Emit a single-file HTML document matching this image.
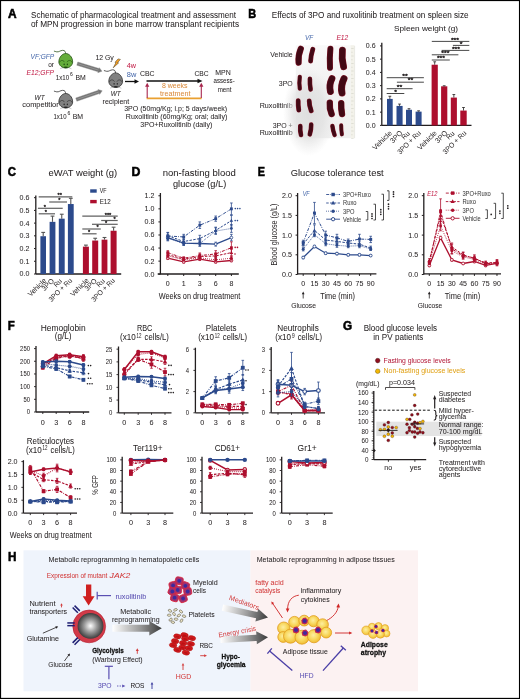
<!DOCTYPE html>
<html><head><meta charset="utf-8"><style>
html,body{margin:0;padding:0;background:#fff;}
svg{display:block;font-family:"Liberation Sans",sans-serif;will-change:transform;}
</style></head><body>
<svg width="520" height="699" viewBox="0 0 520 699" fill="#231f20">
<defs>
<radialGradient id="sph" cx="0.5" cy="0.5" r="0.55"><stop offset="0" stop-color="#ffffff"/><stop offset="0.45" stop-color="#9a9a9a"/><stop offset="1" stop-color="#2a2a2a"/></radialGradient>
<linearGradient id="garrow" x1="0" y1="0" x2="1" y2="0"><stop offset="0" stop-color="#ffffff"/><stop offset="0.55" stop-color="#9b9b9b"/><stop offset="1" stop-color="#3a3a3a"/></linearGradient>
<radialGradient id="fat" cx="0.45" cy="0.42" r="0.58"><stop offset="0" stop-color="#fdeea0"/><stop offset="0.55" stop-color="#f8d860"/><stop offset="1" stop-color="#f0bc32"/></radialGradient>
<linearGradient id="photo" x1="0" y1="0" x2="0" y2="1"><stop offset="0" stop-color="#f9f9f9"/><stop offset="0.3" stop-color="#f4f4f4"/><stop offset="1" stop-color="#efefef"/></linearGradient><radialGradient id="photo2" cx="0.5" cy="0.5" r="0.5"><stop offset="0" stop-color="#dedede" stop-opacity="1"/><stop offset="0.6" stop-color="#e2e2e2" stop-opacity="0.8"/><stop offset="1" stop-color="#e8e8e8" stop-opacity="0"/></radialGradient>
</defs>
<rect x="0.00" y="0.00" width="520.00" height="1.10" fill="#000" />
<rect x="0.00" y="0.00" width="1.10" height="699.00" fill="#000" />
<rect x="518.95" y="0.00" width="1.05" height="699.00" fill="#000" />
<rect x="0.00" y="697.85" width="520.00" height="1.15" fill="#000" />
<text x="8.00" y="18.10" font-size="12" fill="#000" stroke="#000" stroke-width="0.55" font-weight="bold" textLength="8.60" lengthAdjust="spacingAndGlyphs">A</text>
<text x="31.00" y="18.00" font-size="8.56" stroke="#231f20" stroke-width="0.04" textLength="205.00" lengthAdjust="spacingAndGlyphs">Schematic of pharmacological treatment and assessment</text>
<text x="31.00" y="27.00" font-size="8.56" stroke="#231f20" stroke-width="0.04" textLength="208.00" lengthAdjust="spacingAndGlyphs">of MPN progression in bone marrow transplant recipients</text>
<path d="M65.45,53.75 C65.75,51.95 64.95,50.15 62.55,50.35 C60.15,50.55 58.95,52.15 56.75,51.85 C55.55,51.75 54.75,51.15 53.95,51.05" fill="none" stroke="#1f4a10" stroke-width="0.75" />
<path d="M63.25,67.55 l-3.2,1.2 M68.25,67.55 l3.2,1.2" fill="none" stroke="#9a9a9a" stroke-width="0.5" />
<path d="M65.75,53.45 C68.75,53.45 72.65,56.75 72.65,61.95 C72.65,65.25 69.35,68.05 65.75,68.05 C62.15,68.05 58.85,65.25 58.85,61.95 C58.85,56.75 62.75,53.45 65.75,53.45 Z" fill="#64ad3a" stroke="#1f4a10" stroke-width="0.75" />
<path d="M59.55,62.35 C60.35,59.95 63.15,59.75 64.55,62.15 M71.95,62.35 C71.15,59.95 68.35,59.75 66.95,62.15" fill="none" stroke="#1f4a10" stroke-width="0.6" />
<ellipse cx="64.15" cy="64.35" rx="0.65" ry="0.9" fill="#1f4a10"/>
<ellipse cx="67.35" cy="64.35" rx="0.65" ry="0.9" fill="#1f4a10"/>
<ellipse cx="65.75" cy="67.35" rx="2.2" ry="0.8" fill="#1f4a10"/>
<path d="M115.40,73.20 C115.70,71.40 114.90,69.60 112.50,69.80 C110.10,70.00 108.90,71.60 106.70,71.30 C105.50,71.20 104.70,70.60 103.90,70.50" fill="none" stroke="#262626" stroke-width="0.75" />
<path d="M113.20,87.00 l-3.2,1.2 M118.20,87.00 l3.2,1.2" fill="none" stroke="#9a9a9a" stroke-width="0.5" />
<path d="M115.70,72.90 C118.70,72.90 122.60,76.20 122.60,81.40 C122.60,84.70 119.30,87.50 115.70,87.50 C112.10,87.50 108.80,84.70 108.80,81.40 C108.80,76.20 112.70,72.90 115.70,72.90 Z" fill="#808080" stroke="#262626" stroke-width="0.75" />
<path d="M109.50,81.80 C110.30,79.40 113.10,79.20 114.50,81.60 M121.90,81.80 C121.10,79.40 118.30,79.20 116.90,81.60" fill="none" stroke="#262626" stroke-width="0.6" />
<ellipse cx="114.10" cy="83.80" rx="0.65" ry="0.9" fill="#262626"/>
<ellipse cx="117.30" cy="83.80" rx="0.65" ry="0.9" fill="#262626"/>
<ellipse cx="115.70" cy="86.80" rx="2.2" ry="0.8" fill="#262626"/>
<path d="M76.80,65.22 L98.06,71.77 L97.79,72.63 L102.00,71.20 L99.32,67.66 L99.06,68.52 L77.80,61.98 Z" fill="#747474" stroke="#8a8a8a" stroke-width="0.4" />
<line x1="78.26" y1="63.89" x2="98.56" y2="70.14" stroke="#a8a8a8" stroke-width="0.6" />
<path d="M76.85,101.21 L99.34,93.57 L99.63,94.42 L102.20,90.80 L97.95,89.50 L98.24,90.35 L75.75,97.99 Z" fill="#747474" stroke="#8a8a8a" stroke-width="0.4" />
<line x1="77.25" y1="99.28" x2="98.79" y2="91.96" stroke="#a8a8a8" stroke-width="0.6" />
<text x="30.50" y="58.50" font-size="7.49" fill="#4a6bab" stroke="#4a6bab" stroke-width="0.04" font-style="italic" textLength="23.70" lengthAdjust="spacingAndGlyphs">VF;GFP</text>
<text x="48.20" y="66.50" font-size="7.49" stroke="#231f20" stroke-width="0.04" textLength="5.80" lengthAdjust="spacingAndGlyphs">or</text>
<text x="26.50" y="75.20" font-size="7.49" fill="#c2224a" stroke="#c2224a" stroke-width="0.04" font-style="italic" textLength="27.50" lengthAdjust="spacingAndGlyphs">E12;GFP</text>
<text x="55.80" y="79.60" font-size="7.49" stroke="#231f20" stroke-width="0.04" textLength="13.30" lengthAdjust="spacingAndGlyphs">1x10</text>
<text x="70.00" y="76.30" font-size="5.99" stroke="#231f20" stroke-width="0.04" textLength="2.80" lengthAdjust="spacingAndGlyphs">6</text>
<text x="75.50" y="79.60" font-size="7.49" stroke="#231f20" stroke-width="0.04" textLength="10.30" lengthAdjust="spacingAndGlyphs">BM</text>
<text x="34.60" y="100.10" font-size="7.49" stroke="#231f20" stroke-width="0.04" font-style="italic" textLength="10.00" lengthAdjust="spacingAndGlyphs">WT</text>
<text x="22.30" y="107.20" font-size="7.49" stroke="#231f20" stroke-width="0.04" textLength="36.40" lengthAdjust="spacingAndGlyphs">competitior</text>
<path d="M65.45,93.75 C65.75,91.95 64.95,90.15 62.55,90.35 C60.15,90.55 58.95,92.15 56.75,91.85 C55.55,91.75 54.75,91.15 53.95,91.05" fill="none" stroke="#262626" stroke-width="0.75" />
<path d="M63.25,107.55 l-3.2,1.2 M68.25,107.55 l3.2,1.2" fill="none" stroke="#9a9a9a" stroke-width="0.5" />
<path d="M65.75,93.45 C68.75,93.45 72.65,96.75 72.65,101.95 C72.65,105.25 69.35,108.05 65.75,108.05 C62.15,108.05 58.85,105.25 58.85,101.95 C58.85,96.75 62.75,93.45 65.75,93.45 Z" fill="#808080" stroke="#262626" stroke-width="0.75" />
<path d="M59.55,102.35 C60.35,99.95 63.15,99.75 64.55,102.15 M71.95,102.35 C71.15,99.95 68.35,99.75 66.95,102.15" fill="none" stroke="#262626" stroke-width="0.6" />
<ellipse cx="64.15" cy="104.35" rx="0.65" ry="0.9" fill="#262626"/>
<ellipse cx="67.35" cy="104.35" rx="0.65" ry="0.9" fill="#262626"/>
<ellipse cx="65.75" cy="107.35" rx="2.2" ry="0.8" fill="#262626"/>
<text x="53.50" y="118.60" font-size="7.49" stroke="#231f20" stroke-width="0.04" textLength="13.00" lengthAdjust="spacingAndGlyphs">1x10</text>
<text x="67.40" y="115.30" font-size="5.99" stroke="#231f20" stroke-width="0.04" textLength="2.80" lengthAdjust="spacingAndGlyphs">6</text>
<text x="72.70" y="118.60" font-size="7.49" stroke="#231f20" stroke-width="0.04" textLength="10.40" lengthAdjust="spacingAndGlyphs">BM</text>
<text x="95.40" y="60.40" font-size="7.49" stroke="#231f20" stroke-width="0.04" textLength="18.40" lengthAdjust="spacingAndGlyphs">12 Gy</text>
<path d="M118.0,58.9 L120.4,59.4 L117.6,62.6 L118.6,62.9 L113.2,67.8 L116.0,62.6 L115.0,62.3 Z" fill="#f2a025" stroke="#4a3a20" stroke-width="0.5" />
<text x="110.80" y="95.80" font-size="7.49" stroke="#231f20" stroke-width="0.04" font-style="italic" textLength="10.00" lengthAdjust="spacingAndGlyphs">WT</text>
<text x="102.60" y="103.70" font-size="7.49" stroke="#231f20" stroke-width="0.04" textLength="26.60" lengthAdjust="spacingAndGlyphs">recipient</text>
<text x="126.80" y="68.20" font-size="7.49" fill="#c2224a" stroke="#c2224a" stroke-width="0.04" textLength="9.20" lengthAdjust="spacingAndGlyphs">4w</text>
<text x="126.80" y="77.20" font-size="7.49" fill="#4a6bab" stroke="#4a6bab" stroke-width="0.04" textLength="9.50" lengthAdjust="spacingAndGlyphs">8w</text>
<line x1="125.00" y1="81.50" x2="136.00" y2="81.50" stroke="#111" stroke-width="1.3" />
<path d="M134.5,79.2 L139.0,81.5 L134.5,83.8 Z" fill="#111" />
<text x="140.00" y="75.80" font-size="7.49" stroke="#231f20" stroke-width="0.04" textLength="14.60" lengthAdjust="spacingAndGlyphs">CBC</text>
<text x="194.40" y="75.80" font-size="7.49" stroke="#231f20" stroke-width="0.04" textLength="14.20" lengthAdjust="spacingAndGlyphs">CBC</text>
<text x="215.30" y="74.70" font-size="7.49" stroke="#231f20" stroke-width="0.04" textLength="15.50" lengthAdjust="spacingAndGlyphs">MPN</text>
<text x="213.50" y="83.10" font-size="7.49" stroke="#231f20" stroke-width="0.04" textLength="21.20" lengthAdjust="spacingAndGlyphs">assess-</text>
<text x="217.70" y="91.60" font-size="7.49" stroke="#231f20" stroke-width="0.04" textLength="13.80" lengthAdjust="spacingAndGlyphs">ment</text>
<line x1="146.50" y1="81.00" x2="199.50" y2="81.00" stroke="#111" stroke-width="1.3" />
<path d="M197.5,78.8 L202.5,81.0 L197.5,83.2 Z" fill="#111" />
<line x1="146.60" y1="98.40" x2="201.60" y2="98.40" stroke="#eaa030" stroke-width="1.6" />
<line x1="147.20" y1="98.00" x2="147.20" y2="86.00" stroke="#a8274e" stroke-width="1.1" />
<path d="M145.1,86.8 L147.2,82.8 L149.3,86.8 Z" fill="#a8274e" />
<line x1="201.30" y1="98.00" x2="201.30" y2="86.00" stroke="#a8274e" stroke-width="1.1" />
<path d="M199.2,86.8 L201.3,82.8 L203.4,86.8 Z" fill="#a8274e" />
<text x="162.00" y="88.00" font-size="7.49" fill="#d98b3e" stroke="#d98b3e" stroke-width="0.04" textLength="25.60" lengthAdjust="spacingAndGlyphs">8 weeks</text>
<text x="160.00" y="96.20" font-size="7.49" fill="#d98b3e" stroke="#d98b3e" stroke-width="0.04" textLength="30.40" lengthAdjust="spacingAndGlyphs">treatment</text>
<text x="124.20" y="111.20" font-size="7.49" stroke="#231f20" stroke-width="0.04" textLength="103.00" lengthAdjust="spacingAndGlyphs">3PO (50mg/Kg; i.p; 5 days/week)</text>
<text x="125.80" y="119.00" font-size="7.49" stroke="#231f20" stroke-width="0.04" textLength="101.50" lengthAdjust="spacingAndGlyphs">Ruxolitinib (60mg/Kg; oral; daily)</text>
<text x="140.30" y="126.60" font-size="7.49" stroke="#231f20" stroke-width="0.04" textLength="72.00" lengthAdjust="spacingAndGlyphs">3PO+Ruxolitinib (daily)</text>
<text x="248.30" y="18.00" font-size="12" fill="#000" stroke="#000" stroke-width="0.55" font-weight="bold" textLength="7.90" lengthAdjust="spacingAndGlyphs">B</text>
<text x="271.80" y="17.50" font-size="8.13" stroke="#231f20" stroke-width="0.04" textLength="196.80" lengthAdjust="spacingAndGlyphs">Effects of 3PO and ruxolitinib treatment on spleen size</text>
<text x="305.00" y="40.40" font-size="7.49" fill="#4a6bab" stroke="#4a6bab" stroke-width="0.04" font-style="italic" textLength="8.20" lengthAdjust="spacingAndGlyphs">VF</text>
<text x="336.40" y="40.40" font-size="7.49" fill="#c2224a" stroke="#c2224a" stroke-width="0.04" font-style="italic" textLength="11.80" lengthAdjust="spacingAndGlyphs">E12</text>
<text x="292.70" y="57.00" font-size="7.49" stroke="#231f20" stroke-width="0.04" text-anchor="end" textLength="22.40" lengthAdjust="spacingAndGlyphs">Vehicle</text>
<text x="292.70" y="85.80" font-size="7.49" stroke="#231f20" stroke-width="0.04" text-anchor="end" textLength="13.90" lengthAdjust="spacingAndGlyphs">3PO</text>
<text x="292.70" y="107.70" font-size="7.49" stroke="#231f20" stroke-width="0.04" text-anchor="end" textLength="33.00" lengthAdjust="spacingAndGlyphs">Ruxolitinib</text>
<text x="292.70" y="127.90" font-size="7.49" stroke="#231f20" stroke-width="0.04" text-anchor="end" textLength="20.00" lengthAdjust="spacingAndGlyphs">3PO +</text>
<text x="292.70" y="135.30" font-size="7.49" stroke="#231f20" stroke-width="0.04" text-anchor="end" textLength="33.00" lengthAdjust="spacingAndGlyphs">Ruxolitinib</text>
<rect x="295.80" y="45.20" width="55.00" height="93.00" fill="url(#photo)" />
<ellipse cx="309" cy="112" rx="26" ry="44" fill="url(#photo2)"/>
<rect x="295.80" y="45.20" width="55.00" height="93.00" fill="none" stroke="#fff" stroke-width="0"/>
<rect x="350.60" y="45.20" width="4.00" height="93.00" fill="#f3f2ea" />
<line x1="354.60" y1="46.00" x2="354.60" y2="138.20" stroke="#dcdcd4" stroke-width="0.5" />
<line x1="351.20" y1="48.50" x2="353.60" y2="48.50" stroke="#c8c8bc" stroke-width="0.45" />
<line x1="351.20" y1="52.25" x2="352.60" y2="52.25" stroke="#c8c8bc" stroke-width="0.45" />
<line x1="351.20" y1="56.00" x2="353.60" y2="56.00" stroke="#c8c8bc" stroke-width="0.45" />
<line x1="351.20" y1="59.75" x2="352.60" y2="59.75" stroke="#c8c8bc" stroke-width="0.45" />
<line x1="351.20" y1="63.50" x2="353.60" y2="63.50" stroke="#c8c8bc" stroke-width="0.45" />
<line x1="351.20" y1="67.25" x2="352.60" y2="67.25" stroke="#c8c8bc" stroke-width="0.45" />
<line x1="351.20" y1="71.00" x2="353.60" y2="71.00" stroke="#c8c8bc" stroke-width="0.45" />
<line x1="351.20" y1="74.75" x2="352.60" y2="74.75" stroke="#c8c8bc" stroke-width="0.45" />
<line x1="351.20" y1="78.50" x2="353.60" y2="78.50" stroke="#c8c8bc" stroke-width="0.45" />
<line x1="351.20" y1="82.25" x2="352.60" y2="82.25" stroke="#c8c8bc" stroke-width="0.45" />
<line x1="351.20" y1="86.00" x2="353.60" y2="86.00" stroke="#c8c8bc" stroke-width="0.45" />
<line x1="351.20" y1="89.75" x2="352.60" y2="89.75" stroke="#c8c8bc" stroke-width="0.45" />
<line x1="351.20" y1="93.50" x2="353.60" y2="93.50" stroke="#c8c8bc" stroke-width="0.45" />
<line x1="351.20" y1="97.25" x2="352.60" y2="97.25" stroke="#c8c8bc" stroke-width="0.45" />
<line x1="351.20" y1="101.00" x2="353.60" y2="101.00" stroke="#c8c8bc" stroke-width="0.45" />
<line x1="351.20" y1="104.75" x2="352.60" y2="104.75" stroke="#c8c8bc" stroke-width="0.45" />
<line x1="351.20" y1="108.50" x2="353.60" y2="108.50" stroke="#c8c8bc" stroke-width="0.45" />
<line x1="351.20" y1="112.25" x2="352.60" y2="112.25" stroke="#c8c8bc" stroke-width="0.45" />
<line x1="351.20" y1="116.00" x2="353.60" y2="116.00" stroke="#c8c8bc" stroke-width="0.45" />
<line x1="351.20" y1="119.75" x2="352.60" y2="119.75" stroke="#c8c8bc" stroke-width="0.45" />
<line x1="351.20" y1="123.50" x2="353.60" y2="123.50" stroke="#c8c8bc" stroke-width="0.45" />
<line x1="351.20" y1="127.25" x2="352.60" y2="127.25" stroke="#c8c8bc" stroke-width="0.45" />
<line x1="351.20" y1="131.00" x2="353.60" y2="131.00" stroke="#c8c8bc" stroke-width="0.45" />
<line x1="351.20" y1="134.75" x2="352.60" y2="134.75" stroke="#c8c8bc" stroke-width="0.45" />
<line x1="351.20" y1="138.50" x2="353.60" y2="138.50" stroke="#c8c8bc" stroke-width="0.45" />
<path d="M300.80,48.80 Q297.90,55.70 298.60,62.60" fill="none" stroke="#801628" stroke-width="6.199999999999999" stroke-linecap="round"/>
<path d="M300.80,48.80 Q297.90,55.70 298.60,62.60" fill="none" stroke="#420915" stroke-width="5.199999999999999" stroke-linecap="round"/>
<path d="M312.80,49.20 Q310.90,55.20 310.60,61.20" fill="none" stroke="#801628" stroke-width="4.8" stroke-linecap="round"/>
<path d="M312.80,49.20 Q310.90,55.20 310.60,61.20" fill="none" stroke="#420915" stroke-width="3.8000000000000003" stroke-linecap="round"/>
<path d="M330.40,48.80 Q329.40,58.30 330.00,67.80" fill="none" stroke="#801628" stroke-width="6.0" stroke-linecap="round"/>
<path d="M330.40,48.80 Q329.40,58.30 330.00,67.80" fill="none" stroke="#420915" stroke-width="5.0" stroke-linecap="round"/>
<path d="M342.40,50.20 Q341.40,58.50 343.60,66.80" fill="none" stroke="#801628" stroke-width="6.8" stroke-linecap="round"/>
<path d="M342.40,50.20 Q341.40,58.50 343.60,66.80" fill="none" stroke="#420915" stroke-width="5.8" stroke-linecap="round"/>
<path d="M299.80,76.80 Q299.00,82.70 299.80,88.60" fill="none" stroke="#801628" stroke-width="4.2" stroke-linecap="round"/>
<path d="M299.80,76.80 Q299.00,82.70 299.80,88.60" fill="none" stroke="#420915" stroke-width="3.2" stroke-linecap="round"/>
<path d="M309.90,78.80 Q309.65,84.10 310.60,89.40" fill="none" stroke="#801628" stroke-width="4.6" stroke-linecap="round"/>
<path d="M309.90,78.80 Q309.65,84.10 310.60,89.40" fill="none" stroke="#420915" stroke-width="3.6" stroke-linecap="round"/>
<path d="M332.00,78.60 Q328.80,85.10 330.40,91.60" fill="none" stroke="#801628" stroke-width="6.8" stroke-linecap="round"/>
<path d="M332.00,78.60 Q328.80,85.10 330.40,91.60" fill="none" stroke="#420915" stroke-width="5.8" stroke-linecap="round"/>
<path d="M344.00,78.60 Q340.40,85.80 342.00,93.00" fill="none" stroke="#801628" stroke-width="7.0" stroke-linecap="round"/>
<path d="M344.00,78.60 Q340.40,85.80 342.00,93.00" fill="none" stroke="#420915" stroke-width="6.0" stroke-linecap="round"/>
<path d="M298.20,100.60 Q298.00,105.40 298.80,110.20" fill="none" stroke="#801628" stroke-width="4.8" stroke-linecap="round"/>
<path d="M298.20,100.60 Q298.00,105.40 298.80,110.20" fill="none" stroke="#420915" stroke-width="3.8000000000000003" stroke-linecap="round"/>
<path d="M309.20,100.80 Q309.20,105.80 311.20,110.80" fill="none" stroke="#801628" stroke-width="4.8" stroke-linecap="round"/>
<path d="M309.20,100.80 Q309.20,105.80 311.20,110.80" fill="none" stroke="#420915" stroke-width="3.8000000000000003" stroke-linecap="round"/>
<path d="M329.80,102.60 Q329.20,108.30 331.60,114.00" fill="none" stroke="#801628" stroke-width="6.3999999999999995" stroke-linecap="round"/>
<path d="M329.80,102.60 Q329.20,108.30 331.60,114.00" fill="none" stroke="#420915" stroke-width="5.3999999999999995" stroke-linecap="round"/>
<path d="M341.20,103.20 Q341.00,108.60 342.00,114.00" fill="none" stroke="#801628" stroke-width="6.3999999999999995" stroke-linecap="round"/>
<path d="M341.20,103.20 Q341.00,108.60 342.00,114.00" fill="none" stroke="#420915" stroke-width="5.3999999999999995" stroke-linecap="round"/>
<path d="M300.30,126.00 Q299.85,130.50 301.00,135.00" fill="none" stroke="#801628" stroke-width="4.6" stroke-linecap="round"/>
<path d="M300.30,126.00 Q299.85,130.50 301.00,135.00" fill="none" stroke="#420915" stroke-width="3.6" stroke-linecap="round"/>
<path d="M311.20,124.60 Q311.30,129.50 309.80,134.40" fill="none" stroke="#801628" stroke-width="4.6" stroke-linecap="round"/>
<path d="M311.20,124.60 Q311.30,129.50 309.80,134.40" fill="none" stroke="#420915" stroke-width="3.6" stroke-linecap="round"/>
<path d="M332.40,126.00 Q332.90,130.50 334.60,135.00" fill="none" stroke="#801628" stroke-width="4.3999999999999995" stroke-linecap="round"/>
<path d="M332.40,126.00 Q332.90,130.50 334.60,135.00" fill="none" stroke="#420915" stroke-width="3.4" stroke-linecap="round"/>
<path d="M341.20,125.20 Q341.15,129.80 341.90,134.40" fill="none" stroke="#801628" stroke-width="4.0" stroke-linecap="round"/>
<path d="M341.20,125.20 Q341.15,129.80 341.90,134.40" fill="none" stroke="#420915" stroke-width="3.0" stroke-linecap="round"/>
<text x="394.00" y="30.60" font-size="7.7" stroke="#231f20" stroke-width="0.04" textLength="64.00" lengthAdjust="spacingAndGlyphs">Spleen weight (g)</text>
<line x1="381.80" y1="42.80" x2="381.80" y2="125.40" stroke="#231f20" stroke-width="1.3" />
<line x1="380.00" y1="125.40" x2="381.80" y2="125.40" stroke="#231f20" stroke-width="1.0" />
<text x="375.60" y="127.85" font-size="7.28" stroke="#231f20" stroke-width="0.04" text-anchor="end" textLength="9.75" lengthAdjust="spacingAndGlyphs">0.0</text>
<line x1="380.00" y1="112.15" x2="381.80" y2="112.15" stroke="#231f20" stroke-width="1.0" />
<text x="375.60" y="114.60" font-size="7.28" stroke="#231f20" stroke-width="0.04" text-anchor="end" textLength="9.75" lengthAdjust="spacingAndGlyphs">0.1</text>
<line x1="380.00" y1="98.90" x2="381.80" y2="98.90" stroke="#231f20" stroke-width="1.0" />
<text x="375.60" y="101.35" font-size="7.28" stroke="#231f20" stroke-width="0.04" text-anchor="end" textLength="9.75" lengthAdjust="spacingAndGlyphs">0.2</text>
<line x1="380.00" y1="85.65" x2="381.80" y2="85.65" stroke="#231f20" stroke-width="1.0" />
<text x="375.60" y="88.10" font-size="7.28" stroke="#231f20" stroke-width="0.04" text-anchor="end" textLength="9.75" lengthAdjust="spacingAndGlyphs">0.3</text>
<line x1="380.00" y1="72.40" x2="381.80" y2="72.40" stroke="#231f20" stroke-width="1.0" />
<text x="375.60" y="74.85" font-size="7.28" stroke="#231f20" stroke-width="0.04" text-anchor="end" textLength="9.75" lengthAdjust="spacingAndGlyphs">0.4</text>
<line x1="380.00" y1="59.15" x2="381.80" y2="59.15" stroke="#231f20" stroke-width="1.0" />
<text x="375.60" y="61.60" font-size="7.28" stroke="#231f20" stroke-width="0.04" text-anchor="end" textLength="9.75" lengthAdjust="spacingAndGlyphs">0.5</text>
<line x1="380.00" y1="45.90" x2="381.80" y2="45.90" stroke="#231f20" stroke-width="1.0" />
<text x="375.60" y="48.35" font-size="7.28" stroke="#231f20" stroke-width="0.04" text-anchor="end" textLength="9.75" lengthAdjust="spacingAndGlyphs">0.6</text>
<line x1="381.80" y1="125.40" x2="471.50" y2="125.40" stroke="#231f20" stroke-width="1.3" />
<rect x="387.00" y="98.90" width="5.70" height="26.50" fill="#2c4a8c" />
<line x1="389.85" y1="98.90" x2="389.85" y2="96.25" stroke="#231f20" stroke-width="0.8" />
<line x1="388.45" y1="96.25" x2="391.25" y2="96.25" stroke="#231f20" stroke-width="0.8" />
<rect x="396.50" y="105.92" width="6.10" height="19.48" fill="#2c4a8c" />
<line x1="399.55" y1="105.92" x2="399.55" y2="104.07" stroke="#231f20" stroke-width="0.8" />
<line x1="398.15" y1="104.07" x2="400.95" y2="104.07" stroke="#231f20" stroke-width="0.8" />
<rect x="406.00" y="109.77" width="6.00" height="15.64" fill="#2c4a8c" />
<line x1="409.00" y1="109.77" x2="409.00" y2="108.71" stroke="#231f20" stroke-width="0.8" />
<line x1="407.60" y1="108.71" x2="410.40" y2="108.71" stroke="#231f20" stroke-width="0.8" />
<rect x="415.60" y="111.62" width="6.00" height="13.78" fill="#2c4a8c" />
<line x1="418.60" y1="111.62" x2="418.60" y2="110.83" stroke="#231f20" stroke-width="0.8" />
<line x1="417.20" y1="110.83" x2="420.00" y2="110.83" stroke="#231f20" stroke-width="0.8" />
<rect x="431.60" y="64.72" width="6.20" height="60.69" fill="#ad0f2e" />
<line x1="434.70" y1="64.72" x2="434.70" y2="61.80" stroke="#231f20" stroke-width="0.8" />
<line x1="433.30" y1="61.80" x2="436.10" y2="61.80" stroke="#231f20" stroke-width="0.8" />
<rect x="441.10" y="86.31" width="6.20" height="39.09" fill="#ad0f2e" />
<line x1="444.20" y1="86.31" x2="444.20" y2="85.78" stroke="#231f20" stroke-width="0.8" />
<line x1="442.80" y1="85.78" x2="445.60" y2="85.78" stroke="#231f20" stroke-width="0.8" />
<rect x="450.80" y="97.58" width="6.10" height="27.83" fill="#ad0f2e" />
<line x1="453.85" y1="97.58" x2="453.85" y2="94.53" stroke="#231f20" stroke-width="0.8" />
<line x1="452.45" y1="94.53" x2="455.25" y2="94.53" stroke="#231f20" stroke-width="0.8" />
<rect x="460.30" y="110.56" width="6.40" height="14.84" fill="#ad0f2e" />
<line x1="463.50" y1="110.56" x2="463.50" y2="107.51" stroke="#231f20" stroke-width="0.8" />
<line x1="462.10" y1="107.51" x2="464.90" y2="107.51" stroke="#231f20" stroke-width="0.8" />
<line x1="386.70" y1="77.70" x2="423.90" y2="77.70" stroke="#333" stroke-width="0.9" />
<text x="405.00" y="77.92" font-size="5.2" stroke="#231f20" stroke-width="0.3" text-anchor="middle" textLength="5.50" lengthAdjust="spacingAndGlyphs">**</text>
<line x1="396.90" y1="82.20" x2="423.90" y2="82.20" stroke="#333" stroke-width="0.9" />
<text x="410.40" y="82.42" font-size="5.2" stroke="#231f20" stroke-width="0.3" text-anchor="middle" textLength="5.50" lengthAdjust="spacingAndGlyphs">**</text>
<line x1="386.70" y1="88.70" x2="412.60" y2="88.70" stroke="#333" stroke-width="0.9" />
<text x="399.60" y="88.92" font-size="5.2" stroke="#231f20" stroke-width="0.3" text-anchor="middle" textLength="5.50" lengthAdjust="spacingAndGlyphs">**</text>
<line x1="386.70" y1="93.50" x2="404.30" y2="93.50" stroke="#333" stroke-width="0.9" />
<text x="395.70" y="93.72" font-size="5.2" stroke="#231f20" stroke-width="0.3" text-anchor="middle" textLength="2.75" lengthAdjust="spacingAndGlyphs">*</text>
<line x1="431.80" y1="41.40" x2="469.30" y2="41.40" stroke="#333" stroke-width="0.9" />
<text x="455.00" y="41.62" font-size="5.2" stroke="#231f20" stroke-width="0.3" text-anchor="middle" textLength="8.25" lengthAdjust="spacingAndGlyphs">***</text>
<line x1="452.90" y1="45.40" x2="469.30" y2="45.40" stroke="#333" stroke-width="0.9" />
<text x="461.20" y="45.62" font-size="5.2" stroke="#231f20" stroke-width="0.3" text-anchor="middle" textLength="2.75" lengthAdjust="spacingAndGlyphs">*</text>
<line x1="441.60" y1="50.40" x2="469.30" y2="50.40" stroke="#333" stroke-width="0.9" />
<text x="456.00" y="50.62" font-size="5.2" stroke="#231f20" stroke-width="0.3" text-anchor="middle" textLength="8.25" lengthAdjust="spacingAndGlyphs">***</text>
<line x1="431.80" y1="54.80" x2="458.40" y2="54.80" stroke="#333" stroke-width="0.9" />
<text x="445.30" y="55.02" font-size="5.2" stroke="#231f20" stroke-width="0.3" text-anchor="middle" textLength="8.25" lengthAdjust="spacingAndGlyphs">***</text>
<line x1="431.80" y1="60.00" x2="449.80" y2="60.00" stroke="#333" stroke-width="0.9" />
<text x="441.00" y="60.22" font-size="5.2" stroke="#231f20" stroke-width="0.3" text-anchor="middle" textLength="8.25" lengthAdjust="spacingAndGlyphs">***</text>
<text x="0" y="0" font-size="7.2" text-anchor="end" transform="translate(392.40,133.50) rotate(-45)" textLength="24.20" lengthAdjust="spacingAndGlyphs">Vehicle</text>
<text x="0" y="0" font-size="7.2" text-anchor="end" transform="translate(402.80,133.50) rotate(-45)" textLength="14.00" lengthAdjust="spacingAndGlyphs">3PO</text>
<text x="0" y="0" font-size="7.2" text-anchor="end" transform="translate(410.30,134.00) rotate(-45)" textLength="8.60" lengthAdjust="spacingAndGlyphs">Ru</text>
<text x="0" y="0" font-size="7.2" text-anchor="end" transform="translate(421.40,133.50) rotate(-45)" textLength="30.00" lengthAdjust="spacingAndGlyphs">3PO + Ru</text>
<text x="0" y="0" font-size="7.2" text-anchor="end" transform="translate(437.30,133.50) rotate(-45)" textLength="24.20" lengthAdjust="spacingAndGlyphs">Vehicle</text>
<text x="0" y="0" font-size="7.2" text-anchor="end" transform="translate(447.80,133.50) rotate(-45)" textLength="14.00" lengthAdjust="spacingAndGlyphs">3PO</text>
<text x="0" y="0" font-size="7.2" text-anchor="end" transform="translate(455.10,134.00) rotate(-45)" textLength="8.60" lengthAdjust="spacingAndGlyphs">Ru</text>
<text x="0" y="0" font-size="7.2" text-anchor="end" transform="translate(466.80,133.50) rotate(-45)" textLength="30.00" lengthAdjust="spacingAndGlyphs">3PO + Ru</text>
<text x="7.70" y="176.20" font-size="12" fill="#000" stroke="#000" stroke-width="0.55" font-weight="bold" textLength="8.20" lengthAdjust="spacingAndGlyphs">C</text>
<text x="48.50" y="175.80" font-size="8.88" stroke="#231f20" stroke-width="0.04" textLength="68.70" lengthAdjust="spacingAndGlyphs">eWAT weight (g)</text>
<line x1="35.80" y1="195.40" x2="35.80" y2="274.00" stroke="#231f20" stroke-width="1.3" />
<line x1="34.00" y1="274.00" x2="35.80" y2="274.00" stroke="#231f20" stroke-width="1.0" />
<text x="29.40" y="276.45" font-size="7.28" stroke="#231f20" stroke-width="0.04" text-anchor="end" textLength="9.90" lengthAdjust="spacingAndGlyphs">0.0</text>
<line x1="34.00" y1="261.28" x2="35.80" y2="261.28" stroke="#231f20" stroke-width="1.0" />
<text x="29.40" y="263.73" font-size="7.28" stroke="#231f20" stroke-width="0.04" text-anchor="end" textLength="9.90" lengthAdjust="spacingAndGlyphs">0.1</text>
<line x1="34.00" y1="248.56" x2="35.80" y2="248.56" stroke="#231f20" stroke-width="1.0" />
<text x="29.40" y="251.01" font-size="7.28" stroke="#231f20" stroke-width="0.04" text-anchor="end" textLength="9.90" lengthAdjust="spacingAndGlyphs">0.2</text>
<line x1="34.00" y1="235.84" x2="35.80" y2="235.84" stroke="#231f20" stroke-width="1.0" />
<text x="29.40" y="238.29" font-size="7.28" stroke="#231f20" stroke-width="0.04" text-anchor="end" textLength="9.90" lengthAdjust="spacingAndGlyphs">0.3</text>
<line x1="34.00" y1="223.12" x2="35.80" y2="223.12" stroke="#231f20" stroke-width="1.0" />
<text x="29.40" y="225.57" font-size="7.28" stroke="#231f20" stroke-width="0.04" text-anchor="end" textLength="9.90" lengthAdjust="spacingAndGlyphs">0.4</text>
<line x1="34.00" y1="210.40" x2="35.80" y2="210.40" stroke="#231f20" stroke-width="1.0" />
<text x="29.40" y="212.85" font-size="7.28" stroke="#231f20" stroke-width="0.04" text-anchor="end" textLength="9.90" lengthAdjust="spacingAndGlyphs">0.5</text>
<line x1="34.00" y1="197.68" x2="35.80" y2="197.68" stroke="#231f20" stroke-width="1.0" />
<text x="29.40" y="200.13" font-size="7.28" stroke="#231f20" stroke-width="0.04" text-anchor="end" textLength="9.90" lengthAdjust="spacingAndGlyphs">0.6</text>
<line x1="35.80" y1="274.00" x2="121.20" y2="274.00" stroke="#231f20" stroke-width="1.3" />
<rect x="40.40" y="236.22" width="5.60" height="37.78" fill="#2c4a8c" />
<line x1="43.20" y1="236.22" x2="43.20" y2="232.41" stroke="#555" stroke-width="1.1" />
<line x1="41.30" y1="232.41" x2="45.10" y2="232.41" stroke="#555" stroke-width="1.1" />
<rect x="49.60" y="221.85" width="5.80" height="52.15" fill="#2c4a8c" />
<line x1="52.50" y1="221.85" x2="52.50" y2="216.12" stroke="#555" stroke-width="1.1" />
<line x1="50.60" y1="216.12" x2="54.40" y2="216.12" stroke="#555" stroke-width="1.1" />
<rect x="58.80" y="218.67" width="5.90" height="55.33" fill="#2c4a8c" />
<line x1="61.75" y1="218.67" x2="61.75" y2="214.22" stroke="#555" stroke-width="1.1" />
<line x1="59.85" y1="214.22" x2="63.65" y2="214.22" stroke="#555" stroke-width="1.1" />
<rect x="67.90" y="204.04" width="5.80" height="69.96" fill="#2c4a8c" />
<line x1="70.80" y1="204.04" x2="70.80" y2="198.32" stroke="#555" stroke-width="1.1" />
<line x1="68.90" y1="198.32" x2="72.70" y2="198.32" stroke="#555" stroke-width="1.1" />
<rect x="82.90" y="246.65" width="6.00" height="27.35" fill="#ad0f2e" />
<line x1="85.90" y1="246.65" x2="85.90" y2="245.13" stroke="#555" stroke-width="1.1" />
<line x1="84.00" y1="245.13" x2="87.80" y2="245.13" stroke="#555" stroke-width="1.1" />
<rect x="92.20" y="240.55" width="6.00" height="33.45" fill="#ad0f2e" />
<line x1="95.20" y1="240.55" x2="95.20" y2="238.26" stroke="#555" stroke-width="1.1" />
<line x1="93.30" y1="238.26" x2="97.10" y2="238.26" stroke="#555" stroke-width="1.1" />
<rect x="101.60" y="239.66" width="5.80" height="34.34" fill="#ad0f2e" />
<line x1="104.50" y1="239.66" x2="104.50" y2="237.49" stroke="#555" stroke-width="1.1" />
<line x1="102.60" y1="237.49" x2="106.40" y2="237.49" stroke="#555" stroke-width="1.1" />
<rect x="110.60" y="230.75" width="6.00" height="43.25" fill="#ad0f2e" />
<line x1="113.60" y1="230.75" x2="113.60" y2="227.19" stroke="#555" stroke-width="1.1" />
<line x1="111.70" y1="227.19" x2="115.50" y2="227.19" stroke="#555" stroke-width="1.1" />
<rect x="90.20" y="189.30" width="6.50" height="3.40" fill="#2c4a8c" />
<rect x="90.20" y="199.90" width="6.50" height="3.40" fill="#ad0f2e" />
<text x="99.70" y="192.90" font-size="7.28" stroke="#231f20" stroke-width="0.04" textLength="6.80" lengthAdjust="spacingAndGlyphs">VF</text>
<text x="99.70" y="203.70" font-size="7.28" stroke="#231f20" stroke-width="0.04" textLength="11.10" lengthAdjust="spacingAndGlyphs">E12</text>
<line x1="38.70" y1="196.90" x2="72.30" y2="196.90" stroke="#606060" stroke-width="1.2" />
<text x="59.80" y="197.30" font-size="5.0" stroke="#231f20" stroke-width="0.3" text-anchor="middle" textLength="4.40" lengthAdjust="spacingAndGlyphs">**</text>
<line x1="49.20" y1="202.00" x2="67.00" y2="202.00" stroke="#606060" stroke-width="1.2" />
<text x="59.30" y="202.40" font-size="5.0" stroke="#231f20" stroke-width="0.3" text-anchor="middle" textLength="2.20" lengthAdjust="spacingAndGlyphs">*</text>
<line x1="37.90" y1="208.30" x2="62.70" y2="208.30" stroke="#606060" stroke-width="1.2" />
<text x="44.90" y="208.70" font-size="5.0" stroke="#231f20" stroke-width="0.3" text-anchor="middle" textLength="2.20" lengthAdjust="spacingAndGlyphs">*</text>
<line x1="38.70" y1="213.80" x2="55.00" y2="213.80" stroke="#606060" stroke-width="1.2" />
<text x="45.90" y="214.20" font-size="5.0" stroke="#231f20" stroke-width="0.3" text-anchor="middle" textLength="2.20" lengthAdjust="spacingAndGlyphs">*</text>
<line x1="82.30" y1="216.20" x2="117.70" y2="216.20" stroke="#606060" stroke-width="1.2" />
<text x="108.00" y="216.60" font-size="5.0" stroke="#231f20" stroke-width="0.3" text-anchor="middle" textLength="6.60" lengthAdjust="spacingAndGlyphs">***</text>
<line x1="101.20" y1="220.50" x2="117.70" y2="220.50" stroke="#606060" stroke-width="1.2" />
<text x="114.60" y="220.90" font-size="5.0" stroke="#231f20" stroke-width="0.3" text-anchor="middle" textLength="2.20" lengthAdjust="spacingAndGlyphs">*</text>
<line x1="92.00" y1="224.30" x2="117.70" y2="224.30" stroke="#606060" stroke-width="1.2" />
<text x="106.00" y="224.70" font-size="5.0" stroke="#231f20" stroke-width="0.3" text-anchor="middle" textLength="2.20" lengthAdjust="spacingAndGlyphs">*</text>
<line x1="82.30" y1="229.00" x2="100.80" y2="229.00" stroke="#606060" stroke-width="1.2" />
<text x="97.70" y="229.40" font-size="5.0" stroke="#231f20" stroke-width="0.3" text-anchor="middle" textLength="2.20" lengthAdjust="spacingAndGlyphs">*</text>
<line x1="82.30" y1="233.80" x2="96.60" y2="233.80" stroke="#606060" stroke-width="1.2" />
<text x="89.20" y="234.20" font-size="5.0" stroke="#231f20" stroke-width="0.3" text-anchor="middle" textLength="2.20" lengthAdjust="spacingAndGlyphs">*</text>
<text x="0" y="0" font-size="7.2" text-anchor="end" transform="translate(46.80,281.00) rotate(-45)" textLength="22.80" lengthAdjust="spacingAndGlyphs">Vehicle</text>
<text x="0" y="0" font-size="7.2" text-anchor="end" transform="translate(54.50,281.30) rotate(-45)" textLength="14.00" lengthAdjust="spacingAndGlyphs">3PO</text>
<text x="0" y="0" font-size="7.2" text-anchor="end" transform="translate(62.50,281.60) rotate(-45)" textLength="8.60" lengthAdjust="spacingAndGlyphs">Ru</text>
<text x="0" y="0" font-size="7.2" text-anchor="end" transform="translate(72.60,281.00) rotate(-45)" textLength="30.00" lengthAdjust="spacingAndGlyphs">3PO + Ru</text>
<text x="0" y="0" font-size="7.2" text-anchor="end" transform="translate(89.40,281.00) rotate(-45)" textLength="22.80" lengthAdjust="spacingAndGlyphs">Vehicle</text>
<text x="0" y="0" font-size="7.2" text-anchor="end" transform="translate(97.40,281.30) rotate(-45)" textLength="14.00" lengthAdjust="spacingAndGlyphs">3PO</text>
<text x="0" y="0" font-size="7.2" text-anchor="end" transform="translate(105.30,281.60) rotate(-45)" textLength="8.60" lengthAdjust="spacingAndGlyphs">Ru</text>
<text x="0" y="0" font-size="7.2" text-anchor="end" transform="translate(115.40,281.00) rotate(-45)" textLength="30.00" lengthAdjust="spacingAndGlyphs">3PO + Ru</text>
<text x="131.50" y="176.00" font-size="12" fill="#000" stroke="#000" stroke-width="0.55" font-weight="bold" textLength="8.90" lengthAdjust="spacingAndGlyphs">D</text>
<text x="162.70" y="176.20" font-size="8.88" stroke="#231f20" stroke-width="0.04" textLength="73.10" lengthAdjust="spacingAndGlyphs">non-fasting blood</text>
<text x="173.00" y="186.80" font-size="8.88" stroke="#231f20" stroke-width="0.04" textLength="53.20" lengthAdjust="spacingAndGlyphs">glucose (g/L)</text>
<line x1="160.40" y1="193.00" x2="160.40" y2="274.20" stroke="#231f20" stroke-width="1.3" />
<line x1="158.40" y1="274.20" x2="160.40" y2="274.20" stroke="#231f20" stroke-width="1.0" />
<text x="154.40" y="276.65" font-size="7.28" stroke="#231f20" stroke-width="0.04" text-anchor="end" textLength="9.90" lengthAdjust="spacingAndGlyphs">0.0</text>
<line x1="158.40" y1="261.13" x2="160.40" y2="261.13" stroke="#231f20" stroke-width="1.0" />
<text x="154.40" y="263.58" font-size="7.28" stroke="#231f20" stroke-width="0.04" text-anchor="end" textLength="9.90" lengthAdjust="spacingAndGlyphs">0.2</text>
<line x1="158.40" y1="248.06" x2="160.40" y2="248.06" stroke="#231f20" stroke-width="1.0" />
<text x="154.40" y="250.51" font-size="7.28" stroke="#231f20" stroke-width="0.04" text-anchor="end" textLength="9.90" lengthAdjust="spacingAndGlyphs">0.4</text>
<line x1="158.40" y1="234.99" x2="160.40" y2="234.99" stroke="#231f20" stroke-width="1.0" />
<text x="154.40" y="237.44" font-size="7.28" stroke="#231f20" stroke-width="0.04" text-anchor="end" textLength="9.90" lengthAdjust="spacingAndGlyphs">0.6</text>
<line x1="158.40" y1="221.92" x2="160.40" y2="221.92" stroke="#231f20" stroke-width="1.0" />
<text x="154.40" y="224.37" font-size="7.28" stroke="#231f20" stroke-width="0.04" text-anchor="end" textLength="9.90" lengthAdjust="spacingAndGlyphs">0.8</text>
<line x1="158.40" y1="208.85" x2="160.40" y2="208.85" stroke="#231f20" stroke-width="1.0" />
<text x="154.40" y="211.30" font-size="7.28" stroke="#231f20" stroke-width="0.04" text-anchor="end" textLength="9.90" lengthAdjust="spacingAndGlyphs">1.0</text>
<line x1="158.40" y1="195.78" x2="160.40" y2="195.78" stroke="#231f20" stroke-width="1.0" />
<text x="154.40" y="198.23" font-size="7.28" stroke="#231f20" stroke-width="0.04" text-anchor="end" textLength="9.90" lengthAdjust="spacingAndGlyphs">1.2</text>
<line x1="157.70" y1="274.00" x2="238.80" y2="274.00" stroke="#231f20" stroke-width="1.3" />
<line x1="167.80" y1="274.00" x2="167.80" y2="276.00" stroke="#231f20" stroke-width="1.0" />
<text x="167.80" y="286.40" font-size="7.06" stroke="#231f20" stroke-width="0.04" text-anchor="middle">0</text>
<line x1="183.70" y1="274.00" x2="183.70" y2="276.00" stroke="#231f20" stroke-width="1.0" />
<text x="183.70" y="286.40" font-size="7.06" stroke="#231f20" stroke-width="0.04" text-anchor="middle">1</text>
<line x1="199.80" y1="274.00" x2="199.80" y2="276.00" stroke="#231f20" stroke-width="1.0" />
<text x="199.80" y="286.40" font-size="7.06" stroke="#231f20" stroke-width="0.04" text-anchor="middle">3</text>
<line x1="215.70" y1="274.00" x2="215.70" y2="276.00" stroke="#231f20" stroke-width="1.0" />
<text x="215.70" y="286.40" font-size="7.06" stroke="#231f20" stroke-width="0.04" text-anchor="middle">6</text>
<line x1="231.40" y1="274.00" x2="231.40" y2="276.00" stroke="#231f20" stroke-width="1.0" />
<text x="231.40" y="286.40" font-size="7.06" stroke="#231f20" stroke-width="0.04" text-anchor="middle">8</text>
<text x="158.70" y="299.10" font-size="9.42" stroke="#231f20" stroke-width="0.04" textLength="81.70" lengthAdjust="spacingAndGlyphs">Weeks on drug treatment</text>
<polyline points="167.80,237.60 183.70,243.16 199.80,243.49 215.70,244.14 231.40,237.60" fill="none" stroke="#2c4a8c" stroke-width="1.30" />
<line x1="167.80" y1="234.99" x2="167.80" y2="240.22" stroke="#2c4a8c" stroke-width="0.8" />
<line x1="166.50" y1="234.99" x2="169.10" y2="234.99" stroke="#2c4a8c" stroke-width="0.8" />
<line x1="166.50" y1="240.22" x2="169.10" y2="240.22" stroke="#2c4a8c" stroke-width="0.8" />
<line x1="183.70" y1="241.20" x2="183.70" y2="245.12" stroke="#2c4a8c" stroke-width="0.8" />
<line x1="182.40" y1="241.20" x2="185.00" y2="241.20" stroke="#2c4a8c" stroke-width="0.8" />
<line x1="182.40" y1="245.12" x2="185.00" y2="245.12" stroke="#2c4a8c" stroke-width="0.8" />
<line x1="199.80" y1="240.87" x2="199.80" y2="246.10" stroke="#2c4a8c" stroke-width="0.8" />
<line x1="198.50" y1="240.87" x2="201.10" y2="240.87" stroke="#2c4a8c" stroke-width="0.8" />
<line x1="198.50" y1="246.10" x2="201.10" y2="246.10" stroke="#2c4a8c" stroke-width="0.8" />
<line x1="215.70" y1="242.18" x2="215.70" y2="246.10" stroke="#2c4a8c" stroke-width="0.8" />
<line x1="214.40" y1="242.18" x2="217.00" y2="242.18" stroke="#2c4a8c" stroke-width="0.8" />
<line x1="214.40" y1="246.10" x2="217.00" y2="246.10" stroke="#2c4a8c" stroke-width="0.8" />
<line x1="231.40" y1="234.34" x2="231.40" y2="240.87" stroke="#2c4a8c" stroke-width="0.8" />
<line x1="230.10" y1="234.34" x2="232.70" y2="234.34" stroke="#2c4a8c" stroke-width="0.8" />
<line x1="230.10" y1="240.87" x2="232.70" y2="240.87" stroke="#2c4a8c" stroke-width="0.8" />
<circle cx="167.80" cy="237.60" r="1.38" fill="#fff" stroke="#2c4a8c" stroke-width="0.83"/>
<circle cx="183.70" cy="243.16" r="1.38" fill="#fff" stroke="#2c4a8c" stroke-width="0.83"/>
<circle cx="199.80" cy="243.49" r="1.38" fill="#fff" stroke="#2c4a8c" stroke-width="0.83"/>
<circle cx="215.70" cy="244.14" r="1.38" fill="#fff" stroke="#2c4a8c" stroke-width="0.83"/>
<circle cx="231.40" cy="237.60" r="1.38" fill="#fff" stroke="#2c4a8c" stroke-width="0.83"/>
<polyline points="167.80,235.64 183.70,241.52 199.80,238.58 215.70,230.42 231.40,220.61" fill="none" stroke="#2c4a8c" stroke-width="1.00" stroke-dasharray="2.5 1.3"/>
<line x1="167.80" y1="232.38" x2="167.80" y2="238.91" stroke="#2c4a8c" stroke-width="0.8" />
<line x1="166.50" y1="232.38" x2="169.10" y2="232.38" stroke="#2c4a8c" stroke-width="0.8" />
<line x1="166.50" y1="238.91" x2="169.10" y2="238.91" stroke="#2c4a8c" stroke-width="0.8" />
<line x1="183.70" y1="238.91" x2="183.70" y2="244.14" stroke="#2c4a8c" stroke-width="0.8" />
<line x1="182.40" y1="238.91" x2="185.00" y2="238.91" stroke="#2c4a8c" stroke-width="0.8" />
<line x1="182.40" y1="244.14" x2="185.00" y2="244.14" stroke="#2c4a8c" stroke-width="0.8" />
<line x1="199.80" y1="235.32" x2="199.80" y2="241.85" stroke="#2c4a8c" stroke-width="0.8" />
<line x1="198.50" y1="235.32" x2="201.10" y2="235.32" stroke="#2c4a8c" stroke-width="0.8" />
<line x1="198.50" y1="241.85" x2="201.10" y2="241.85" stroke="#2c4a8c" stroke-width="0.8" />
<line x1="215.70" y1="227.15" x2="215.70" y2="233.68" stroke="#2c4a8c" stroke-width="0.8" />
<line x1="214.40" y1="227.15" x2="217.00" y2="227.15" stroke="#2c4a8c" stroke-width="0.8" />
<line x1="214.40" y1="233.68" x2="217.00" y2="233.68" stroke="#2c4a8c" stroke-width="0.8" />
<line x1="231.40" y1="215.38" x2="231.40" y2="225.84" stroke="#2c4a8c" stroke-width="0.8" />
<line x1="230.10" y1="215.38" x2="232.70" y2="215.38" stroke="#2c4a8c" stroke-width="0.8" />
<line x1="230.10" y1="225.84" x2="232.70" y2="225.84" stroke="#2c4a8c" stroke-width="0.8" />
<path d="M167.80,233.75 L169.53,236.90 L166.07,236.90 Z" fill="#2c4a8c" />
<path d="M183.70,239.63 L185.43,242.78 L181.97,242.78 Z" fill="#2c4a8c" />
<path d="M199.80,236.69 L201.53,239.84 L198.07,239.84 Z" fill="#2c4a8c" />
<path d="M215.70,228.53 L217.43,231.68 L213.97,231.68 Z" fill="#2c4a8c" />
<path d="M231.40,218.72 L233.13,221.87 L229.67,221.87 Z" fill="#2c4a8c" />
<polyline points="167.80,238.26 183.70,243.49 199.80,243.49 215.70,231.07 231.40,228.45" fill="none" stroke="#2c4a8c" stroke-width="1.00" stroke-dasharray="0.8 1.2"/>
<line x1="167.80" y1="235.64" x2="167.80" y2="240.87" stroke="#2c4a8c" stroke-width="0.8" />
<line x1="166.50" y1="235.64" x2="169.10" y2="235.64" stroke="#2c4a8c" stroke-width="0.8" />
<line x1="166.50" y1="240.87" x2="169.10" y2="240.87" stroke="#2c4a8c" stroke-width="0.8" />
<line x1="183.70" y1="241.53" x2="183.70" y2="245.45" stroke="#2c4a8c" stroke-width="0.8" />
<line x1="182.40" y1="241.53" x2="185.00" y2="241.53" stroke="#2c4a8c" stroke-width="0.8" />
<line x1="182.40" y1="245.45" x2="185.00" y2="245.45" stroke="#2c4a8c" stroke-width="0.8" />
<line x1="199.80" y1="240.87" x2="199.80" y2="246.10" stroke="#2c4a8c" stroke-width="0.8" />
<line x1="198.50" y1="240.87" x2="201.10" y2="240.87" stroke="#2c4a8c" stroke-width="0.8" />
<line x1="198.50" y1="246.10" x2="201.10" y2="246.10" stroke="#2c4a8c" stroke-width="0.8" />
<line x1="215.70" y1="227.80" x2="215.70" y2="234.34" stroke="#2c4a8c" stroke-width="0.8" />
<line x1="214.40" y1="227.80" x2="217.00" y2="227.80" stroke="#2c4a8c" stroke-width="0.8" />
<line x1="214.40" y1="234.34" x2="217.00" y2="234.34" stroke="#2c4a8c" stroke-width="0.8" />
<line x1="231.40" y1="224.53" x2="231.40" y2="232.38" stroke="#2c4a8c" stroke-width="0.8" />
<line x1="230.10" y1="224.53" x2="232.70" y2="224.53" stroke="#2c4a8c" stroke-width="0.8" />
<line x1="230.10" y1="232.38" x2="232.70" y2="232.38" stroke="#2c4a8c" stroke-width="0.8" />
<circle cx="167.80" cy="238.26" r="1.42" fill="#2c4a8c" />
<circle cx="183.70" cy="243.49" r="1.42" fill="#2c4a8c" />
<circle cx="199.80" cy="243.49" r="1.42" fill="#2c4a8c" />
<circle cx="215.70" cy="231.07" r="1.42" fill="#2c4a8c" />
<circle cx="231.40" cy="228.45" r="1.42" fill="#2c4a8c" />
<polyline points="167.80,235.97 183.70,236.95 199.80,225.19 215.70,218.65 231.40,208.85" fill="none" stroke="#2c4a8c" stroke-width="1.00" stroke-dasharray="3 1.2 0.8 1.2"/>
<line x1="167.80" y1="232.70" x2="167.80" y2="239.24" stroke="#2c4a8c" stroke-width="0.8" />
<line x1="166.50" y1="232.70" x2="169.10" y2="232.70" stroke="#2c4a8c" stroke-width="0.8" />
<line x1="166.50" y1="239.24" x2="169.10" y2="239.24" stroke="#2c4a8c" stroke-width="0.8" />
<line x1="183.70" y1="234.34" x2="183.70" y2="239.56" stroke="#2c4a8c" stroke-width="0.8" />
<line x1="182.40" y1="234.34" x2="185.00" y2="234.34" stroke="#2c4a8c" stroke-width="0.8" />
<line x1="182.40" y1="239.56" x2="185.00" y2="239.56" stroke="#2c4a8c" stroke-width="0.8" />
<line x1="199.80" y1="221.92" x2="199.80" y2="228.46" stroke="#2c4a8c" stroke-width="0.8" />
<line x1="198.50" y1="221.92" x2="201.10" y2="221.92" stroke="#2c4a8c" stroke-width="0.8" />
<line x1="198.50" y1="228.46" x2="201.10" y2="228.46" stroke="#2c4a8c" stroke-width="0.8" />
<line x1="215.70" y1="216.04" x2="215.70" y2="221.27" stroke="#2c4a8c" stroke-width="0.8" />
<line x1="214.40" y1="216.04" x2="217.00" y2="216.04" stroke="#2c4a8c" stroke-width="0.8" />
<line x1="214.40" y1="221.27" x2="217.00" y2="221.27" stroke="#2c4a8c" stroke-width="0.8" />
<line x1="231.40" y1="202.97" x2="231.40" y2="214.73" stroke="#2c4a8c" stroke-width="0.8" />
<line x1="230.10" y1="202.97" x2="232.70" y2="202.97" stroke="#2c4a8c" stroke-width="0.8" />
<line x1="230.10" y1="214.73" x2="232.70" y2="214.73" stroke="#2c4a8c" stroke-width="0.8" />
<rect x="166.38" y="234.55" width="2.85" height="2.85" fill="#2c4a8c" />
<rect x="182.27" y="235.53" width="2.85" height="2.85" fill="#2c4a8c" />
<rect x="198.38" y="223.76" width="2.85" height="2.85" fill="#2c4a8c" />
<rect x="214.27" y="217.23" width="2.85" height="2.85" fill="#2c4a8c" />
<rect x="229.97" y="207.42" width="2.85" height="2.85" fill="#2c4a8c" />
<polyline points="167.80,258.19 183.70,261.78 199.80,259.17 215.70,261.78 231.40,260.48" fill="none" stroke="#ad0f2e" stroke-width="1.30" />
<line x1="167.80" y1="256.88" x2="167.80" y2="259.50" stroke="#ad0f2e" stroke-width="0.8" />
<line x1="166.50" y1="256.88" x2="169.10" y2="256.88" stroke="#ad0f2e" stroke-width="0.8" />
<line x1="166.50" y1="259.50" x2="169.10" y2="259.50" stroke="#ad0f2e" stroke-width="0.8" />
<line x1="183.70" y1="260.48" x2="183.70" y2="263.09" stroke="#ad0f2e" stroke-width="0.8" />
<line x1="182.40" y1="260.48" x2="185.00" y2="260.48" stroke="#ad0f2e" stroke-width="0.8" />
<line x1="182.40" y1="263.09" x2="185.00" y2="263.09" stroke="#ad0f2e" stroke-width="0.8" />
<line x1="199.80" y1="257.86" x2="199.80" y2="260.48" stroke="#ad0f2e" stroke-width="0.8" />
<line x1="198.50" y1="257.86" x2="201.10" y2="257.86" stroke="#ad0f2e" stroke-width="0.8" />
<line x1="198.50" y1="260.48" x2="201.10" y2="260.48" stroke="#ad0f2e" stroke-width="0.8" />
<line x1="215.70" y1="260.48" x2="215.70" y2="263.09" stroke="#ad0f2e" stroke-width="0.8" />
<line x1="214.40" y1="260.48" x2="217.00" y2="260.48" stroke="#ad0f2e" stroke-width="0.8" />
<line x1="214.40" y1="263.09" x2="217.00" y2="263.09" stroke="#ad0f2e" stroke-width="0.8" />
<line x1="231.40" y1="259.17" x2="231.40" y2="261.78" stroke="#ad0f2e" stroke-width="0.8" />
<line x1="230.10" y1="259.17" x2="232.70" y2="259.17" stroke="#ad0f2e" stroke-width="0.8" />
<line x1="230.10" y1="261.78" x2="232.70" y2="261.78" stroke="#ad0f2e" stroke-width="0.8" />
<circle cx="167.80" cy="258.19" r="1.38" fill="#fff" stroke="#ad0f2e" stroke-width="0.83"/>
<circle cx="183.70" cy="261.78" r="1.38" fill="#fff" stroke="#ad0f2e" stroke-width="0.83"/>
<circle cx="199.80" cy="259.17" r="1.38" fill="#fff" stroke="#ad0f2e" stroke-width="0.83"/>
<circle cx="215.70" cy="261.78" r="1.38" fill="#fff" stroke="#ad0f2e" stroke-width="0.83"/>
<circle cx="231.40" cy="260.48" r="1.38" fill="#fff" stroke="#ad0f2e" stroke-width="0.83"/>
<polyline points="167.80,255.90 183.70,259.82 199.80,257.86 215.70,259.82 231.40,258.19" fill="none" stroke="#ad0f2e" stroke-width="1.00" stroke-dasharray="0.8 1.2"/>
<line x1="167.80" y1="253.94" x2="167.80" y2="257.86" stroke="#ad0f2e" stroke-width="0.8" />
<line x1="166.50" y1="253.94" x2="169.10" y2="253.94" stroke="#ad0f2e" stroke-width="0.8" />
<line x1="166.50" y1="257.86" x2="169.10" y2="257.86" stroke="#ad0f2e" stroke-width="0.8" />
<line x1="183.70" y1="258.52" x2="183.70" y2="261.13" stroke="#ad0f2e" stroke-width="0.8" />
<line x1="182.40" y1="258.52" x2="185.00" y2="258.52" stroke="#ad0f2e" stroke-width="0.8" />
<line x1="182.40" y1="261.13" x2="185.00" y2="261.13" stroke="#ad0f2e" stroke-width="0.8" />
<line x1="199.80" y1="255.90" x2="199.80" y2="259.82" stroke="#ad0f2e" stroke-width="0.8" />
<line x1="198.50" y1="255.90" x2="201.10" y2="255.90" stroke="#ad0f2e" stroke-width="0.8" />
<line x1="198.50" y1="259.82" x2="201.10" y2="259.82" stroke="#ad0f2e" stroke-width="0.8" />
<line x1="215.70" y1="257.86" x2="215.70" y2="261.78" stroke="#ad0f2e" stroke-width="0.8" />
<line x1="214.40" y1="257.86" x2="217.00" y2="257.86" stroke="#ad0f2e" stroke-width="0.8" />
<line x1="214.40" y1="261.78" x2="217.00" y2="261.78" stroke="#ad0f2e" stroke-width="0.8" />
<line x1="231.40" y1="256.23" x2="231.40" y2="260.15" stroke="#ad0f2e" stroke-width="0.8" />
<line x1="230.10" y1="256.23" x2="232.70" y2="256.23" stroke="#ad0f2e" stroke-width="0.8" />
<line x1="230.10" y1="260.15" x2="232.70" y2="260.15" stroke="#ad0f2e" stroke-width="0.8" />
<circle cx="167.80" cy="255.90" r="1.42" fill="#ad0f2e" />
<circle cx="183.70" cy="259.82" r="1.42" fill="#ad0f2e" />
<circle cx="199.80" cy="257.86" r="1.42" fill="#ad0f2e" />
<circle cx="215.70" cy="259.82" r="1.42" fill="#ad0f2e" />
<circle cx="231.40" cy="258.19" r="1.42" fill="#ad0f2e" />
<polyline points="167.80,254.59 183.70,259.17 199.80,256.56 215.70,255.90 231.40,252.63" fill="none" stroke="#ad0f2e" stroke-width="1.00" stroke-dasharray="2.5 1.3"/>
<line x1="167.80" y1="252.63" x2="167.80" y2="256.56" stroke="#ad0f2e" stroke-width="0.8" />
<line x1="166.50" y1="252.63" x2="169.10" y2="252.63" stroke="#ad0f2e" stroke-width="0.8" />
<line x1="166.50" y1="256.56" x2="169.10" y2="256.56" stroke="#ad0f2e" stroke-width="0.8" />
<line x1="183.70" y1="257.86" x2="183.70" y2="260.48" stroke="#ad0f2e" stroke-width="0.8" />
<line x1="182.40" y1="257.86" x2="185.00" y2="257.86" stroke="#ad0f2e" stroke-width="0.8" />
<line x1="182.40" y1="260.48" x2="185.00" y2="260.48" stroke="#ad0f2e" stroke-width="0.8" />
<line x1="199.80" y1="253.94" x2="199.80" y2="259.17" stroke="#ad0f2e" stroke-width="0.8" />
<line x1="198.50" y1="253.94" x2="201.10" y2="253.94" stroke="#ad0f2e" stroke-width="0.8" />
<line x1="198.50" y1="259.17" x2="201.10" y2="259.17" stroke="#ad0f2e" stroke-width="0.8" />
<line x1="215.70" y1="253.29" x2="215.70" y2="258.52" stroke="#ad0f2e" stroke-width="0.8" />
<line x1="214.40" y1="253.29" x2="217.00" y2="253.29" stroke="#ad0f2e" stroke-width="0.8" />
<line x1="214.40" y1="258.52" x2="217.00" y2="258.52" stroke="#ad0f2e" stroke-width="0.8" />
<line x1="231.40" y1="249.37" x2="231.40" y2="255.90" stroke="#ad0f2e" stroke-width="0.8" />
<line x1="230.10" y1="249.37" x2="232.70" y2="249.37" stroke="#ad0f2e" stroke-width="0.8" />
<line x1="230.10" y1="255.90" x2="232.70" y2="255.90" stroke="#ad0f2e" stroke-width="0.8" />
<path d="M167.80,252.71 L169.53,255.85 L166.07,255.85 Z" fill="#ad0f2e" />
<path d="M183.70,257.28 L185.43,260.43 L181.97,260.43 Z" fill="#ad0f2e" />
<path d="M199.80,254.67 L201.53,257.82 L198.07,257.82 Z" fill="#ad0f2e" />
<path d="M215.70,254.01 L217.43,257.16 L213.97,257.16 Z" fill="#ad0f2e" />
<path d="M231.40,250.74 L233.13,253.89 L229.67,253.89 Z" fill="#ad0f2e" />
<polyline points="167.80,252.63 183.70,258.19 199.80,255.58 215.70,253.94 231.40,247.73" fill="none" stroke="#ad0f2e" stroke-width="1.00" stroke-dasharray="3 1.2 0.8 1.2"/>
<line x1="167.80" y1="250.67" x2="167.80" y2="254.59" stroke="#ad0f2e" stroke-width="0.8" />
<line x1="166.50" y1="250.67" x2="169.10" y2="250.67" stroke="#ad0f2e" stroke-width="0.8" />
<line x1="166.50" y1="254.59" x2="169.10" y2="254.59" stroke="#ad0f2e" stroke-width="0.8" />
<line x1="183.70" y1="256.88" x2="183.70" y2="259.50" stroke="#ad0f2e" stroke-width="0.8" />
<line x1="182.40" y1="256.88" x2="185.00" y2="256.88" stroke="#ad0f2e" stroke-width="0.8" />
<line x1="182.40" y1="259.50" x2="185.00" y2="259.50" stroke="#ad0f2e" stroke-width="0.8" />
<line x1="199.80" y1="252.96" x2="199.80" y2="258.19" stroke="#ad0f2e" stroke-width="0.8" />
<line x1="198.50" y1="252.96" x2="201.10" y2="252.96" stroke="#ad0f2e" stroke-width="0.8" />
<line x1="198.50" y1="258.19" x2="201.10" y2="258.19" stroke="#ad0f2e" stroke-width="0.8" />
<line x1="215.70" y1="250.67" x2="215.70" y2="257.21" stroke="#ad0f2e" stroke-width="0.8" />
<line x1="214.40" y1="250.67" x2="217.00" y2="250.67" stroke="#ad0f2e" stroke-width="0.8" />
<line x1="214.40" y1="257.21" x2="217.00" y2="257.21" stroke="#ad0f2e" stroke-width="0.8" />
<line x1="231.40" y1="241.85" x2="231.40" y2="253.61" stroke="#ad0f2e" stroke-width="0.8" />
<line x1="230.10" y1="241.85" x2="232.70" y2="241.85" stroke="#ad0f2e" stroke-width="0.8" />
<line x1="230.10" y1="253.61" x2="232.70" y2="253.61" stroke="#ad0f2e" stroke-width="0.8" />
<rect x="166.38" y="251.21" width="2.85" height="2.85" fill="#ad0f2e" />
<rect x="182.27" y="256.76" width="2.85" height="2.85" fill="#ad0f2e" />
<rect x="198.38" y="254.15" width="2.85" height="2.85" fill="#ad0f2e" />
<rect x="214.27" y="252.52" width="2.85" height="2.85" fill="#ad0f2e" />
<rect x="229.97" y="246.31" width="2.85" height="2.85" fill="#ad0f2e" />
<circle cx="235.30" cy="208.60" r="0.80" fill="#2c4a8c" />
<circle cx="237.60" cy="208.60" r="0.80" fill="#2c4a8c" />
<circle cx="239.90" cy="208.60" r="0.80" fill="#2c4a8c" />
<circle cx="235.15" cy="220.60" r="0.80" fill="#2c4a8c" />
<circle cx="237.45" cy="220.60" r="0.80" fill="#2c4a8c" />
<circle cx="235.15" cy="247.40" r="0.80" fill="#ad0f2e" />
<circle cx="237.45" cy="247.40" r="0.80" fill="#ad0f2e" />
<circle cx="235.00" cy="254.00" r="0.80" fill="#ad0f2e" />
<text x="257.80" y="175.80" font-size="12" fill="#000" stroke="#000" stroke-width="0.55" font-weight="bold" textLength="7.20" lengthAdjust="spacingAndGlyphs">E</text>
<text x="290.70" y="175.80" font-size="8.88" stroke="#231f20" stroke-width="0.04" textLength="93.00" lengthAdjust="spacingAndGlyphs">Glucose tolerance test</text>
<line x1="297.60" y1="193.00" x2="297.60" y2="274.50" stroke="#231f20" stroke-width="1.3" />
<line x1="295.60" y1="274.50" x2="297.60" y2="274.50" stroke="#231f20" stroke-width="1.0" />
<text x="292.00" y="276.95" font-size="7.28" stroke="#231f20" stroke-width="0.04" text-anchor="end" textLength="9.90" lengthAdjust="spacingAndGlyphs">0.0</text>
<line x1="295.60" y1="254.80" x2="297.60" y2="254.80" stroke="#231f20" stroke-width="1.0" />
<text x="292.00" y="257.25" font-size="7.28" stroke="#231f20" stroke-width="0.04" text-anchor="end" textLength="9.90" lengthAdjust="spacingAndGlyphs">0.5</text>
<line x1="295.60" y1="235.10" x2="297.60" y2="235.10" stroke="#231f20" stroke-width="1.0" />
<text x="292.00" y="237.55" font-size="7.28" stroke="#231f20" stroke-width="0.04" text-anchor="end" textLength="9.90" lengthAdjust="spacingAndGlyphs">1.0</text>
<line x1="295.60" y1="215.40" x2="297.60" y2="215.40" stroke="#231f20" stroke-width="1.0" />
<text x="292.00" y="217.85" font-size="7.28" stroke="#231f20" stroke-width="0.04" text-anchor="end" textLength="9.90" lengthAdjust="spacingAndGlyphs">1.5</text>
<line x1="295.60" y1="195.70" x2="297.60" y2="195.70" stroke="#231f20" stroke-width="1.0" />
<text x="292.00" y="198.15" font-size="7.28" stroke="#231f20" stroke-width="0.04" text-anchor="end" textLength="9.90" lengthAdjust="spacingAndGlyphs">2.0</text>
<line x1="297.60" y1="273.90" x2="376.40" y2="273.90" stroke="#231f20" stroke-width="1.3" />
<line x1="303.20" y1="273.90" x2="303.20" y2="275.90" stroke="#231f20" stroke-width="1.0" />
<text x="303.20" y="286.40" font-size="7.06" stroke="#231f20" stroke-width="0.04" text-anchor="middle">0</text>
<line x1="314.45" y1="273.90" x2="314.45" y2="275.90" stroke="#231f20" stroke-width="1.0" />
<text x="314.45" y="286.40" font-size="7.06" stroke="#231f20" stroke-width="0.04" text-anchor="middle">15</text>
<line x1="325.70" y1="273.90" x2="325.70" y2="275.90" stroke="#231f20" stroke-width="1.0" />
<text x="325.70" y="286.40" font-size="7.06" stroke="#231f20" stroke-width="0.04" text-anchor="middle">30</text>
<line x1="336.95" y1="273.90" x2="336.95" y2="275.90" stroke="#231f20" stroke-width="1.0" />
<text x="336.95" y="286.40" font-size="7.06" stroke="#231f20" stroke-width="0.04" text-anchor="middle">45</text>
<line x1="348.20" y1="273.90" x2="348.20" y2="275.90" stroke="#231f20" stroke-width="1.0" />
<text x="348.20" y="286.40" font-size="7.06" stroke="#231f20" stroke-width="0.04" text-anchor="middle">60</text>
<line x1="359.45" y1="273.90" x2="359.45" y2="275.90" stroke="#231f20" stroke-width="1.0" />
<text x="359.45" y="286.40" font-size="7.06" stroke="#231f20" stroke-width="0.04" text-anchor="middle">75</text>
<line x1="370.70" y1="273.90" x2="370.70" y2="275.90" stroke="#231f20" stroke-width="1.0" />
<text x="370.70" y="286.40" font-size="7.06" stroke="#231f20" stroke-width="0.04" text-anchor="middle">90</text>
<line x1="303.20" y1="298.50" x2="303.20" y2="293.00" stroke="#231f20" stroke-width="0.8" />
<path d="M301.80,294.2 L303.20,291.6 L304.60,294.2 Z" fill="#231f20" />
<line x1="423.80" y1="193.00" x2="423.80" y2="274.50" stroke="#231f20" stroke-width="1.3" />
<line x1="421.80" y1="274.50" x2="423.80" y2="274.50" stroke="#231f20" stroke-width="1.0" />
<text x="418.20" y="276.95" font-size="7.28" stroke="#231f20" stroke-width="0.04" text-anchor="end" textLength="9.90" lengthAdjust="spacingAndGlyphs">0.0</text>
<line x1="421.80" y1="254.80" x2="423.80" y2="254.80" stroke="#231f20" stroke-width="1.0" />
<text x="418.20" y="257.25" font-size="7.28" stroke="#231f20" stroke-width="0.04" text-anchor="end" textLength="9.90" lengthAdjust="spacingAndGlyphs">0.5</text>
<line x1="421.80" y1="235.10" x2="423.80" y2="235.10" stroke="#231f20" stroke-width="1.0" />
<text x="418.20" y="237.55" font-size="7.28" stroke="#231f20" stroke-width="0.04" text-anchor="end" textLength="9.90" lengthAdjust="spacingAndGlyphs">1.0</text>
<line x1="421.80" y1="215.40" x2="423.80" y2="215.40" stroke="#231f20" stroke-width="1.0" />
<text x="418.20" y="217.85" font-size="7.28" stroke="#231f20" stroke-width="0.04" text-anchor="end" textLength="9.90" lengthAdjust="spacingAndGlyphs">1.5</text>
<line x1="421.80" y1="195.70" x2="423.80" y2="195.70" stroke="#231f20" stroke-width="1.0" />
<text x="418.20" y="198.15" font-size="7.28" stroke="#231f20" stroke-width="0.04" text-anchor="end" textLength="9.90" lengthAdjust="spacingAndGlyphs">2.0</text>
<line x1="423.80" y1="273.90" x2="501.00" y2="273.90" stroke="#231f20" stroke-width="1.3" />
<line x1="429.30" y1="273.90" x2="429.30" y2="275.90" stroke="#231f20" stroke-width="1.0" />
<text x="429.30" y="286.40" font-size="7.06" stroke="#231f20" stroke-width="0.04" text-anchor="middle">0</text>
<line x1="440.58" y1="273.90" x2="440.58" y2="275.90" stroke="#231f20" stroke-width="1.0" />
<text x="440.58" y="286.40" font-size="7.06" stroke="#231f20" stroke-width="0.04" text-anchor="middle">15</text>
<line x1="451.86" y1="273.90" x2="451.86" y2="275.90" stroke="#231f20" stroke-width="1.0" />
<text x="451.86" y="286.40" font-size="7.06" stroke="#231f20" stroke-width="0.04" text-anchor="middle">30</text>
<line x1="463.14" y1="273.90" x2="463.14" y2="275.90" stroke="#231f20" stroke-width="1.0" />
<text x="463.14" y="286.40" font-size="7.06" stroke="#231f20" stroke-width="0.04" text-anchor="middle">45</text>
<line x1="474.42" y1="273.90" x2="474.42" y2="275.90" stroke="#231f20" stroke-width="1.0" />
<text x="474.42" y="286.40" font-size="7.06" stroke="#231f20" stroke-width="0.04" text-anchor="middle">60</text>
<line x1="485.70" y1="273.90" x2="485.70" y2="275.90" stroke="#231f20" stroke-width="1.0" />
<text x="485.70" y="286.40" font-size="7.06" stroke="#231f20" stroke-width="0.04" text-anchor="middle">75</text>
<line x1="496.98" y1="273.90" x2="496.98" y2="275.90" stroke="#231f20" stroke-width="1.0" />
<text x="496.98" y="286.40" font-size="7.06" stroke="#231f20" stroke-width="0.04" text-anchor="middle">90</text>
<line x1="429.30" y1="298.50" x2="429.30" y2="293.00" stroke="#231f20" stroke-width="0.8" />
<path d="M427.90,294.2 L429.30,291.6 L430.70,294.2 Z" fill="#231f20" />
<text x="320.20" y="299.30" font-size="9.1" stroke="#231f20" stroke-width="0.04" textLength="34.80" lengthAdjust="spacingAndGlyphs">Time (min)</text>
<text x="444.80" y="299.30" font-size="9.1" stroke="#231f20" stroke-width="0.04" textLength="35.40" lengthAdjust="spacingAndGlyphs">Time (min)</text>
<text x="291.20" y="308.20" font-size="6.96" stroke="#231f20" stroke-width="0.04" textLength="24.80" lengthAdjust="spacingAndGlyphs">Glucose</text>
<text x="417.80" y="308.20" font-size="6.96" stroke="#231f20" stroke-width="0.04" textLength="24.40" lengthAdjust="spacingAndGlyphs">Glucose</text>
<text x="0" y="0" font-size="8.6" text-anchor="middle" transform="translate(277.0,234.6) rotate(-90)" textLength="62" lengthAdjust="spacingAndGlyphs">Blood glucose (g/L)</text>
<text x="302.70" y="196.30" font-size="6.85" fill="#4a6bab" stroke="#4a6bab" stroke-width="0.04" font-style="italic" textLength="6.90" lengthAdjust="spacingAndGlyphs">VF</text>
<text x="427.30" y="195.80" font-size="6.85" fill="#c2224a" stroke="#c2224a" stroke-width="0.04" font-style="italic" textLength="10.10" lengthAdjust="spacingAndGlyphs">E12</text>
<polyline points="303.20,257.56 314.45,246.53 325.70,253.22 336.95,253.62 348.20,254.80 359.45,254.80 370.70,255.59" fill="none" stroke="#2c4a8c" stroke-width="1.30" />
<line x1="303.20" y1="256.38" x2="303.20" y2="258.74" stroke="#2c4a8c" stroke-width="0.8" />
<line x1="301.90" y1="256.38" x2="304.50" y2="256.38" stroke="#2c4a8c" stroke-width="0.8" />
<line x1="301.90" y1="258.74" x2="304.50" y2="258.74" stroke="#2c4a8c" stroke-width="0.8" />
<line x1="314.45" y1="245.34" x2="314.45" y2="247.71" stroke="#2c4a8c" stroke-width="0.8" />
<line x1="313.15" y1="245.34" x2="315.75" y2="245.34" stroke="#2c4a8c" stroke-width="0.8" />
<line x1="313.15" y1="247.71" x2="315.75" y2="247.71" stroke="#2c4a8c" stroke-width="0.8" />
<line x1="325.70" y1="252.04" x2="325.70" y2="254.41" stroke="#2c4a8c" stroke-width="0.8" />
<line x1="324.40" y1="252.04" x2="327.00" y2="252.04" stroke="#2c4a8c" stroke-width="0.8" />
<line x1="324.40" y1="254.41" x2="327.00" y2="254.41" stroke="#2c4a8c" stroke-width="0.8" />
<line x1="336.95" y1="252.44" x2="336.95" y2="254.80" stroke="#2c4a8c" stroke-width="0.8" />
<line x1="335.65" y1="252.44" x2="338.25" y2="252.44" stroke="#2c4a8c" stroke-width="0.8" />
<line x1="335.65" y1="254.80" x2="338.25" y2="254.80" stroke="#2c4a8c" stroke-width="0.8" />
<line x1="348.20" y1="253.62" x2="348.20" y2="255.98" stroke="#2c4a8c" stroke-width="0.8" />
<line x1="346.90" y1="253.62" x2="349.50" y2="253.62" stroke="#2c4a8c" stroke-width="0.8" />
<line x1="346.90" y1="255.98" x2="349.50" y2="255.98" stroke="#2c4a8c" stroke-width="0.8" />
<line x1="359.45" y1="253.62" x2="359.45" y2="255.98" stroke="#2c4a8c" stroke-width="0.8" />
<line x1="358.15" y1="253.62" x2="360.75" y2="253.62" stroke="#2c4a8c" stroke-width="0.8" />
<line x1="358.15" y1="255.98" x2="360.75" y2="255.98" stroke="#2c4a8c" stroke-width="0.8" />
<line x1="370.70" y1="254.80" x2="370.70" y2="256.38" stroke="#2c4a8c" stroke-width="0.8" />
<line x1="369.40" y1="254.80" x2="372.00" y2="254.80" stroke="#2c4a8c" stroke-width="0.8" />
<line x1="369.40" y1="256.38" x2="372.00" y2="256.38" stroke="#2c4a8c" stroke-width="0.8" />
<circle cx="303.20" cy="257.56" r="1.43" fill="#fff" stroke="#2c4a8c" stroke-width="0.85"/>
<circle cx="314.45" cy="246.53" r="1.43" fill="#fff" stroke="#2c4a8c" stroke-width="0.85"/>
<circle cx="325.70" cy="253.22" r="1.43" fill="#fff" stroke="#2c4a8c" stroke-width="0.85"/>
<circle cx="336.95" cy="253.62" r="1.43" fill="#fff" stroke="#2c4a8c" stroke-width="0.85"/>
<circle cx="348.20" cy="254.80" r="1.43" fill="#fff" stroke="#2c4a8c" stroke-width="0.85"/>
<circle cx="359.45" cy="254.80" r="1.43" fill="#fff" stroke="#2c4a8c" stroke-width="0.85"/>
<circle cx="370.70" cy="255.59" r="1.43" fill="#fff" stroke="#2c4a8c" stroke-width="0.85"/>
<polyline points="303.20,249.28 314.45,234.71 325.70,243.77 336.95,245.34 348.20,246.13 359.45,245.74 370.70,248.89" fill="none" stroke="#2c4a8c" stroke-width="1.00" stroke-dasharray="0.8 1.2"/>
<line x1="303.20" y1="247.71" x2="303.20" y2="250.86" stroke="#2c4a8c" stroke-width="0.8" />
<line x1="301.90" y1="247.71" x2="304.50" y2="247.71" stroke="#2c4a8c" stroke-width="0.8" />
<line x1="301.90" y1="250.86" x2="304.50" y2="250.86" stroke="#2c4a8c" stroke-width="0.8" />
<line x1="314.45" y1="232.74" x2="314.45" y2="236.68" stroke="#2c4a8c" stroke-width="0.8" />
<line x1="313.15" y1="232.74" x2="315.75" y2="232.74" stroke="#2c4a8c" stroke-width="0.8" />
<line x1="313.15" y1="236.68" x2="315.75" y2="236.68" stroke="#2c4a8c" stroke-width="0.8" />
<line x1="325.70" y1="241.80" x2="325.70" y2="245.74" stroke="#2c4a8c" stroke-width="0.8" />
<line x1="324.40" y1="241.80" x2="327.00" y2="241.80" stroke="#2c4a8c" stroke-width="0.8" />
<line x1="324.40" y1="245.74" x2="327.00" y2="245.74" stroke="#2c4a8c" stroke-width="0.8" />
<line x1="336.95" y1="243.37" x2="336.95" y2="247.31" stroke="#2c4a8c" stroke-width="0.8" />
<line x1="335.65" y1="243.37" x2="338.25" y2="243.37" stroke="#2c4a8c" stroke-width="0.8" />
<line x1="335.65" y1="247.31" x2="338.25" y2="247.31" stroke="#2c4a8c" stroke-width="0.8" />
<line x1="348.20" y1="244.56" x2="348.20" y2="247.71" stroke="#2c4a8c" stroke-width="0.8" />
<line x1="346.90" y1="244.56" x2="349.50" y2="244.56" stroke="#2c4a8c" stroke-width="0.8" />
<line x1="346.90" y1="247.71" x2="349.50" y2="247.71" stroke="#2c4a8c" stroke-width="0.8" />
<line x1="359.45" y1="243.77" x2="359.45" y2="247.71" stroke="#2c4a8c" stroke-width="0.8" />
<line x1="358.15" y1="243.77" x2="360.75" y2="243.77" stroke="#2c4a8c" stroke-width="0.8" />
<line x1="358.15" y1="247.71" x2="360.75" y2="247.71" stroke="#2c4a8c" stroke-width="0.8" />
<line x1="370.70" y1="247.31" x2="370.70" y2="250.47" stroke="#2c4a8c" stroke-width="0.8" />
<line x1="369.40" y1="247.31" x2="372.00" y2="247.31" stroke="#2c4a8c" stroke-width="0.8" />
<line x1="369.40" y1="250.47" x2="372.00" y2="250.47" stroke="#2c4a8c" stroke-width="0.8" />
<circle cx="303.20" cy="249.28" r="1.47" fill="#2c4a8c" />
<circle cx="314.45" cy="234.71" r="1.47" fill="#2c4a8c" />
<circle cx="325.70" cy="243.77" r="1.47" fill="#2c4a8c" />
<circle cx="336.95" cy="245.34" r="1.47" fill="#2c4a8c" />
<circle cx="348.20" cy="246.13" r="1.47" fill="#2c4a8c" />
<circle cx="359.45" cy="245.74" r="1.47" fill="#2c4a8c" />
<circle cx="370.70" cy="248.89" r="1.47" fill="#2c4a8c" />
<polyline points="303.20,244.16 314.45,230.37 325.70,240.03 336.95,241.40 348.20,242.98 359.45,244.16 370.70,248.10" fill="none" stroke="#2c4a8c" stroke-width="1.00" stroke-dasharray="2.5 1.3"/>
<line x1="303.20" y1="242.19" x2="303.20" y2="246.13" stroke="#2c4a8c" stroke-width="0.8" />
<line x1="301.90" y1="242.19" x2="304.50" y2="242.19" stroke="#2c4a8c" stroke-width="0.8" />
<line x1="301.90" y1="246.13" x2="304.50" y2="246.13" stroke="#2c4a8c" stroke-width="0.8" />
<line x1="314.45" y1="224.86" x2="314.45" y2="235.89" stroke="#2c4a8c" stroke-width="0.8" />
<line x1="313.15" y1="224.86" x2="315.75" y2="224.86" stroke="#2c4a8c" stroke-width="0.8" />
<line x1="313.15" y1="235.89" x2="315.75" y2="235.89" stroke="#2c4a8c" stroke-width="0.8" />
<line x1="325.70" y1="237.27" x2="325.70" y2="242.78" stroke="#2c4a8c" stroke-width="0.8" />
<line x1="324.40" y1="237.27" x2="327.00" y2="237.27" stroke="#2c4a8c" stroke-width="0.8" />
<line x1="324.40" y1="242.78" x2="327.00" y2="242.78" stroke="#2c4a8c" stroke-width="0.8" />
<line x1="336.95" y1="239.04" x2="336.95" y2="243.77" stroke="#2c4a8c" stroke-width="0.8" />
<line x1="335.65" y1="239.04" x2="338.25" y2="239.04" stroke="#2c4a8c" stroke-width="0.8" />
<line x1="335.65" y1="243.77" x2="338.25" y2="243.77" stroke="#2c4a8c" stroke-width="0.8" />
<line x1="348.20" y1="241.01" x2="348.20" y2="244.95" stroke="#2c4a8c" stroke-width="0.8" />
<line x1="346.90" y1="241.01" x2="349.50" y2="241.01" stroke="#2c4a8c" stroke-width="0.8" />
<line x1="346.90" y1="244.95" x2="349.50" y2="244.95" stroke="#2c4a8c" stroke-width="0.8" />
<line x1="359.45" y1="241.80" x2="359.45" y2="246.53" stroke="#2c4a8c" stroke-width="0.8" />
<line x1="358.15" y1="241.80" x2="360.75" y2="241.80" stroke="#2c4a8c" stroke-width="0.8" />
<line x1="358.15" y1="246.53" x2="360.75" y2="246.53" stroke="#2c4a8c" stroke-width="0.8" />
<line x1="370.70" y1="246.13" x2="370.70" y2="250.07" stroke="#2c4a8c" stroke-width="0.8" />
<line x1="369.40" y1="246.13" x2="372.00" y2="246.13" stroke="#2c4a8c" stroke-width="0.8" />
<line x1="369.40" y1="250.07" x2="372.00" y2="250.07" stroke="#2c4a8c" stroke-width="0.8" />
<path d="M303.20,242.21 L304.99,245.46 L301.41,245.46 Z" fill="#2c4a8c" />
<path d="M314.45,228.42 L316.24,231.67 L312.66,231.67 Z" fill="#2c4a8c" />
<path d="M325.70,238.07 L327.49,241.33 L323.91,241.33 Z" fill="#2c4a8c" />
<path d="M336.95,239.45 L338.74,242.71 L335.16,242.71 Z" fill="#2c4a8c" />
<path d="M348.20,241.03 L349.99,244.28 L346.41,244.28 Z" fill="#2c4a8c" />
<path d="M359.45,242.21 L361.24,245.46 L357.66,245.46 Z" fill="#2c4a8c" />
<path d="M370.70,246.15 L372.49,249.40 L368.91,249.40 Z" fill="#2c4a8c" />
<polyline points="303.20,242.59 314.45,213.04 325.70,235.10 336.95,237.86 348.20,241.40 359.45,239.04 370.70,239.43" fill="none" stroke="#2c4a8c" stroke-width="1.00" stroke-dasharray="3 1.2 0.8 1.2"/>
<line x1="303.20" y1="240.22" x2="303.20" y2="244.95" stroke="#2c4a8c" stroke-width="0.8" />
<line x1="301.90" y1="240.22" x2="304.50" y2="240.22" stroke="#2c4a8c" stroke-width="0.8" />
<line x1="301.90" y1="244.95" x2="304.50" y2="244.95" stroke="#2c4a8c" stroke-width="0.8" />
<line x1="314.45" y1="202.40" x2="314.45" y2="223.67" stroke="#2c4a8c" stroke-width="0.8" />
<line x1="313.15" y1="202.40" x2="315.75" y2="202.40" stroke="#2c4a8c" stroke-width="0.8" />
<line x1="313.15" y1="223.67" x2="315.75" y2="223.67" stroke="#2c4a8c" stroke-width="0.8" />
<line x1="325.70" y1="231.16" x2="325.70" y2="239.04" stroke="#2c4a8c" stroke-width="0.8" />
<line x1="324.40" y1="231.16" x2="327.00" y2="231.16" stroke="#2c4a8c" stroke-width="0.8" />
<line x1="324.40" y1="239.04" x2="327.00" y2="239.04" stroke="#2c4a8c" stroke-width="0.8" />
<line x1="336.95" y1="234.31" x2="336.95" y2="241.40" stroke="#2c4a8c" stroke-width="0.8" />
<line x1="335.65" y1="234.31" x2="338.25" y2="234.31" stroke="#2c4a8c" stroke-width="0.8" />
<line x1="335.65" y1="241.40" x2="338.25" y2="241.40" stroke="#2c4a8c" stroke-width="0.8" />
<line x1="348.20" y1="239.04" x2="348.20" y2="243.77" stroke="#2c4a8c" stroke-width="0.8" />
<line x1="346.90" y1="239.04" x2="349.50" y2="239.04" stroke="#2c4a8c" stroke-width="0.8" />
<line x1="346.90" y1="243.77" x2="349.50" y2="243.77" stroke="#2c4a8c" stroke-width="0.8" />
<line x1="359.45" y1="234.31" x2="359.45" y2="243.77" stroke="#2c4a8c" stroke-width="0.8" />
<line x1="358.15" y1="234.31" x2="360.75" y2="234.31" stroke="#2c4a8c" stroke-width="0.8" />
<line x1="358.15" y1="243.77" x2="360.75" y2="243.77" stroke="#2c4a8c" stroke-width="0.8" />
<line x1="370.70" y1="236.28" x2="370.70" y2="242.59" stroke="#2c4a8c" stroke-width="0.8" />
<line x1="369.40" y1="236.28" x2="372.00" y2="236.28" stroke="#2c4a8c" stroke-width="0.8" />
<line x1="369.40" y1="242.59" x2="372.00" y2="242.59" stroke="#2c4a8c" stroke-width="0.8" />
<rect x="301.73" y="241.11" width="2.94" height="2.94" fill="#2c4a8c" />
<rect x="312.98" y="211.56" width="2.94" height="2.94" fill="#2c4a8c" />
<rect x="324.23" y="233.63" width="2.94" height="2.94" fill="#2c4a8c" />
<rect x="335.48" y="236.39" width="2.94" height="2.94" fill="#2c4a8c" />
<rect x="346.73" y="239.93" width="2.94" height="2.94" fill="#2c4a8c" />
<rect x="357.98" y="237.57" width="2.94" height="2.94" fill="#2c4a8c" />
<rect x="369.23" y="237.96" width="2.94" height="2.94" fill="#2c4a8c" />
<polyline points="429.30,265.44 440.58,237.86 451.86,259.92 463.14,263.47 474.42,261.50 485.70,265.44 496.98,263.47" fill="none" stroke="#ad0f2e" stroke-width="1.30" />
<line x1="429.30" y1="264.26" x2="429.30" y2="266.62" stroke="#ad0f2e" stroke-width="0.8" />
<line x1="428.00" y1="264.26" x2="430.60" y2="264.26" stroke="#ad0f2e" stroke-width="0.8" />
<line x1="428.00" y1="266.62" x2="430.60" y2="266.62" stroke="#ad0f2e" stroke-width="0.8" />
<line x1="440.58" y1="236.28" x2="440.58" y2="239.43" stroke="#ad0f2e" stroke-width="0.8" />
<line x1="439.28" y1="236.28" x2="441.88" y2="236.28" stroke="#ad0f2e" stroke-width="0.8" />
<line x1="439.28" y1="239.43" x2="441.88" y2="239.43" stroke="#ad0f2e" stroke-width="0.8" />
<line x1="451.86" y1="258.74" x2="451.86" y2="261.10" stroke="#ad0f2e" stroke-width="0.8" />
<line x1="450.56" y1="258.74" x2="453.16" y2="258.74" stroke="#ad0f2e" stroke-width="0.8" />
<line x1="450.56" y1="261.10" x2="453.16" y2="261.10" stroke="#ad0f2e" stroke-width="0.8" />
<line x1="463.14" y1="262.68" x2="463.14" y2="264.26" stroke="#ad0f2e" stroke-width="0.8" />
<line x1="461.84" y1="262.68" x2="464.44" y2="262.68" stroke="#ad0f2e" stroke-width="0.8" />
<line x1="461.84" y1="264.26" x2="464.44" y2="264.26" stroke="#ad0f2e" stroke-width="0.8" />
<line x1="474.42" y1="260.32" x2="474.42" y2="262.68" stroke="#ad0f2e" stroke-width="0.8" />
<line x1="473.12" y1="260.32" x2="475.72" y2="260.32" stroke="#ad0f2e" stroke-width="0.8" />
<line x1="473.12" y1="262.68" x2="475.72" y2="262.68" stroke="#ad0f2e" stroke-width="0.8" />
<line x1="485.70" y1="264.26" x2="485.70" y2="266.62" stroke="#ad0f2e" stroke-width="0.8" />
<line x1="484.40" y1="264.26" x2="487.00" y2="264.26" stroke="#ad0f2e" stroke-width="0.8" />
<line x1="484.40" y1="266.62" x2="487.00" y2="266.62" stroke="#ad0f2e" stroke-width="0.8" />
<line x1="496.98" y1="262.29" x2="496.98" y2="264.65" stroke="#ad0f2e" stroke-width="0.8" />
<line x1="495.68" y1="262.29" x2="498.28" y2="262.29" stroke="#ad0f2e" stroke-width="0.8" />
<line x1="495.68" y1="264.65" x2="498.28" y2="264.65" stroke="#ad0f2e" stroke-width="0.8" />
<circle cx="429.30" cy="265.44" r="1.43" fill="#fff" stroke="#ad0f2e" stroke-width="0.85"/>
<circle cx="440.58" cy="237.86" r="1.43" fill="#fff" stroke="#ad0f2e" stroke-width="0.85"/>
<circle cx="451.86" cy="259.92" r="1.43" fill="#fff" stroke="#ad0f2e" stroke-width="0.85"/>
<circle cx="463.14" cy="263.47" r="1.43" fill="#fff" stroke="#ad0f2e" stroke-width="0.85"/>
<circle cx="474.42" cy="261.50" r="1.43" fill="#fff" stroke="#ad0f2e" stroke-width="0.85"/>
<circle cx="485.70" cy="265.44" r="1.43" fill="#fff" stroke="#ad0f2e" stroke-width="0.85"/>
<circle cx="496.98" cy="263.47" r="1.43" fill="#fff" stroke="#ad0f2e" stroke-width="0.85"/>
<polyline points="429.30,262.68 440.58,226.04 451.86,250.86 463.14,256.77 474.42,259.53 485.70,263.86 496.98,262.68" fill="none" stroke="#ad0f2e" stroke-width="1.00" stroke-dasharray="0.8 1.2"/>
<line x1="429.30" y1="261.10" x2="429.30" y2="264.26" stroke="#ad0f2e" stroke-width="0.8" />
<line x1="428.00" y1="261.10" x2="430.60" y2="261.10" stroke="#ad0f2e" stroke-width="0.8" />
<line x1="428.00" y1="264.26" x2="430.60" y2="264.26" stroke="#ad0f2e" stroke-width="0.8" />
<line x1="440.58" y1="221.31" x2="440.58" y2="230.77" stroke="#ad0f2e" stroke-width="0.8" />
<line x1="439.28" y1="221.31" x2="441.88" y2="221.31" stroke="#ad0f2e" stroke-width="0.8" />
<line x1="439.28" y1="230.77" x2="441.88" y2="230.77" stroke="#ad0f2e" stroke-width="0.8" />
<line x1="451.86" y1="247.71" x2="451.86" y2="254.01" stroke="#ad0f2e" stroke-width="0.8" />
<line x1="450.56" y1="247.71" x2="453.16" y2="247.71" stroke="#ad0f2e" stroke-width="0.8" />
<line x1="450.56" y1="254.01" x2="453.16" y2="254.01" stroke="#ad0f2e" stroke-width="0.8" />
<line x1="463.14" y1="254.41" x2="463.14" y2="259.13" stroke="#ad0f2e" stroke-width="0.8" />
<line x1="461.84" y1="254.41" x2="464.44" y2="254.41" stroke="#ad0f2e" stroke-width="0.8" />
<line x1="461.84" y1="259.13" x2="464.44" y2="259.13" stroke="#ad0f2e" stroke-width="0.8" />
<line x1="474.42" y1="257.16" x2="474.42" y2="261.89" stroke="#ad0f2e" stroke-width="0.8" />
<line x1="473.12" y1="257.16" x2="475.72" y2="257.16" stroke="#ad0f2e" stroke-width="0.8" />
<line x1="473.12" y1="261.89" x2="475.72" y2="261.89" stroke="#ad0f2e" stroke-width="0.8" />
<line x1="485.70" y1="262.29" x2="485.70" y2="265.44" stroke="#ad0f2e" stroke-width="0.8" />
<line x1="484.40" y1="262.29" x2="487.00" y2="262.29" stroke="#ad0f2e" stroke-width="0.8" />
<line x1="484.40" y1="265.44" x2="487.00" y2="265.44" stroke="#ad0f2e" stroke-width="0.8" />
<line x1="496.98" y1="260.71" x2="496.98" y2="264.65" stroke="#ad0f2e" stroke-width="0.8" />
<line x1="495.68" y1="260.71" x2="498.28" y2="260.71" stroke="#ad0f2e" stroke-width="0.8" />
<line x1="495.68" y1="264.65" x2="498.28" y2="264.65" stroke="#ad0f2e" stroke-width="0.8" />
<circle cx="429.30" cy="262.68" r="1.47" fill="#ad0f2e" />
<circle cx="440.58" cy="226.04" r="1.47" fill="#ad0f2e" />
<circle cx="451.86" cy="250.86" r="1.47" fill="#ad0f2e" />
<circle cx="463.14" cy="256.77" r="1.47" fill="#ad0f2e" />
<circle cx="474.42" cy="259.53" r="1.47" fill="#ad0f2e" />
<circle cx="485.70" cy="263.86" r="1.47" fill="#ad0f2e" />
<circle cx="496.98" cy="262.68" r="1.47" fill="#ad0f2e" />
<polyline points="429.30,260.71 440.58,215.40 451.86,246.92 463.14,254.80 474.42,258.74 485.70,262.68 496.98,262.68" fill="none" stroke="#ad0f2e" stroke-width="1.00" stroke-dasharray="2.5 1.3"/>
<line x1="429.30" y1="258.74" x2="429.30" y2="262.68" stroke="#ad0f2e" stroke-width="0.8" />
<line x1="428.00" y1="258.74" x2="430.60" y2="258.74" stroke="#ad0f2e" stroke-width="0.8" />
<line x1="428.00" y1="262.68" x2="430.60" y2="262.68" stroke="#ad0f2e" stroke-width="0.8" />
<line x1="440.58" y1="209.49" x2="440.58" y2="221.31" stroke="#ad0f2e" stroke-width="0.8" />
<line x1="439.28" y1="209.49" x2="441.88" y2="209.49" stroke="#ad0f2e" stroke-width="0.8" />
<line x1="439.28" y1="221.31" x2="441.88" y2="221.31" stroke="#ad0f2e" stroke-width="0.8" />
<line x1="451.86" y1="242.98" x2="451.86" y2="250.86" stroke="#ad0f2e" stroke-width="0.8" />
<line x1="450.56" y1="242.98" x2="453.16" y2="242.98" stroke="#ad0f2e" stroke-width="0.8" />
<line x1="450.56" y1="250.86" x2="453.16" y2="250.86" stroke="#ad0f2e" stroke-width="0.8" />
<line x1="463.14" y1="252.04" x2="463.14" y2="257.56" stroke="#ad0f2e" stroke-width="0.8" />
<line x1="461.84" y1="252.04" x2="464.44" y2="252.04" stroke="#ad0f2e" stroke-width="0.8" />
<line x1="461.84" y1="257.56" x2="464.44" y2="257.56" stroke="#ad0f2e" stroke-width="0.8" />
<line x1="474.42" y1="255.98" x2="474.42" y2="261.50" stroke="#ad0f2e" stroke-width="0.8" />
<line x1="473.12" y1="255.98" x2="475.72" y2="255.98" stroke="#ad0f2e" stroke-width="0.8" />
<line x1="473.12" y1="261.50" x2="475.72" y2="261.50" stroke="#ad0f2e" stroke-width="0.8" />
<line x1="485.70" y1="261.10" x2="485.70" y2="264.26" stroke="#ad0f2e" stroke-width="0.8" />
<line x1="484.40" y1="261.10" x2="487.00" y2="261.10" stroke="#ad0f2e" stroke-width="0.8" />
<line x1="484.40" y1="264.26" x2="487.00" y2="264.26" stroke="#ad0f2e" stroke-width="0.8" />
<line x1="496.98" y1="260.32" x2="496.98" y2="265.04" stroke="#ad0f2e" stroke-width="0.8" />
<line x1="495.68" y1="260.32" x2="498.28" y2="260.32" stroke="#ad0f2e" stroke-width="0.8" />
<line x1="495.68" y1="265.04" x2="498.28" y2="265.04" stroke="#ad0f2e" stroke-width="0.8" />
<path d="M429.30,258.76 L431.09,262.01 L427.51,262.01 Z" fill="#ad0f2e" />
<path d="M440.58,213.45 L442.37,216.70 L438.79,216.70 Z" fill="#ad0f2e" />
<path d="M451.86,244.97 L453.65,248.22 L450.07,248.22 Z" fill="#ad0f2e" />
<path d="M463.14,252.85 L464.93,256.10 L461.35,256.10 Z" fill="#ad0f2e" />
<path d="M474.42,256.79 L476.21,260.04 L472.63,260.04 Z" fill="#ad0f2e" />
<path d="M485.70,260.73 L487.49,263.98 L483.91,263.98 Z" fill="#ad0f2e" />
<path d="M496.98,260.73 L498.77,263.98 L495.19,263.98 Z" fill="#ad0f2e" />
<polyline points="429.30,262.68 440.58,211.46 451.86,248.89 463.14,255.59 474.42,257.95 485.70,263.86 496.98,262.68" fill="none" stroke="#ad0f2e" stroke-width="1.00" stroke-dasharray="3 1.2 0.8 1.2"/>
<line x1="429.30" y1="260.71" x2="429.30" y2="264.65" stroke="#ad0f2e" stroke-width="0.8" />
<line x1="428.00" y1="260.71" x2="430.60" y2="260.71" stroke="#ad0f2e" stroke-width="0.8" />
<line x1="428.00" y1="264.65" x2="430.60" y2="264.65" stroke="#ad0f2e" stroke-width="0.8" />
<line x1="440.58" y1="198.85" x2="440.58" y2="224.07" stroke="#ad0f2e" stroke-width="0.8" />
<line x1="439.28" y1="198.85" x2="441.88" y2="198.85" stroke="#ad0f2e" stroke-width="0.8" />
<line x1="439.28" y1="224.07" x2="441.88" y2="224.07" stroke="#ad0f2e" stroke-width="0.8" />
<line x1="451.86" y1="244.16" x2="451.86" y2="253.62" stroke="#ad0f2e" stroke-width="0.8" />
<line x1="450.56" y1="244.16" x2="453.16" y2="244.16" stroke="#ad0f2e" stroke-width="0.8" />
<line x1="450.56" y1="253.62" x2="453.16" y2="253.62" stroke="#ad0f2e" stroke-width="0.8" />
<line x1="463.14" y1="252.44" x2="463.14" y2="258.74" stroke="#ad0f2e" stroke-width="0.8" />
<line x1="461.84" y1="252.44" x2="464.44" y2="252.44" stroke="#ad0f2e" stroke-width="0.8" />
<line x1="461.84" y1="258.74" x2="464.44" y2="258.74" stroke="#ad0f2e" stroke-width="0.8" />
<line x1="474.42" y1="254.80" x2="474.42" y2="261.10" stroke="#ad0f2e" stroke-width="0.8" />
<line x1="473.12" y1="254.80" x2="475.72" y2="254.80" stroke="#ad0f2e" stroke-width="0.8" />
<line x1="473.12" y1="261.10" x2="475.72" y2="261.10" stroke="#ad0f2e" stroke-width="0.8" />
<line x1="485.70" y1="261.89" x2="485.70" y2="265.83" stroke="#ad0f2e" stroke-width="0.8" />
<line x1="484.40" y1="261.89" x2="487.00" y2="261.89" stroke="#ad0f2e" stroke-width="0.8" />
<line x1="484.40" y1="265.83" x2="487.00" y2="265.83" stroke="#ad0f2e" stroke-width="0.8" />
<line x1="496.98" y1="259.53" x2="496.98" y2="265.83" stroke="#ad0f2e" stroke-width="0.8" />
<line x1="495.68" y1="259.53" x2="498.28" y2="259.53" stroke="#ad0f2e" stroke-width="0.8" />
<line x1="495.68" y1="265.83" x2="498.28" y2="265.83" stroke="#ad0f2e" stroke-width="0.8" />
<rect x="427.83" y="261.21" width="2.94" height="2.94" fill="#ad0f2e" />
<rect x="439.11" y="209.99" width="2.94" height="2.94" fill="#ad0f2e" />
<rect x="450.39" y="247.42" width="2.94" height="2.94" fill="#ad0f2e" />
<rect x="461.67" y="254.12" width="2.94" height="2.94" fill="#ad0f2e" />
<rect x="472.95" y="256.48" width="2.94" height="2.94" fill="#ad0f2e" />
<rect x="484.23" y="262.39" width="2.94" height="2.94" fill="#ad0f2e" />
<rect x="495.51" y="261.21" width="2.94" height="2.94" fill="#ad0f2e" />
<line x1="326.20" y1="194.50" x2="340.00" y2="194.50" stroke="#2c4a8c" stroke-width="0.9" stroke-dasharray="3 1.2 0.8 1.2"/>
<rect x="331.39" y="192.79" width="3.42" height="3.42" fill="#2c4a8c" />
<text x="343.00" y="196.90" font-size="7.06" fill="#3a3a3a" stroke="#3a3a3a" stroke-width="0.04" textLength="27.80" lengthAdjust="spacingAndGlyphs">3PO+Ruxo</text>
<line x1="326.20" y1="203.00" x2="340.00" y2="203.00" stroke="#2c4a8c" stroke-width="0.9" stroke-dasharray="2.5 1.3"/>
<path d="M333.10,200.73 L335.18,204.51 L331.02,204.51 Z" fill="#2c4a8c" />
<text x="343.00" y="205.40" font-size="7.06" fill="#3a3a3a" stroke="#3a3a3a" stroke-width="0.04" textLength="13.50" lengthAdjust="spacingAndGlyphs">Ruxo</text>
<line x1="326.20" y1="211.20" x2="340.00" y2="211.20" stroke="#2c4a8c" stroke-width="0.9" stroke-dasharray="0.8 1.2"/>
<circle cx="333.10" cy="211.20" r="1.71" fill="#2c4a8c" />
<text x="343.00" y="213.60" font-size="7.06" fill="#3a3a3a" stroke="#3a3a3a" stroke-width="0.04" textLength="11.50" lengthAdjust="spacingAndGlyphs">3PO</text>
<line x1="326.20" y1="219.20" x2="340.00" y2="219.20" stroke="#2c4a8c" stroke-width="0.9" />
<circle cx="333.10" cy="219.20" r="1.66" fill="#fff" stroke="#2c4a8c" stroke-width="0.99"/>
<text x="343.00" y="221.60" font-size="7.06" fill="#3a3a3a" stroke="#3a3a3a" stroke-width="0.04" textLength="18.20" lengthAdjust="spacingAndGlyphs">Vehicle</text>
<line x1="445.80" y1="193.10" x2="459.50" y2="193.10" stroke="#ad0f2e" stroke-width="0.9" stroke-dasharray="3 1.2 0.8 1.2"/>
<rect x="450.94" y="191.39" width="3.42" height="3.42" fill="#ad0f2e" />
<text x="462.40" y="195.50" font-size="7.06" fill="#3a3a3a" stroke="#3a3a3a" stroke-width="0.04" textLength="28.40" lengthAdjust="spacingAndGlyphs">3PO+Ruxo</text>
<line x1="445.80" y1="201.60" x2="459.50" y2="201.60" stroke="#ad0f2e" stroke-width="0.9" stroke-dasharray="2.5 1.3"/>
<path d="M452.65,199.33 L454.73,203.11 L450.57,203.11 Z" fill="#ad0f2e" />
<text x="462.40" y="204.00" font-size="7.06" fill="#3a3a3a" stroke="#3a3a3a" stroke-width="0.04" textLength="13.50" lengthAdjust="spacingAndGlyphs">Ruxo</text>
<line x1="445.80" y1="210.20" x2="459.50" y2="210.20" stroke="#ad0f2e" stroke-width="0.9" stroke-dasharray="0.8 1.2"/>
<circle cx="452.65" cy="210.20" r="1.71" fill="#ad0f2e" />
<text x="462.40" y="212.60" font-size="7.06" fill="#3a3a3a" stroke="#3a3a3a" stroke-width="0.04" textLength="11.50" lengthAdjust="spacingAndGlyphs">3PO</text>
<line x1="445.80" y1="218.30" x2="459.50" y2="218.30" stroke="#ad0f2e" stroke-width="0.9" />
<circle cx="452.65" cy="218.30" r="1.66" fill="#fff" stroke="#ad0f2e" stroke-width="0.99"/>
<text x="462.40" y="220.70" font-size="7.06" fill="#3a3a3a" stroke="#3a3a3a" stroke-width="0.04" textLength="18.20" lengthAdjust="spacingAndGlyphs">Vehicle</text>
<path d="M365.80,211.50 L367.80,211.50 L367.80,220.00 L365.80,220.00" fill="none" stroke="#222" stroke-width="0.8" />
<circle cx="372.00" cy="213.90" r="0.85" fill="#231f20" />
<circle cx="372.00" cy="216.20" r="0.85" fill="#231f20" />
<circle cx="372.00" cy="218.50" r="0.85" fill="#231f20" />
<path d="M373.50,204.20 L375.50,204.20 L375.50,220.00 L373.50,220.00" fill="none" stroke="#222" stroke-width="0.8" />
<circle cx="380.80" cy="209.70" r="0.85" fill="#231f20" />
<circle cx="380.80" cy="212.00" r="0.85" fill="#231f20" />
<circle cx="380.80" cy="214.30" r="0.85" fill="#231f20" />
<path d="M381.50,194.20 L383.50,194.20 L383.50,220.00 L381.50,220.00" fill="none" stroke="#222" stroke-width="0.8" />
<circle cx="388.50" cy="204.20" r="0.85" fill="#231f20" />
<circle cx="388.50" cy="206.50" r="0.85" fill="#231f20" />
<circle cx="388.50" cy="208.80" r="0.85" fill="#231f20" />
<path d="M387.00,190.80 L389.00,190.80 L389.00,200.40 L387.00,200.40" fill="none" stroke="#222" stroke-width="0.8" />
<circle cx="393.50" cy="191.90" r="0.85" fill="#231f20" />
<circle cx="393.50" cy="194.20" r="0.85" fill="#231f20" />
<circle cx="393.50" cy="196.50" r="0.85" fill="#231f20" />
<path d="M485.40,209.80 L487.40,209.80 L487.40,218.50 L485.40,218.50" fill="none" stroke="#222" stroke-width="0.8" />
<circle cx="491.20" cy="214.40" r="0.85" fill="#231f20" />
<path d="M493.60,203.30 L495.60,203.30 L495.60,218.50 L493.60,218.50" fill="none" stroke="#222" stroke-width="0.8" />
<circle cx="499.90" cy="211.05" r="0.85" fill="#231f20" />
<circle cx="499.90" cy="213.35" r="0.85" fill="#231f20" />
<path d="M501.30,193.20 L503.30,193.20 L503.30,218.50 L501.30,218.50" fill="none" stroke="#222" stroke-width="0.8" />
<circle cx="507.80" cy="205.85" r="0.85" fill="#231f20" />
<circle cx="507.80" cy="208.15" r="0.85" fill="#231f20" />
<text x="7.80" y="330.40" font-size="12.5" fill="#000" stroke="#000" stroke-width="0.55" font-weight="bold" textLength="7.00" lengthAdjust="spacingAndGlyphs">F</text>
<line x1="36.00" y1="346.00" x2="36.00" y2="412.00" stroke="#231f20" stroke-width="1.3" />
<line x1="34.00" y1="412.00" x2="36.00" y2="412.00" stroke="#231f20" stroke-width="0.9" />
<text x="30.00" y="414.40" font-size="7.28" stroke="#231f20" stroke-width="0.04" text-anchor="end" textLength="3.30" lengthAdjust="spacingAndGlyphs">0</text>
<line x1="34.00" y1="399.32" x2="36.00" y2="399.32" stroke="#231f20" stroke-width="0.9" />
<text x="30.00" y="401.72" font-size="7.28" stroke="#231f20" stroke-width="0.04" text-anchor="end" textLength="6.60" lengthAdjust="spacingAndGlyphs">50</text>
<line x1="34.00" y1="386.64" x2="36.00" y2="386.64" stroke="#231f20" stroke-width="0.9" />
<text x="30.00" y="389.04" font-size="7.28" stroke="#231f20" stroke-width="0.04" text-anchor="end" textLength="9.90" lengthAdjust="spacingAndGlyphs">100</text>
<line x1="34.00" y1="373.96" x2="36.00" y2="373.96" stroke="#231f20" stroke-width="0.9" />
<text x="30.00" y="376.36" font-size="7.28" stroke="#231f20" stroke-width="0.04" text-anchor="end" textLength="9.90" lengthAdjust="spacingAndGlyphs">150</text>
<line x1="34.00" y1="361.28" x2="36.00" y2="361.28" stroke="#231f20" stroke-width="0.9" />
<text x="30.00" y="363.68" font-size="7.28" stroke="#231f20" stroke-width="0.04" text-anchor="end" textLength="9.90" lengthAdjust="spacingAndGlyphs">200</text>
<line x1="34.00" y1="348.60" x2="36.00" y2="348.60" stroke="#231f20" stroke-width="0.9" />
<text x="30.00" y="351.00" font-size="7.28" stroke="#231f20" stroke-width="0.04" text-anchor="end" textLength="9.90" lengthAdjust="spacingAndGlyphs">250</text>
<line x1="36.00" y1="412.00" x2="89.20" y2="412.00" stroke="#231f20" stroke-width="1.3" />
<line x1="42.80" y1="412.00" x2="42.80" y2="414.00" stroke="#231f20" stroke-width="0.9" />
<line x1="56.20" y1="412.00" x2="56.20" y2="414.00" stroke="#231f20" stroke-width="0.9" />
<line x1="69.70" y1="412.00" x2="69.70" y2="414.00" stroke="#231f20" stroke-width="0.9" />
<line x1="83.40" y1="412.00" x2="83.40" y2="414.00" stroke="#231f20" stroke-width="0.9" />
<text x="42.80" y="424.70" font-size="7.28" stroke="#231f20" stroke-width="0.04" text-anchor="middle">0</text>
<text x="56.20" y="424.70" font-size="7.28" stroke="#231f20" stroke-width="0.04" text-anchor="middle">3</text>
<text x="69.70" y="424.70" font-size="7.28" stroke="#231f20" stroke-width="0.04" text-anchor="middle">6</text>
<text x="83.40" y="424.70" font-size="7.28" stroke="#231f20" stroke-width="0.04" text-anchor="middle">8</text>
<text x="40.80" y="330.80" font-size="8.13" stroke="#231f20" stroke-width="0.04" textLength="44.80" lengthAdjust="spacingAndGlyphs">Hemoglobin</text>
<text x="54.80" y="339.20" font-size="8.13" stroke="#231f20" stroke-width="0.04" textLength="16.70" lengthAdjust="spacingAndGlyphs">(g/L)</text>
<polyline points="42.80,367.62 56.20,358.24 69.70,356.21 83.40,358.24" fill="none" stroke="#ad0f2e" stroke-width="1.15" stroke-dasharray="3 1.2 0.8 1.2"/>
<line x1="42.80" y1="366.10" x2="42.80" y2="369.14" stroke="#ad0f2e" stroke-width="0.8" />
<line x1="41.50" y1="366.10" x2="44.10" y2="366.10" stroke="#ad0f2e" stroke-width="0.8" />
<line x1="41.50" y1="369.14" x2="44.10" y2="369.14" stroke="#ad0f2e" stroke-width="0.8" />
<line x1="56.20" y1="356.72" x2="56.20" y2="359.76" stroke="#ad0f2e" stroke-width="0.8" />
<line x1="54.90" y1="356.72" x2="57.50" y2="356.72" stroke="#ad0f2e" stroke-width="0.8" />
<line x1="54.90" y1="359.76" x2="57.50" y2="359.76" stroke="#ad0f2e" stroke-width="0.8" />
<line x1="69.70" y1="354.18" x2="69.70" y2="358.24" stroke="#ad0f2e" stroke-width="0.8" />
<line x1="68.40" y1="354.18" x2="71.00" y2="354.18" stroke="#ad0f2e" stroke-width="0.8" />
<line x1="68.40" y1="358.24" x2="71.00" y2="358.24" stroke="#ad0f2e" stroke-width="0.8" />
<line x1="83.40" y1="355.70" x2="83.40" y2="360.77" stroke="#ad0f2e" stroke-width="0.8" />
<line x1="82.10" y1="355.70" x2="84.70" y2="355.70" stroke="#ad0f2e" stroke-width="0.8" />
<line x1="82.10" y1="360.77" x2="84.70" y2="360.77" stroke="#ad0f2e" stroke-width="0.8" />
<rect x="40.90" y="365.72" width="3.80" height="3.80" fill="#ad0f2e" />
<rect x="54.30" y="356.34" width="3.80" height="3.80" fill="#ad0f2e" />
<rect x="67.80" y="354.31" width="3.80" height="3.80" fill="#ad0f2e" />
<rect x="81.50" y="356.34" width="3.80" height="3.80" fill="#ad0f2e" />
<polyline points="42.80,365.08 56.20,357.48 69.70,355.70 83.40,358.74" fill="none" stroke="#ad0f2e" stroke-width="1.15" stroke-dasharray="2.5 1.3"/>
<line x1="42.80" y1="363.56" x2="42.80" y2="366.61" stroke="#ad0f2e" stroke-width="0.8" />
<line x1="41.50" y1="363.56" x2="44.10" y2="363.56" stroke="#ad0f2e" stroke-width="0.8" />
<line x1="41.50" y1="366.61" x2="44.10" y2="366.61" stroke="#ad0f2e" stroke-width="0.8" />
<line x1="56.20" y1="355.95" x2="56.20" y2="359.00" stroke="#ad0f2e" stroke-width="0.8" />
<line x1="54.90" y1="355.95" x2="57.50" y2="355.95" stroke="#ad0f2e" stroke-width="0.8" />
<line x1="54.90" y1="359.00" x2="57.50" y2="359.00" stroke="#ad0f2e" stroke-width="0.8" />
<line x1="69.70" y1="353.67" x2="69.70" y2="357.73" stroke="#ad0f2e" stroke-width="0.8" />
<line x1="68.40" y1="353.67" x2="71.00" y2="353.67" stroke="#ad0f2e" stroke-width="0.8" />
<line x1="68.40" y1="357.73" x2="71.00" y2="357.73" stroke="#ad0f2e" stroke-width="0.8" />
<line x1="83.40" y1="356.21" x2="83.40" y2="361.28" stroke="#ad0f2e" stroke-width="0.8" />
<line x1="82.10" y1="356.21" x2="84.70" y2="356.21" stroke="#ad0f2e" stroke-width="0.8" />
<line x1="82.10" y1="361.28" x2="84.70" y2="361.28" stroke="#ad0f2e" stroke-width="0.8" />
<path d="M42.80,362.56 L45.11,366.76 L40.49,366.76 Z" fill="#ad0f2e" />
<path d="M56.20,354.96 L58.51,359.16 L53.89,359.16 Z" fill="#ad0f2e" />
<path d="M69.70,353.18 L72.01,357.38 L67.39,357.38 Z" fill="#ad0f2e" />
<path d="M83.40,356.22 L85.71,360.42 L81.09,360.42 Z" fill="#ad0f2e" />
<polyline points="42.80,363.82 56.20,356.72 69.70,355.19 83.40,357.48" fill="none" stroke="#ad0f2e" stroke-width="1.15" stroke-dasharray="0.8 1.2"/>
<line x1="42.80" y1="362.29" x2="42.80" y2="365.34" stroke="#ad0f2e" stroke-width="0.8" />
<line x1="41.50" y1="362.29" x2="44.10" y2="362.29" stroke="#ad0f2e" stroke-width="0.8" />
<line x1="41.50" y1="365.34" x2="44.10" y2="365.34" stroke="#ad0f2e" stroke-width="0.8" />
<line x1="56.20" y1="355.19" x2="56.20" y2="358.24" stroke="#ad0f2e" stroke-width="0.8" />
<line x1="54.90" y1="355.19" x2="57.50" y2="355.19" stroke="#ad0f2e" stroke-width="0.8" />
<line x1="54.90" y1="358.24" x2="57.50" y2="358.24" stroke="#ad0f2e" stroke-width="0.8" />
<line x1="69.70" y1="353.67" x2="69.70" y2="356.72" stroke="#ad0f2e" stroke-width="0.8" />
<line x1="68.40" y1="353.67" x2="71.00" y2="353.67" stroke="#ad0f2e" stroke-width="0.8" />
<line x1="68.40" y1="356.72" x2="71.00" y2="356.72" stroke="#ad0f2e" stroke-width="0.8" />
<line x1="83.40" y1="354.94" x2="83.40" y2="360.01" stroke="#ad0f2e" stroke-width="0.8" />
<line x1="82.10" y1="354.94" x2="84.70" y2="354.94" stroke="#ad0f2e" stroke-width="0.8" />
<line x1="82.10" y1="360.01" x2="84.70" y2="360.01" stroke="#ad0f2e" stroke-width="0.8" />
<circle cx="42.80" cy="363.82" r="1.90" fill="#ad0f2e" />
<circle cx="56.20" cy="356.72" r="1.90" fill="#ad0f2e" />
<circle cx="69.70" cy="355.19" r="1.90" fill="#ad0f2e" />
<circle cx="83.40" cy="357.48" r="1.90" fill="#ad0f2e" />
<polyline points="42.80,363.82 56.20,355.70 69.70,354.69 83.40,356.72" fill="none" stroke="#ad0f2e" stroke-width="1.49" />
<line x1="42.80" y1="362.29" x2="42.80" y2="365.34" stroke="#ad0f2e" stroke-width="0.8" />
<line x1="41.50" y1="362.29" x2="44.10" y2="362.29" stroke="#ad0f2e" stroke-width="0.8" />
<line x1="41.50" y1="365.34" x2="44.10" y2="365.34" stroke="#ad0f2e" stroke-width="0.8" />
<line x1="56.20" y1="354.18" x2="56.20" y2="357.22" stroke="#ad0f2e" stroke-width="0.8" />
<line x1="54.90" y1="354.18" x2="57.50" y2="354.18" stroke="#ad0f2e" stroke-width="0.8" />
<line x1="54.90" y1="357.22" x2="57.50" y2="357.22" stroke="#ad0f2e" stroke-width="0.8" />
<line x1="69.70" y1="353.16" x2="69.70" y2="356.21" stroke="#ad0f2e" stroke-width="0.8" />
<line x1="68.40" y1="353.16" x2="71.00" y2="353.16" stroke="#ad0f2e" stroke-width="0.8" />
<line x1="68.40" y1="356.21" x2="71.00" y2="356.21" stroke="#ad0f2e" stroke-width="0.8" />
<line x1="83.40" y1="354.69" x2="83.40" y2="358.74" stroke="#ad0f2e" stroke-width="0.8" />
<line x1="82.10" y1="354.69" x2="84.70" y2="354.69" stroke="#ad0f2e" stroke-width="0.8" />
<line x1="82.10" y1="358.74" x2="84.70" y2="358.74" stroke="#ad0f2e" stroke-width="0.8" />
<circle cx="42.80" cy="363.82" r="2.00" fill="#ad0f2e" />
<circle cx="56.20" cy="355.70" r="2.00" fill="#ad0f2e" />
<circle cx="69.70" cy="354.69" r="2.00" fill="#ad0f2e" />
<circle cx="83.40" cy="356.72" r="2.00" fill="#ad0f2e" />
<polyline points="42.80,362.04 56.20,361.28 69.70,361.79 83.40,365.08" fill="none" stroke="#2c4a8c" stroke-width="1.49" />
<line x1="42.80" y1="360.77" x2="42.80" y2="363.31" stroke="#2c4a8c" stroke-width="0.8" />
<line x1="41.50" y1="360.77" x2="44.10" y2="360.77" stroke="#2c4a8c" stroke-width="0.8" />
<line x1="41.50" y1="363.31" x2="44.10" y2="363.31" stroke="#2c4a8c" stroke-width="0.8" />
<line x1="56.20" y1="360.01" x2="56.20" y2="362.55" stroke="#2c4a8c" stroke-width="0.8" />
<line x1="54.90" y1="360.01" x2="57.50" y2="360.01" stroke="#2c4a8c" stroke-width="0.8" />
<line x1="54.90" y1="362.55" x2="57.50" y2="362.55" stroke="#2c4a8c" stroke-width="0.8" />
<line x1="69.70" y1="360.52" x2="69.70" y2="363.06" stroke="#2c4a8c" stroke-width="0.8" />
<line x1="68.40" y1="360.52" x2="71.00" y2="360.52" stroke="#2c4a8c" stroke-width="0.8" />
<line x1="68.40" y1="363.06" x2="71.00" y2="363.06" stroke="#2c4a8c" stroke-width="0.8" />
<line x1="83.40" y1="363.56" x2="83.40" y2="366.61" stroke="#2c4a8c" stroke-width="0.8" />
<line x1="82.10" y1="363.56" x2="84.70" y2="363.56" stroke="#2c4a8c" stroke-width="0.8" />
<line x1="82.10" y1="366.61" x2="84.70" y2="366.61" stroke="#2c4a8c" stroke-width="0.8" />
<circle cx="42.80" cy="362.04" r="2.00" fill="#2c4a8c" />
<circle cx="56.20" cy="361.28" r="2.00" fill="#2c4a8c" />
<circle cx="69.70" cy="361.79" r="2.00" fill="#2c4a8c" />
<circle cx="83.40" cy="365.08" r="2.00" fill="#2c4a8c" />
<polyline points="42.80,363.82 56.20,365.08 69.70,366.35 83.40,368.89" fill="none" stroke="#2c4a8c" stroke-width="1.15" stroke-dasharray="0.8 1.2"/>
<line x1="42.80" y1="362.55" x2="42.80" y2="365.08" stroke="#2c4a8c" stroke-width="0.8" />
<line x1="41.50" y1="362.55" x2="44.10" y2="362.55" stroke="#2c4a8c" stroke-width="0.8" />
<line x1="41.50" y1="365.08" x2="44.10" y2="365.08" stroke="#2c4a8c" stroke-width="0.8" />
<line x1="56.20" y1="363.82" x2="56.20" y2="366.35" stroke="#2c4a8c" stroke-width="0.8" />
<line x1="54.90" y1="363.82" x2="57.50" y2="363.82" stroke="#2c4a8c" stroke-width="0.8" />
<line x1="54.90" y1="366.35" x2="57.50" y2="366.35" stroke="#2c4a8c" stroke-width="0.8" />
<line x1="69.70" y1="364.83" x2="69.70" y2="367.87" stroke="#2c4a8c" stroke-width="0.8" />
<line x1="68.40" y1="364.83" x2="71.00" y2="364.83" stroke="#2c4a8c" stroke-width="0.8" />
<line x1="68.40" y1="367.87" x2="71.00" y2="367.87" stroke="#2c4a8c" stroke-width="0.8" />
<line x1="83.40" y1="366.86" x2="83.40" y2="370.92" stroke="#2c4a8c" stroke-width="0.8" />
<line x1="82.10" y1="366.86" x2="84.70" y2="366.86" stroke="#2c4a8c" stroke-width="0.8" />
<line x1="82.10" y1="370.92" x2="84.70" y2="370.92" stroke="#2c4a8c" stroke-width="0.8" />
<circle cx="42.80" cy="363.82" r="1.90" fill="#2c4a8c" />
<circle cx="56.20" cy="365.08" r="1.90" fill="#2c4a8c" />
<circle cx="69.70" cy="366.35" r="1.90" fill="#2c4a8c" />
<circle cx="83.40" cy="368.89" r="1.90" fill="#2c4a8c" />
<polyline points="42.80,365.08 56.20,367.62 69.70,370.92 83.40,372.69" fill="none" stroke="#2c4a8c" stroke-width="1.15" stroke-dasharray="2.5 1.3"/>
<line x1="42.80" y1="363.82" x2="42.80" y2="366.35" stroke="#2c4a8c" stroke-width="0.8" />
<line x1="41.50" y1="363.82" x2="44.10" y2="363.82" stroke="#2c4a8c" stroke-width="0.8" />
<line x1="41.50" y1="366.35" x2="44.10" y2="366.35" stroke="#2c4a8c" stroke-width="0.8" />
<line x1="56.20" y1="366.10" x2="56.20" y2="369.14" stroke="#2c4a8c" stroke-width="0.8" />
<line x1="54.90" y1="366.10" x2="57.50" y2="366.10" stroke="#2c4a8c" stroke-width="0.8" />
<line x1="54.90" y1="369.14" x2="57.50" y2="369.14" stroke="#2c4a8c" stroke-width="0.8" />
<line x1="69.70" y1="369.40" x2="69.70" y2="372.44" stroke="#2c4a8c" stroke-width="0.8" />
<line x1="68.40" y1="369.40" x2="71.00" y2="369.40" stroke="#2c4a8c" stroke-width="0.8" />
<line x1="68.40" y1="372.44" x2="71.00" y2="372.44" stroke="#2c4a8c" stroke-width="0.8" />
<line x1="83.40" y1="370.66" x2="83.40" y2="374.72" stroke="#2c4a8c" stroke-width="0.8" />
<line x1="82.10" y1="370.66" x2="84.70" y2="370.66" stroke="#2c4a8c" stroke-width="0.8" />
<line x1="82.10" y1="374.72" x2="84.70" y2="374.72" stroke="#2c4a8c" stroke-width="0.8" />
<path d="M42.80,362.56 L45.11,366.76 L40.49,366.76 Z" fill="#2c4a8c" />
<path d="M56.20,365.10 L58.51,369.30 L53.89,369.30 Z" fill="#2c4a8c" />
<path d="M69.70,368.40 L72.01,372.60 L67.39,372.60 Z" fill="#2c4a8c" />
<path d="M83.40,370.17 L85.71,374.37 L81.09,374.37 Z" fill="#2c4a8c" />
<polyline points="42.80,366.35 56.20,368.89 69.70,376.50 83.40,379.79" fill="none" stroke="#2c4a8c" stroke-width="1.15" stroke-dasharray="3 1.2 0.8 1.2"/>
<line x1="42.80" y1="365.08" x2="42.80" y2="367.62" stroke="#2c4a8c" stroke-width="0.8" />
<line x1="41.50" y1="365.08" x2="44.10" y2="365.08" stroke="#2c4a8c" stroke-width="0.8" />
<line x1="41.50" y1="367.62" x2="44.10" y2="367.62" stroke="#2c4a8c" stroke-width="0.8" />
<line x1="56.20" y1="367.37" x2="56.20" y2="370.41" stroke="#2c4a8c" stroke-width="0.8" />
<line x1="54.90" y1="367.37" x2="57.50" y2="367.37" stroke="#2c4a8c" stroke-width="0.8" />
<line x1="54.90" y1="370.41" x2="57.50" y2="370.41" stroke="#2c4a8c" stroke-width="0.8" />
<line x1="69.70" y1="375.23" x2="69.70" y2="377.76" stroke="#2c4a8c" stroke-width="0.8" />
<line x1="68.40" y1="375.23" x2="71.00" y2="375.23" stroke="#2c4a8c" stroke-width="0.8" />
<line x1="68.40" y1="377.76" x2="71.00" y2="377.76" stroke="#2c4a8c" stroke-width="0.8" />
<line x1="83.40" y1="378.52" x2="83.40" y2="381.06" stroke="#2c4a8c" stroke-width="0.8" />
<line x1="82.10" y1="378.52" x2="84.70" y2="378.52" stroke="#2c4a8c" stroke-width="0.8" />
<line x1="82.10" y1="381.06" x2="84.70" y2="381.06" stroke="#2c4a8c" stroke-width="0.8" />
<rect x="40.90" y="364.45" width="3.80" height="3.80" fill="#2c4a8c" />
<rect x="54.30" y="366.99" width="3.80" height="3.80" fill="#2c4a8c" />
<rect x="67.80" y="374.60" width="3.80" height="3.80" fill="#2c4a8c" />
<rect x="81.50" y="377.89" width="3.80" height="3.80" fill="#2c4a8c" />
<circle cx="88.35" cy="365.60" r="0.80" fill="#231f20" />
<circle cx="90.65" cy="365.60" r="0.80" fill="#231f20" />
<circle cx="88.50" cy="373.60" r="0.80" fill="#231f20" />
<circle cx="88.35" cy="378.20" r="0.80" fill="#231f20" />
<circle cx="90.65" cy="378.20" r="0.80" fill="#231f20" />
<circle cx="87.50" cy="383.70" r="0.80" fill="#231f20" />
<circle cx="89.80" cy="383.70" r="0.80" fill="#231f20" />
<circle cx="92.10" cy="383.70" r="0.80" fill="#231f20" />
<line x1="118.50" y1="346.50" x2="118.50" y2="412.80" stroke="#231f20" stroke-width="1.3" />
<line x1="116.50" y1="412.80" x2="118.50" y2="412.80" stroke="#231f20" stroke-width="0.9" />
<text x="112.40" y="415.20" font-size="7.28" stroke="#231f20" stroke-width="0.04" text-anchor="end" textLength="3.30" lengthAdjust="spacingAndGlyphs">0</text>
<line x1="116.50" y1="400.07" x2="118.50" y2="400.07" stroke="#231f20" stroke-width="0.9" />
<text x="112.40" y="402.47" font-size="7.28" stroke="#231f20" stroke-width="0.04" text-anchor="end" textLength="3.30" lengthAdjust="spacingAndGlyphs">5</text>
<line x1="116.50" y1="387.34" x2="118.50" y2="387.34" stroke="#231f20" stroke-width="0.9" />
<text x="112.40" y="389.74" font-size="7.28" stroke="#231f20" stroke-width="0.04" text-anchor="end" textLength="6.60" lengthAdjust="spacingAndGlyphs">10</text>
<line x1="116.50" y1="374.61" x2="118.50" y2="374.61" stroke="#231f20" stroke-width="0.9" />
<text x="112.40" y="377.01" font-size="7.28" stroke="#231f20" stroke-width="0.04" text-anchor="end" textLength="6.60" lengthAdjust="spacingAndGlyphs">15</text>
<line x1="116.50" y1="361.88" x2="118.50" y2="361.88" stroke="#231f20" stroke-width="0.9" />
<text x="112.40" y="364.28" font-size="7.28" stroke="#231f20" stroke-width="0.04" text-anchor="end" textLength="6.60" lengthAdjust="spacingAndGlyphs">20</text>
<line x1="116.50" y1="349.15" x2="118.50" y2="349.15" stroke="#231f20" stroke-width="0.9" />
<text x="112.40" y="351.55" font-size="7.28" stroke="#231f20" stroke-width="0.04" text-anchor="end" textLength="6.60" lengthAdjust="spacingAndGlyphs">25</text>
<line x1="118.50" y1="412.80" x2="171.50" y2="412.80" stroke="#231f20" stroke-width="1.3" />
<line x1="124.30" y1="412.80" x2="124.30" y2="414.80" stroke="#231f20" stroke-width="0.9" />
<line x1="138.20" y1="412.80" x2="138.20" y2="414.80" stroke="#231f20" stroke-width="0.9" />
<line x1="151.50" y1="412.80" x2="151.50" y2="414.80" stroke="#231f20" stroke-width="0.9" />
<line x1="165.00" y1="412.80" x2="165.00" y2="414.80" stroke="#231f20" stroke-width="0.9" />
<text x="124.30" y="424.70" font-size="7.28" stroke="#231f20" stroke-width="0.04" text-anchor="middle">0</text>
<text x="138.20" y="424.70" font-size="7.28" stroke="#231f20" stroke-width="0.04" text-anchor="middle">3</text>
<text x="151.50" y="424.70" font-size="7.28" stroke="#231f20" stroke-width="0.04" text-anchor="middle">6</text>
<text x="165.00" y="424.70" font-size="7.28" stroke="#231f20" stroke-width="0.04" text-anchor="middle">8</text>
<text x="136.90" y="330.80" font-size="8.13" stroke="#231f20" stroke-width="0.04" textLength="15.40" lengthAdjust="spacingAndGlyphs">RBC</text>
<text x="120.00" y="340.00" font-size="8.13" stroke="#231f20" stroke-width="0.04" textLength="15.70" lengthAdjust="spacingAndGlyphs">(x10</text>
<text x="136.60" y="337.50" font-size="6.31" stroke="#231f20" stroke-width="0.04" font-weight="500" textLength="4.90" lengthAdjust="spacingAndGlyphs">12</text>
<text x="144.60" y="340.00" font-size="8.13" stroke="#231f20" stroke-width="0.04" textLength="24.30" lengthAdjust="spacingAndGlyphs">cells/L)</text>
<polyline points="124.30,369.52 138.20,351.70 151.50,351.70 165.00,356.79" fill="none" stroke="#ad0f2e" stroke-width="1.49" />
<line x1="124.30" y1="367.99" x2="124.30" y2="371.05" stroke="#ad0f2e" stroke-width="0.8" />
<line x1="123.00" y1="367.99" x2="125.60" y2="367.99" stroke="#ad0f2e" stroke-width="0.8" />
<line x1="123.00" y1="371.05" x2="125.60" y2="371.05" stroke="#ad0f2e" stroke-width="0.8" />
<line x1="138.20" y1="350.42" x2="138.20" y2="352.97" stroke="#ad0f2e" stroke-width="0.8" />
<line x1="136.90" y1="350.42" x2="139.50" y2="350.42" stroke="#ad0f2e" stroke-width="0.8" />
<line x1="136.90" y1="352.97" x2="139.50" y2="352.97" stroke="#ad0f2e" stroke-width="0.8" />
<line x1="151.50" y1="350.42" x2="151.50" y2="352.97" stroke="#ad0f2e" stroke-width="0.8" />
<line x1="150.20" y1="350.42" x2="152.80" y2="350.42" stroke="#ad0f2e" stroke-width="0.8" />
<line x1="150.20" y1="352.97" x2="152.80" y2="352.97" stroke="#ad0f2e" stroke-width="0.8" />
<line x1="165.00" y1="355.26" x2="165.00" y2="358.32" stroke="#ad0f2e" stroke-width="0.8" />
<line x1="163.70" y1="355.26" x2="166.30" y2="355.26" stroke="#ad0f2e" stroke-width="0.8" />
<line x1="163.70" y1="358.32" x2="166.30" y2="358.32" stroke="#ad0f2e" stroke-width="0.8" />
<circle cx="124.30" cy="369.52" r="2.00" fill="#ad0f2e" />
<circle cx="138.20" cy="351.70" r="2.00" fill="#ad0f2e" />
<circle cx="151.50" cy="351.70" r="2.00" fill="#ad0f2e" />
<circle cx="165.00" cy="356.79" r="2.00" fill="#ad0f2e" />
<polyline points="124.30,369.52 138.20,354.24 151.50,352.97 165.00,358.06" fill="none" stroke="#ad0f2e" stroke-width="1.15" stroke-dasharray="0.8 1.2"/>
<line x1="124.30" y1="367.99" x2="124.30" y2="371.05" stroke="#ad0f2e" stroke-width="0.8" />
<line x1="123.00" y1="367.99" x2="125.60" y2="367.99" stroke="#ad0f2e" stroke-width="0.8" />
<line x1="123.00" y1="371.05" x2="125.60" y2="371.05" stroke="#ad0f2e" stroke-width="0.8" />
<line x1="138.20" y1="352.71" x2="138.20" y2="355.77" stroke="#ad0f2e" stroke-width="0.8" />
<line x1="136.90" y1="352.71" x2="139.50" y2="352.71" stroke="#ad0f2e" stroke-width="0.8" />
<line x1="136.90" y1="355.77" x2="139.50" y2="355.77" stroke="#ad0f2e" stroke-width="0.8" />
<line x1="151.50" y1="351.44" x2="151.50" y2="354.50" stroke="#ad0f2e" stroke-width="0.8" />
<line x1="150.20" y1="351.44" x2="152.80" y2="351.44" stroke="#ad0f2e" stroke-width="0.8" />
<line x1="150.20" y1="354.50" x2="152.80" y2="354.50" stroke="#ad0f2e" stroke-width="0.8" />
<line x1="165.00" y1="356.53" x2="165.00" y2="359.59" stroke="#ad0f2e" stroke-width="0.8" />
<line x1="163.70" y1="356.53" x2="166.30" y2="356.53" stroke="#ad0f2e" stroke-width="0.8" />
<line x1="163.70" y1="359.59" x2="166.30" y2="359.59" stroke="#ad0f2e" stroke-width="0.8" />
<circle cx="124.30" cy="369.52" r="1.90" fill="#ad0f2e" />
<circle cx="138.20" cy="354.24" r="1.90" fill="#ad0f2e" />
<circle cx="151.50" cy="352.97" r="1.90" fill="#ad0f2e" />
<circle cx="165.00" cy="358.06" r="1.90" fill="#ad0f2e" />
<polyline points="124.30,373.34 138.20,359.33 151.50,359.33 165.00,361.88" fill="none" stroke="#ad0f2e" stroke-width="1.15" stroke-dasharray="2.5 1.3"/>
<line x1="124.30" y1="371.30" x2="124.30" y2="375.37" stroke="#ad0f2e" stroke-width="0.8" />
<line x1="123.00" y1="371.30" x2="125.60" y2="371.30" stroke="#ad0f2e" stroke-width="0.8" />
<line x1="123.00" y1="375.37" x2="125.60" y2="375.37" stroke="#ad0f2e" stroke-width="0.8" />
<line x1="138.20" y1="357.30" x2="138.20" y2="361.37" stroke="#ad0f2e" stroke-width="0.8" />
<line x1="136.90" y1="357.30" x2="139.50" y2="357.30" stroke="#ad0f2e" stroke-width="0.8" />
<line x1="136.90" y1="361.37" x2="139.50" y2="361.37" stroke="#ad0f2e" stroke-width="0.8" />
<line x1="151.50" y1="356.79" x2="151.50" y2="361.88" stroke="#ad0f2e" stroke-width="0.8" />
<line x1="150.20" y1="356.79" x2="152.80" y2="356.79" stroke="#ad0f2e" stroke-width="0.8" />
<line x1="150.20" y1="361.88" x2="152.80" y2="361.88" stroke="#ad0f2e" stroke-width="0.8" />
<line x1="165.00" y1="359.33" x2="165.00" y2="364.43" stroke="#ad0f2e" stroke-width="0.8" />
<line x1="163.70" y1="359.33" x2="166.30" y2="359.33" stroke="#ad0f2e" stroke-width="0.8" />
<line x1="163.70" y1="364.43" x2="166.30" y2="364.43" stroke="#ad0f2e" stroke-width="0.8" />
<path d="M124.30,370.82 L126.61,375.02 L121.99,375.02 Z" fill="#ad0f2e" />
<path d="M138.20,356.81 L140.51,361.01 L135.89,361.01 Z" fill="#ad0f2e" />
<path d="M151.50,356.81 L153.81,361.01 L149.19,361.01 Z" fill="#ad0f2e" />
<path d="M165.00,359.36 L167.31,363.56 L162.69,363.56 Z" fill="#ad0f2e" />
<polyline points="124.30,374.61 138.20,359.33 151.50,364.43 165.00,372.06" fill="none" stroke="#ad0f2e" stroke-width="1.15" stroke-dasharray="3 1.2 0.8 1.2"/>
<line x1="124.30" y1="372.57" x2="124.30" y2="376.65" stroke="#ad0f2e" stroke-width="0.8" />
<line x1="123.00" y1="372.57" x2="125.60" y2="372.57" stroke="#ad0f2e" stroke-width="0.8" />
<line x1="123.00" y1="376.65" x2="125.60" y2="376.65" stroke="#ad0f2e" stroke-width="0.8" />
<line x1="138.20" y1="357.30" x2="138.20" y2="361.37" stroke="#ad0f2e" stroke-width="0.8" />
<line x1="136.90" y1="357.30" x2="139.50" y2="357.30" stroke="#ad0f2e" stroke-width="0.8" />
<line x1="136.90" y1="361.37" x2="139.50" y2="361.37" stroke="#ad0f2e" stroke-width="0.8" />
<line x1="151.50" y1="360.61" x2="151.50" y2="368.25" stroke="#ad0f2e" stroke-width="0.8" />
<line x1="150.20" y1="360.61" x2="152.80" y2="360.61" stroke="#ad0f2e" stroke-width="0.8" />
<line x1="150.20" y1="368.25" x2="152.80" y2="368.25" stroke="#ad0f2e" stroke-width="0.8" />
<line x1="165.00" y1="368.25" x2="165.00" y2="375.88" stroke="#ad0f2e" stroke-width="0.8" />
<line x1="163.70" y1="368.25" x2="166.30" y2="368.25" stroke="#ad0f2e" stroke-width="0.8" />
<line x1="163.70" y1="375.88" x2="166.30" y2="375.88" stroke="#ad0f2e" stroke-width="0.8" />
<rect x="122.40" y="372.71" width="3.80" height="3.80" fill="#ad0f2e" />
<rect x="136.30" y="357.43" width="3.80" height="3.80" fill="#ad0f2e" />
<rect x="149.60" y="362.53" width="3.80" height="3.80" fill="#ad0f2e" />
<rect x="163.10" y="370.16" width="3.80" height="3.80" fill="#ad0f2e" />
<polyline points="124.30,377.16 138.20,376.39 151.50,376.65 165.00,378.43" fill="none" stroke="#2c4a8c" stroke-width="1.49" />
<line x1="124.30" y1="376.14" x2="124.30" y2="378.17" stroke="#2c4a8c" stroke-width="0.8" />
<line x1="123.00" y1="376.14" x2="125.60" y2="376.14" stroke="#2c4a8c" stroke-width="0.8" />
<line x1="123.00" y1="378.17" x2="125.60" y2="378.17" stroke="#2c4a8c" stroke-width="0.8" />
<line x1="138.20" y1="375.37" x2="138.20" y2="377.41" stroke="#2c4a8c" stroke-width="0.8" />
<line x1="136.90" y1="375.37" x2="139.50" y2="375.37" stroke="#2c4a8c" stroke-width="0.8" />
<line x1="136.90" y1="377.41" x2="139.50" y2="377.41" stroke="#2c4a8c" stroke-width="0.8" />
<line x1="151.50" y1="375.63" x2="151.50" y2="377.67" stroke="#2c4a8c" stroke-width="0.8" />
<line x1="150.20" y1="375.63" x2="152.80" y2="375.63" stroke="#2c4a8c" stroke-width="0.8" />
<line x1="150.20" y1="377.67" x2="152.80" y2="377.67" stroke="#2c4a8c" stroke-width="0.8" />
<line x1="165.00" y1="377.16" x2="165.00" y2="379.70" stroke="#2c4a8c" stroke-width="0.8" />
<line x1="163.70" y1="377.16" x2="166.30" y2="377.16" stroke="#2c4a8c" stroke-width="0.8" />
<line x1="163.70" y1="379.70" x2="166.30" y2="379.70" stroke="#2c4a8c" stroke-width="0.8" />
<circle cx="124.30" cy="377.16" r="2.00" fill="#2c4a8c" />
<circle cx="138.20" cy="376.39" r="2.00" fill="#2c4a8c" />
<circle cx="151.50" cy="376.65" r="2.00" fill="#2c4a8c" />
<circle cx="165.00" cy="378.43" r="2.00" fill="#2c4a8c" />
<polyline points="124.30,378.43 138.20,378.43 151.50,380.98 165.00,382.25" fill="none" stroke="#2c4a8c" stroke-width="1.15" stroke-dasharray="0.8 1.2"/>
<line x1="124.30" y1="377.41" x2="124.30" y2="379.45" stroke="#2c4a8c" stroke-width="0.8" />
<line x1="123.00" y1="377.41" x2="125.60" y2="377.41" stroke="#2c4a8c" stroke-width="0.8" />
<line x1="123.00" y1="379.45" x2="125.60" y2="379.45" stroke="#2c4a8c" stroke-width="0.8" />
<line x1="138.20" y1="377.16" x2="138.20" y2="379.70" stroke="#2c4a8c" stroke-width="0.8" />
<line x1="136.90" y1="377.16" x2="139.50" y2="377.16" stroke="#2c4a8c" stroke-width="0.8" />
<line x1="136.90" y1="379.70" x2="139.50" y2="379.70" stroke="#2c4a8c" stroke-width="0.8" />
<line x1="151.50" y1="379.45" x2="151.50" y2="382.50" stroke="#2c4a8c" stroke-width="0.8" />
<line x1="150.20" y1="379.45" x2="152.80" y2="379.45" stroke="#2c4a8c" stroke-width="0.8" />
<line x1="150.20" y1="382.50" x2="152.80" y2="382.50" stroke="#2c4a8c" stroke-width="0.8" />
<line x1="165.00" y1="380.72" x2="165.00" y2="383.78" stroke="#2c4a8c" stroke-width="0.8" />
<line x1="163.70" y1="380.72" x2="166.30" y2="380.72" stroke="#2c4a8c" stroke-width="0.8" />
<line x1="163.70" y1="383.78" x2="166.30" y2="383.78" stroke="#2c4a8c" stroke-width="0.8" />
<circle cx="124.30" cy="378.43" r="1.90" fill="#2c4a8c" />
<circle cx="138.20" cy="378.43" r="1.90" fill="#2c4a8c" />
<circle cx="151.50" cy="380.98" r="1.90" fill="#2c4a8c" />
<circle cx="165.00" cy="382.25" r="1.90" fill="#2c4a8c" />
<polyline points="124.30,378.43 138.20,379.70 151.50,382.25 165.00,384.79" fill="none" stroke="#2c4a8c" stroke-width="1.15" stroke-dasharray="2.5 1.3"/>
<line x1="124.30" y1="377.41" x2="124.30" y2="379.45" stroke="#2c4a8c" stroke-width="0.8" />
<line x1="123.00" y1="377.41" x2="125.60" y2="377.41" stroke="#2c4a8c" stroke-width="0.8" />
<line x1="123.00" y1="379.45" x2="125.60" y2="379.45" stroke="#2c4a8c" stroke-width="0.8" />
<line x1="138.20" y1="378.43" x2="138.20" y2="380.98" stroke="#2c4a8c" stroke-width="0.8" />
<line x1="136.90" y1="378.43" x2="139.50" y2="378.43" stroke="#2c4a8c" stroke-width="0.8" />
<line x1="136.90" y1="380.98" x2="139.50" y2="380.98" stroke="#2c4a8c" stroke-width="0.8" />
<line x1="151.50" y1="380.72" x2="151.50" y2="383.78" stroke="#2c4a8c" stroke-width="0.8" />
<line x1="150.20" y1="380.72" x2="152.80" y2="380.72" stroke="#2c4a8c" stroke-width="0.8" />
<line x1="150.20" y1="383.78" x2="152.80" y2="383.78" stroke="#2c4a8c" stroke-width="0.8" />
<line x1="165.00" y1="383.27" x2="165.00" y2="386.32" stroke="#2c4a8c" stroke-width="0.8" />
<line x1="163.70" y1="383.27" x2="166.30" y2="383.27" stroke="#2c4a8c" stroke-width="0.8" />
<line x1="163.70" y1="386.32" x2="166.30" y2="386.32" stroke="#2c4a8c" stroke-width="0.8" />
<path d="M124.30,375.91 L126.61,380.11 L121.99,380.11 Z" fill="#2c4a8c" />
<path d="M138.20,377.18 L140.51,381.38 L135.89,381.38 Z" fill="#2c4a8c" />
<path d="M151.50,379.73 L153.81,383.93 L149.19,383.93 Z" fill="#2c4a8c" />
<path d="M165.00,382.27 L167.31,386.47 L162.69,386.47 Z" fill="#2c4a8c" />
<polyline points="124.30,378.43 138.20,380.98 151.50,385.30 165.00,388.61" fill="none" stroke="#2c4a8c" stroke-width="1.15" stroke-dasharray="3 1.2 0.8 1.2"/>
<line x1="124.30" y1="377.41" x2="124.30" y2="379.45" stroke="#2c4a8c" stroke-width="0.8" />
<line x1="123.00" y1="377.41" x2="125.60" y2="377.41" stroke="#2c4a8c" stroke-width="0.8" />
<line x1="123.00" y1="379.45" x2="125.60" y2="379.45" stroke="#2c4a8c" stroke-width="0.8" />
<line x1="138.20" y1="379.70" x2="138.20" y2="382.25" stroke="#2c4a8c" stroke-width="0.8" />
<line x1="136.90" y1="379.70" x2="139.50" y2="379.70" stroke="#2c4a8c" stroke-width="0.8" />
<line x1="136.90" y1="382.25" x2="139.50" y2="382.25" stroke="#2c4a8c" stroke-width="0.8" />
<line x1="151.50" y1="384.03" x2="151.50" y2="386.58" stroke="#2c4a8c" stroke-width="0.8" />
<line x1="150.20" y1="384.03" x2="152.80" y2="384.03" stroke="#2c4a8c" stroke-width="0.8" />
<line x1="150.20" y1="386.58" x2="152.80" y2="386.58" stroke="#2c4a8c" stroke-width="0.8" />
<line x1="165.00" y1="387.34" x2="165.00" y2="389.89" stroke="#2c4a8c" stroke-width="0.8" />
<line x1="163.70" y1="387.34" x2="166.30" y2="387.34" stroke="#2c4a8c" stroke-width="0.8" />
<line x1="163.70" y1="389.89" x2="166.30" y2="389.89" stroke="#2c4a8c" stroke-width="0.8" />
<rect x="122.40" y="376.53" width="3.80" height="3.80" fill="#2c4a8c" />
<rect x="136.30" y="379.08" width="3.80" height="3.80" fill="#2c4a8c" />
<rect x="149.60" y="383.40" width="3.80" height="3.80" fill="#2c4a8c" />
<rect x="163.10" y="386.71" width="3.80" height="3.80" fill="#2c4a8c" />
<circle cx="168.85" cy="365.40" r="0.80" fill="#231f20" />
<circle cx="171.15" cy="365.40" r="0.80" fill="#231f20" />
<circle cx="168.70" cy="374.60" r="0.80" fill="#231f20" />
<circle cx="171.00" cy="374.60" r="0.80" fill="#231f20" />
<circle cx="173.30" cy="374.60" r="0.80" fill="#231f20" />
<circle cx="169.50" cy="384.60" r="0.80" fill="#231f20" />
<circle cx="168.85" cy="388.80" r="0.80" fill="#231f20" />
<circle cx="171.15" cy="388.80" r="0.80" fill="#231f20" />
<circle cx="168.70" cy="392.60" r="0.80" fill="#231f20" />
<circle cx="171.00" cy="392.60" r="0.80" fill="#231f20" />
<circle cx="173.30" cy="392.60" r="0.80" fill="#231f20" />
<line x1="195.40" y1="347.70" x2="195.40" y2="412.80" stroke="#231f20" stroke-width="1.3" />
<line x1="193.40" y1="412.80" x2="195.40" y2="412.80" stroke="#231f20" stroke-width="0.9" />
<text x="189.00" y="415.20" font-size="7.28" stroke="#231f20" stroke-width="0.04" text-anchor="end" textLength="3.30" lengthAdjust="spacingAndGlyphs">0</text>
<line x1="193.40" y1="391.60" x2="195.40" y2="391.60" stroke="#231f20" stroke-width="0.9" />
<text x="189.00" y="394.00" font-size="7.28" stroke="#231f20" stroke-width="0.04" text-anchor="end" textLength="3.30" lengthAdjust="spacingAndGlyphs">2</text>
<line x1="193.40" y1="370.40" x2="195.40" y2="370.40" stroke="#231f20" stroke-width="0.9" />
<text x="189.00" y="372.80" font-size="7.28" stroke="#231f20" stroke-width="0.04" text-anchor="end" textLength="3.30" lengthAdjust="spacingAndGlyphs">4</text>
<line x1="193.40" y1="349.20" x2="195.40" y2="349.20" stroke="#231f20" stroke-width="0.9" />
<text x="189.00" y="351.60" font-size="7.28" stroke="#231f20" stroke-width="0.04" text-anchor="end" textLength="3.30" lengthAdjust="spacingAndGlyphs">6</text>
<line x1="195.40" y1="412.80" x2="248.50" y2="412.80" stroke="#231f20" stroke-width="1.3" />
<line x1="202.30" y1="412.80" x2="202.30" y2="414.80" stroke="#231f20" stroke-width="0.9" />
<line x1="215.70" y1="412.80" x2="215.70" y2="414.80" stroke="#231f20" stroke-width="0.9" />
<line x1="229.20" y1="412.80" x2="229.20" y2="414.80" stroke="#231f20" stroke-width="0.9" />
<line x1="242.80" y1="412.80" x2="242.80" y2="414.80" stroke="#231f20" stroke-width="0.9" />
<text x="202.30" y="424.70" font-size="7.28" stroke="#231f20" stroke-width="0.04" text-anchor="middle">0</text>
<text x="215.70" y="424.70" font-size="7.28" stroke="#231f20" stroke-width="0.04" text-anchor="middle">3</text>
<text x="229.20" y="424.70" font-size="7.28" stroke="#231f20" stroke-width="0.04" text-anchor="middle">6</text>
<text x="242.80" y="424.70" font-size="7.28" stroke="#231f20" stroke-width="0.04" text-anchor="middle">8</text>
<text x="205.80" y="330.50" font-size="8.13" stroke="#231f20" stroke-width="0.04" textLength="30.80" lengthAdjust="spacingAndGlyphs">Platelets</text>
<text x="198.20" y="340.00" font-size="8.13" stroke="#231f20" stroke-width="0.04" textLength="15.70" lengthAdjust="spacingAndGlyphs">(x10</text>
<text x="214.80" y="337.50" font-size="6.31" stroke="#231f20" stroke-width="0.04" font-weight="500" textLength="4.90" lengthAdjust="spacingAndGlyphs">12</text>
<text x="222.80" y="340.00" font-size="8.13" stroke="#231f20" stroke-width="0.04" textLength="24.30" lengthAdjust="spacingAndGlyphs">cells/L)</text>
<polyline points="202.30,406.44 215.70,407.50 229.20,409.62 242.80,409.62" fill="none" stroke="#ad0f2e" stroke-width="1.49" />
<line x1="202.30" y1="405.38" x2="202.30" y2="407.50" stroke="#ad0f2e" stroke-width="0.8" />
<line x1="201.00" y1="405.38" x2="203.60" y2="405.38" stroke="#ad0f2e" stroke-width="0.8" />
<line x1="201.00" y1="407.50" x2="203.60" y2="407.50" stroke="#ad0f2e" stroke-width="0.8" />
<line x1="215.70" y1="406.44" x2="215.70" y2="408.56" stroke="#ad0f2e" stroke-width="0.8" />
<line x1="214.40" y1="406.44" x2="217.00" y2="406.44" stroke="#ad0f2e" stroke-width="0.8" />
<line x1="214.40" y1="408.56" x2="217.00" y2="408.56" stroke="#ad0f2e" stroke-width="0.8" />
<line x1="229.20" y1="408.56" x2="229.20" y2="410.68" stroke="#ad0f2e" stroke-width="0.8" />
<line x1="227.90" y1="408.56" x2="230.50" y2="408.56" stroke="#ad0f2e" stroke-width="0.8" />
<line x1="227.90" y1="410.68" x2="230.50" y2="410.68" stroke="#ad0f2e" stroke-width="0.8" />
<line x1="242.80" y1="408.56" x2="242.80" y2="410.68" stroke="#ad0f2e" stroke-width="0.8" />
<line x1="241.50" y1="408.56" x2="244.10" y2="408.56" stroke="#ad0f2e" stroke-width="0.8" />
<line x1="241.50" y1="410.68" x2="244.10" y2="410.68" stroke="#ad0f2e" stroke-width="0.8" />
<circle cx="202.30" cy="406.44" r="2.00" fill="#ad0f2e" />
<circle cx="215.70" cy="407.50" r="2.00" fill="#ad0f2e" />
<circle cx="229.20" cy="409.62" r="2.00" fill="#ad0f2e" />
<circle cx="242.80" cy="409.62" r="2.00" fill="#ad0f2e" />
<polyline points="202.30,405.38 215.70,406.44 229.20,407.50 242.80,408.56" fill="none" stroke="#ad0f2e" stroke-width="1.15" stroke-dasharray="0.8 1.2"/>
<line x1="202.30" y1="404.32" x2="202.30" y2="406.44" stroke="#ad0f2e" stroke-width="0.8" />
<line x1="201.00" y1="404.32" x2="203.60" y2="404.32" stroke="#ad0f2e" stroke-width="0.8" />
<line x1="201.00" y1="406.44" x2="203.60" y2="406.44" stroke="#ad0f2e" stroke-width="0.8" />
<line x1="215.70" y1="405.38" x2="215.70" y2="407.50" stroke="#ad0f2e" stroke-width="0.8" />
<line x1="214.40" y1="405.38" x2="217.00" y2="405.38" stroke="#ad0f2e" stroke-width="0.8" />
<line x1="214.40" y1="407.50" x2="217.00" y2="407.50" stroke="#ad0f2e" stroke-width="0.8" />
<line x1="229.20" y1="406.44" x2="229.20" y2="408.56" stroke="#ad0f2e" stroke-width="0.8" />
<line x1="227.90" y1="406.44" x2="230.50" y2="406.44" stroke="#ad0f2e" stroke-width="0.8" />
<line x1="227.90" y1="408.56" x2="230.50" y2="408.56" stroke="#ad0f2e" stroke-width="0.8" />
<line x1="242.80" y1="407.50" x2="242.80" y2="409.62" stroke="#ad0f2e" stroke-width="0.8" />
<line x1="241.50" y1="407.50" x2="244.10" y2="407.50" stroke="#ad0f2e" stroke-width="0.8" />
<line x1="241.50" y1="409.62" x2="244.10" y2="409.62" stroke="#ad0f2e" stroke-width="0.8" />
<circle cx="202.30" cy="405.38" r="1.90" fill="#ad0f2e" />
<circle cx="215.70" cy="406.44" r="1.90" fill="#ad0f2e" />
<circle cx="229.20" cy="407.50" r="1.90" fill="#ad0f2e" />
<circle cx="242.80" cy="408.56" r="1.90" fill="#ad0f2e" />
<polyline points="202.30,404.85 215.70,405.38 229.20,406.44 242.80,406.44" fill="none" stroke="#ad0f2e" stroke-width="1.15" stroke-dasharray="2.5 1.3"/>
<line x1="202.30" y1="403.79" x2="202.30" y2="405.91" stroke="#ad0f2e" stroke-width="0.8" />
<line x1="201.00" y1="403.79" x2="203.60" y2="403.79" stroke="#ad0f2e" stroke-width="0.8" />
<line x1="201.00" y1="405.91" x2="203.60" y2="405.91" stroke="#ad0f2e" stroke-width="0.8" />
<line x1="215.70" y1="404.32" x2="215.70" y2="406.44" stroke="#ad0f2e" stroke-width="0.8" />
<line x1="214.40" y1="404.32" x2="217.00" y2="404.32" stroke="#ad0f2e" stroke-width="0.8" />
<line x1="214.40" y1="406.44" x2="217.00" y2="406.44" stroke="#ad0f2e" stroke-width="0.8" />
<line x1="229.20" y1="405.38" x2="229.20" y2="407.50" stroke="#ad0f2e" stroke-width="0.8" />
<line x1="227.90" y1="405.38" x2="230.50" y2="405.38" stroke="#ad0f2e" stroke-width="0.8" />
<line x1="227.90" y1="407.50" x2="230.50" y2="407.50" stroke="#ad0f2e" stroke-width="0.8" />
<line x1="242.80" y1="405.38" x2="242.80" y2="407.50" stroke="#ad0f2e" stroke-width="0.8" />
<line x1="241.50" y1="405.38" x2="244.10" y2="405.38" stroke="#ad0f2e" stroke-width="0.8" />
<line x1="241.50" y1="407.50" x2="244.10" y2="407.50" stroke="#ad0f2e" stroke-width="0.8" />
<path d="M202.30,402.33 L204.61,406.53 L199.99,406.53 Z" fill="#ad0f2e" />
<path d="M215.70,402.86 L218.01,407.06 L213.39,407.06 Z" fill="#ad0f2e" />
<path d="M229.20,403.92 L231.51,408.12 L226.89,408.12 Z" fill="#ad0f2e" />
<path d="M242.80,403.92 L245.11,408.12 L240.49,408.12 Z" fill="#ad0f2e" />
<polyline points="202.30,404.32 215.70,404.32 229.20,404.85 242.80,403.26" fill="none" stroke="#ad0f2e" stroke-width="1.15" stroke-dasharray="3 1.2 0.8 1.2"/>
<line x1="202.30" y1="403.26" x2="202.30" y2="405.38" stroke="#ad0f2e" stroke-width="0.8" />
<line x1="201.00" y1="403.26" x2="203.60" y2="403.26" stroke="#ad0f2e" stroke-width="0.8" />
<line x1="201.00" y1="405.38" x2="203.60" y2="405.38" stroke="#ad0f2e" stroke-width="0.8" />
<line x1="215.70" y1="403.26" x2="215.70" y2="405.38" stroke="#ad0f2e" stroke-width="0.8" />
<line x1="214.40" y1="403.26" x2="217.00" y2="403.26" stroke="#ad0f2e" stroke-width="0.8" />
<line x1="214.40" y1="405.38" x2="217.00" y2="405.38" stroke="#ad0f2e" stroke-width="0.8" />
<line x1="229.20" y1="403.79" x2="229.20" y2="405.91" stroke="#ad0f2e" stroke-width="0.8" />
<line x1="227.90" y1="403.79" x2="230.50" y2="403.79" stroke="#ad0f2e" stroke-width="0.8" />
<line x1="227.90" y1="405.91" x2="230.50" y2="405.91" stroke="#ad0f2e" stroke-width="0.8" />
<line x1="242.80" y1="402.20" x2="242.80" y2="404.32" stroke="#ad0f2e" stroke-width="0.8" />
<line x1="241.50" y1="402.20" x2="244.10" y2="402.20" stroke="#ad0f2e" stroke-width="0.8" />
<line x1="241.50" y1="404.32" x2="244.10" y2="404.32" stroke="#ad0f2e" stroke-width="0.8" />
<rect x="200.40" y="402.42" width="3.80" height="3.80" fill="#ad0f2e" />
<rect x="213.80" y="402.42" width="3.80" height="3.80" fill="#ad0f2e" />
<rect x="227.30" y="402.95" width="3.80" height="3.80" fill="#ad0f2e" />
<rect x="240.90" y="401.36" width="3.80" height="3.80" fill="#ad0f2e" />
<polyline points="202.30,397.96 215.70,390.54 229.20,388.95 242.80,387.36" fill="none" stroke="#2c4a8c" stroke-width="1.49" />
<line x1="202.30" y1="396.90" x2="202.30" y2="399.02" stroke="#2c4a8c" stroke-width="0.8" />
<line x1="201.00" y1="396.90" x2="203.60" y2="396.90" stroke="#2c4a8c" stroke-width="0.8" />
<line x1="201.00" y1="399.02" x2="203.60" y2="399.02" stroke="#2c4a8c" stroke-width="0.8" />
<line x1="215.70" y1="387.36" x2="215.70" y2="393.72" stroke="#2c4a8c" stroke-width="0.8" />
<line x1="214.40" y1="387.36" x2="217.00" y2="387.36" stroke="#2c4a8c" stroke-width="0.8" />
<line x1="214.40" y1="393.72" x2="217.00" y2="393.72" stroke="#2c4a8c" stroke-width="0.8" />
<line x1="229.20" y1="384.71" x2="229.20" y2="393.19" stroke="#2c4a8c" stroke-width="0.8" />
<line x1="227.90" y1="384.71" x2="230.50" y2="384.71" stroke="#2c4a8c" stroke-width="0.8" />
<line x1="227.90" y1="393.19" x2="230.50" y2="393.19" stroke="#2c4a8c" stroke-width="0.8" />
<line x1="242.80" y1="384.18" x2="242.80" y2="390.54" stroke="#2c4a8c" stroke-width="0.8" />
<line x1="241.50" y1="384.18" x2="244.10" y2="384.18" stroke="#2c4a8c" stroke-width="0.8" />
<line x1="241.50" y1="390.54" x2="244.10" y2="390.54" stroke="#2c4a8c" stroke-width="0.8" />
<circle cx="202.30" cy="397.96" r="2.00" fill="#2c4a8c" />
<circle cx="215.70" cy="390.54" r="2.00" fill="#2c4a8c" />
<circle cx="229.20" cy="388.95" r="2.00" fill="#2c4a8c" />
<circle cx="242.80" cy="387.36" r="2.00" fill="#2c4a8c" />
<polyline points="202.30,397.96 215.70,389.48 229.20,388.42 242.80,383.12" fill="none" stroke="#2c4a8c" stroke-width="1.15" stroke-dasharray="0.8 1.2"/>
<line x1="202.30" y1="396.90" x2="202.30" y2="399.02" stroke="#2c4a8c" stroke-width="0.8" />
<line x1="201.00" y1="396.90" x2="203.60" y2="396.90" stroke="#2c4a8c" stroke-width="0.8" />
<line x1="201.00" y1="399.02" x2="203.60" y2="399.02" stroke="#2c4a8c" stroke-width="0.8" />
<line x1="215.70" y1="386.30" x2="215.70" y2="392.66" stroke="#2c4a8c" stroke-width="0.8" />
<line x1="214.40" y1="386.30" x2="217.00" y2="386.30" stroke="#2c4a8c" stroke-width="0.8" />
<line x1="214.40" y1="392.66" x2="217.00" y2="392.66" stroke="#2c4a8c" stroke-width="0.8" />
<line x1="229.20" y1="385.24" x2="229.20" y2="391.60" stroke="#2c4a8c" stroke-width="0.8" />
<line x1="227.90" y1="385.24" x2="230.50" y2="385.24" stroke="#2c4a8c" stroke-width="0.8" />
<line x1="227.90" y1="391.60" x2="230.50" y2="391.60" stroke="#2c4a8c" stroke-width="0.8" />
<line x1="242.80" y1="379.94" x2="242.80" y2="386.30" stroke="#2c4a8c" stroke-width="0.8" />
<line x1="241.50" y1="379.94" x2="244.10" y2="379.94" stroke="#2c4a8c" stroke-width="0.8" />
<line x1="241.50" y1="386.30" x2="244.10" y2="386.30" stroke="#2c4a8c" stroke-width="0.8" />
<circle cx="202.30" cy="397.96" r="1.90" fill="#2c4a8c" />
<circle cx="215.70" cy="389.48" r="1.90" fill="#2c4a8c" />
<circle cx="229.20" cy="388.42" r="1.90" fill="#2c4a8c" />
<circle cx="242.80" cy="383.12" r="1.90" fill="#2c4a8c" />
<polyline points="202.30,397.96 215.70,389.48 229.20,384.18 242.80,379.94" fill="none" stroke="#2c4a8c" stroke-width="1.15" stroke-dasharray="2.5 1.3"/>
<line x1="202.30" y1="396.90" x2="202.30" y2="399.02" stroke="#2c4a8c" stroke-width="0.8" />
<line x1="201.00" y1="396.90" x2="203.60" y2="396.90" stroke="#2c4a8c" stroke-width="0.8" />
<line x1="201.00" y1="399.02" x2="203.60" y2="399.02" stroke="#2c4a8c" stroke-width="0.8" />
<line x1="215.70" y1="386.30" x2="215.70" y2="392.66" stroke="#2c4a8c" stroke-width="0.8" />
<line x1="214.40" y1="386.30" x2="217.00" y2="386.30" stroke="#2c4a8c" stroke-width="0.8" />
<line x1="214.40" y1="392.66" x2="217.00" y2="392.66" stroke="#2c4a8c" stroke-width="0.8" />
<line x1="229.20" y1="379.94" x2="229.20" y2="388.42" stroke="#2c4a8c" stroke-width="0.8" />
<line x1="227.90" y1="379.94" x2="230.50" y2="379.94" stroke="#2c4a8c" stroke-width="0.8" />
<line x1="227.90" y1="388.42" x2="230.50" y2="388.42" stroke="#2c4a8c" stroke-width="0.8" />
<line x1="242.80" y1="374.64" x2="242.80" y2="385.24" stroke="#2c4a8c" stroke-width="0.8" />
<line x1="241.50" y1="374.64" x2="244.10" y2="374.64" stroke="#2c4a8c" stroke-width="0.8" />
<line x1="241.50" y1="385.24" x2="244.10" y2="385.24" stroke="#2c4a8c" stroke-width="0.8" />
<path d="M202.30,395.44 L204.61,399.64 L199.99,399.64 Z" fill="#2c4a8c" />
<path d="M215.70,386.96 L218.01,391.16 L213.39,391.16 Z" fill="#2c4a8c" />
<path d="M229.20,381.66 L231.51,385.86 L226.89,385.86 Z" fill="#2c4a8c" />
<path d="M242.80,377.42 L245.11,381.62 L240.49,381.62 Z" fill="#2c4a8c" />
<polyline points="202.30,397.96 215.70,381.00 229.20,377.82 242.80,367.75" fill="none" stroke="#2c4a8c" stroke-width="1.15" stroke-dasharray="3 1.2 0.8 1.2"/>
<line x1="202.30" y1="396.90" x2="202.30" y2="399.02" stroke="#2c4a8c" stroke-width="0.8" />
<line x1="201.00" y1="396.90" x2="203.60" y2="396.90" stroke="#2c4a8c" stroke-width="0.8" />
<line x1="201.00" y1="399.02" x2="203.60" y2="399.02" stroke="#2c4a8c" stroke-width="0.8" />
<line x1="215.70" y1="376.76" x2="215.70" y2="385.24" stroke="#2c4a8c" stroke-width="0.8" />
<line x1="214.40" y1="376.76" x2="217.00" y2="376.76" stroke="#2c4a8c" stroke-width="0.8" />
<line x1="214.40" y1="385.24" x2="217.00" y2="385.24" stroke="#2c4a8c" stroke-width="0.8" />
<line x1="229.20" y1="373.58" x2="229.20" y2="382.06" stroke="#2c4a8c" stroke-width="0.8" />
<line x1="227.90" y1="373.58" x2="230.50" y2="373.58" stroke="#2c4a8c" stroke-width="0.8" />
<line x1="227.90" y1="382.06" x2="230.50" y2="382.06" stroke="#2c4a8c" stroke-width="0.8" />
<line x1="242.80" y1="360.33" x2="242.80" y2="375.17" stroke="#2c4a8c" stroke-width="0.8" />
<line x1="241.50" y1="360.33" x2="244.10" y2="360.33" stroke="#2c4a8c" stroke-width="0.8" />
<line x1="241.50" y1="375.17" x2="244.10" y2="375.17" stroke="#2c4a8c" stroke-width="0.8" />
<rect x="200.40" y="396.06" width="3.80" height="3.80" fill="#2c4a8c" />
<rect x="213.80" y="379.10" width="3.80" height="3.80" fill="#2c4a8c" />
<rect x="227.30" y="375.92" width="3.80" height="3.80" fill="#2c4a8c" />
<rect x="240.90" y="365.85" width="3.80" height="3.80" fill="#2c4a8c" />
<circle cx="245.85" cy="370.00" r="0.80" fill="#231f20" />
<circle cx="248.15" cy="370.00" r="0.80" fill="#231f20" />
<circle cx="246.00" cy="380.80" r="0.80" fill="#231f20" />
<circle cx="246.00" cy="404.60" r="0.80" fill="#231f20" />
<line x1="271.20" y1="347.00" x2="271.20" y2="412.80" stroke="#231f20" stroke-width="1.3" />
<line x1="269.20" y1="412.80" x2="271.20" y2="412.80" stroke="#231f20" stroke-width="0.9" />
<text x="265.00" y="415.20" font-size="7.28" stroke="#231f20" stroke-width="0.04" text-anchor="end" textLength="3.30" lengthAdjust="spacingAndGlyphs">0</text>
<line x1="269.20" y1="391.60" x2="271.20" y2="391.60" stroke="#231f20" stroke-width="0.9" />
<text x="265.00" y="394.00" font-size="7.28" stroke="#231f20" stroke-width="0.04" text-anchor="end" textLength="3.30" lengthAdjust="spacingAndGlyphs">1</text>
<line x1="269.20" y1="370.40" x2="271.20" y2="370.40" stroke="#231f20" stroke-width="0.9" />
<text x="265.00" y="372.80" font-size="7.28" stroke="#231f20" stroke-width="0.04" text-anchor="end" textLength="3.30" lengthAdjust="spacingAndGlyphs">2</text>
<line x1="269.20" y1="349.20" x2="271.20" y2="349.20" stroke="#231f20" stroke-width="0.9" />
<text x="265.00" y="351.60" font-size="7.28" stroke="#231f20" stroke-width="0.04" text-anchor="end" textLength="3.30" lengthAdjust="spacingAndGlyphs">3</text>
<line x1="271.20" y1="412.80" x2="325.00" y2="412.80" stroke="#231f20" stroke-width="1.3" />
<line x1="278.00" y1="412.80" x2="278.00" y2="414.80" stroke="#231f20" stroke-width="0.9" />
<line x1="291.50" y1="412.80" x2="291.50" y2="414.80" stroke="#231f20" stroke-width="0.9" />
<line x1="304.70" y1="412.80" x2="304.70" y2="414.80" stroke="#231f20" stroke-width="0.9" />
<line x1="318.40" y1="412.80" x2="318.40" y2="414.80" stroke="#231f20" stroke-width="0.9" />
<text x="278.00" y="424.70" font-size="7.28" stroke="#231f20" stroke-width="0.04" text-anchor="middle">0</text>
<text x="291.50" y="424.70" font-size="7.28" stroke="#231f20" stroke-width="0.04" text-anchor="middle">3</text>
<text x="304.70" y="424.70" font-size="7.28" stroke="#231f20" stroke-width="0.04" text-anchor="middle">6</text>
<text x="318.40" y="424.70" font-size="7.28" stroke="#231f20" stroke-width="0.04" text-anchor="middle">8</text>
<text x="277.30" y="330.50" font-size="8.13" stroke="#231f20" stroke-width="0.04" textLength="41.50" lengthAdjust="spacingAndGlyphs">Neutrophils</text>
<text x="275.30" y="340.00" font-size="8.13" stroke="#231f20" stroke-width="0.04" textLength="15.70" lengthAdjust="spacingAndGlyphs">(x10</text>
<text x="291.90" y="337.50" font-size="6.31" stroke="#231f20" stroke-width="0.04" font-weight="500" textLength="2.70" lengthAdjust="spacingAndGlyphs">9</text>
<text x="297.70" y="340.00" font-size="8.13" stroke="#231f20" stroke-width="0.04" textLength="24.30" lengthAdjust="spacingAndGlyphs">cells/L)</text>
<polyline points="278.00,403.26 291.50,394.78 304.70,410.68 318.40,410.68" fill="none" stroke="#ad0f2e" stroke-width="1.49" />
<line x1="278.00" y1="402.20" x2="278.00" y2="404.32" stroke="#ad0f2e" stroke-width="0.8" />
<line x1="276.70" y1="402.20" x2="279.30" y2="402.20" stroke="#ad0f2e" stroke-width="0.8" />
<line x1="276.70" y1="404.32" x2="279.30" y2="404.32" stroke="#ad0f2e" stroke-width="0.8" />
<line x1="291.50" y1="392.66" x2="291.50" y2="396.90" stroke="#ad0f2e" stroke-width="0.8" />
<line x1="290.20" y1="392.66" x2="292.80" y2="392.66" stroke="#ad0f2e" stroke-width="0.8" />
<line x1="290.20" y1="396.90" x2="292.80" y2="396.90" stroke="#ad0f2e" stroke-width="0.8" />
<line x1="304.70" y1="410.04" x2="304.70" y2="411.32" stroke="#ad0f2e" stroke-width="0.8" />
<line x1="303.40" y1="410.04" x2="306.00" y2="410.04" stroke="#ad0f2e" stroke-width="0.8" />
<line x1="303.40" y1="411.32" x2="306.00" y2="411.32" stroke="#ad0f2e" stroke-width="0.8" />
<line x1="318.40" y1="410.04" x2="318.40" y2="411.32" stroke="#ad0f2e" stroke-width="0.8" />
<line x1="317.10" y1="410.04" x2="319.70" y2="410.04" stroke="#ad0f2e" stroke-width="0.8" />
<line x1="317.10" y1="411.32" x2="319.70" y2="411.32" stroke="#ad0f2e" stroke-width="0.8" />
<circle cx="278.00" cy="403.26" r="1.84" fill="#fff" stroke="#ad0f2e" stroke-width="1.10"/>
<circle cx="291.50" cy="394.78" r="1.84" fill="#fff" stroke="#ad0f2e" stroke-width="1.10"/>
<circle cx="304.70" cy="410.68" r="1.84" fill="#fff" stroke="#ad0f2e" stroke-width="1.10"/>
<circle cx="318.40" cy="410.68" r="1.84" fill="#fff" stroke="#ad0f2e" stroke-width="1.10"/>
<polyline points="278.00,392.66 291.50,393.72 304.70,409.62 318.40,409.62" fill="none" stroke="#ad0f2e" stroke-width="1.15" stroke-dasharray="0.8 1.2"/>
<line x1="278.00" y1="390.54" x2="278.00" y2="394.78" stroke="#ad0f2e" stroke-width="0.8" />
<line x1="276.70" y1="390.54" x2="279.30" y2="390.54" stroke="#ad0f2e" stroke-width="0.8" />
<line x1="276.70" y1="394.78" x2="279.30" y2="394.78" stroke="#ad0f2e" stroke-width="0.8" />
<line x1="291.50" y1="389.48" x2="291.50" y2="397.96" stroke="#ad0f2e" stroke-width="0.8" />
<line x1="290.20" y1="389.48" x2="292.80" y2="389.48" stroke="#ad0f2e" stroke-width="0.8" />
<line x1="290.20" y1="397.96" x2="292.80" y2="397.96" stroke="#ad0f2e" stroke-width="0.8" />
<line x1="304.70" y1="408.56" x2="304.70" y2="410.68" stroke="#ad0f2e" stroke-width="0.8" />
<line x1="303.40" y1="408.56" x2="306.00" y2="408.56" stroke="#ad0f2e" stroke-width="0.8" />
<line x1="303.40" y1="410.68" x2="306.00" y2="410.68" stroke="#ad0f2e" stroke-width="0.8" />
<line x1="318.40" y1="408.56" x2="318.40" y2="410.68" stroke="#ad0f2e" stroke-width="0.8" />
<line x1="317.10" y1="408.56" x2="319.70" y2="408.56" stroke="#ad0f2e" stroke-width="0.8" />
<line x1="317.10" y1="410.68" x2="319.70" y2="410.68" stroke="#ad0f2e" stroke-width="0.8" />
<circle cx="278.00" cy="392.66" r="1.90" fill="#ad0f2e" />
<circle cx="291.50" cy="393.72" r="1.90" fill="#ad0f2e" />
<circle cx="304.70" cy="409.62" r="1.90" fill="#ad0f2e" />
<circle cx="318.40" cy="409.62" r="1.90" fill="#ad0f2e" />
<polyline points="278.00,391.60 291.50,394.78 304.70,410.68 318.40,410.68" fill="none" stroke="#ad0f2e" stroke-width="1.15" stroke-dasharray="2.5 1.3"/>
<line x1="278.00" y1="389.48" x2="278.00" y2="393.72" stroke="#ad0f2e" stroke-width="0.8" />
<line x1="276.70" y1="389.48" x2="279.30" y2="389.48" stroke="#ad0f2e" stroke-width="0.8" />
<line x1="276.70" y1="393.72" x2="279.30" y2="393.72" stroke="#ad0f2e" stroke-width="0.8" />
<line x1="291.50" y1="390.54" x2="291.50" y2="399.02" stroke="#ad0f2e" stroke-width="0.8" />
<line x1="290.20" y1="390.54" x2="292.80" y2="390.54" stroke="#ad0f2e" stroke-width="0.8" />
<line x1="290.20" y1="399.02" x2="292.80" y2="399.02" stroke="#ad0f2e" stroke-width="0.8" />
<line x1="304.70" y1="409.62" x2="304.70" y2="411.74" stroke="#ad0f2e" stroke-width="0.8" />
<line x1="303.40" y1="409.62" x2="306.00" y2="409.62" stroke="#ad0f2e" stroke-width="0.8" />
<line x1="303.40" y1="411.74" x2="306.00" y2="411.74" stroke="#ad0f2e" stroke-width="0.8" />
<line x1="318.40" y1="409.62" x2="318.40" y2="411.74" stroke="#ad0f2e" stroke-width="0.8" />
<line x1="317.10" y1="409.62" x2="319.70" y2="409.62" stroke="#ad0f2e" stroke-width="0.8" />
<line x1="317.10" y1="411.74" x2="319.70" y2="411.74" stroke="#ad0f2e" stroke-width="0.8" />
<path d="M278.00,389.08 L280.31,393.28 L275.69,393.28 Z" fill="#ad0f2e" />
<path d="M291.50,392.26 L293.81,396.46 L289.19,396.46 Z" fill="#ad0f2e" />
<path d="M304.70,408.16 L307.01,412.36 L302.39,412.36 Z" fill="#ad0f2e" />
<path d="M318.40,408.16 L320.71,412.36 L316.09,412.36 Z" fill="#ad0f2e" />
<polyline points="278.00,391.60 291.50,385.24 304.70,410.68 318.40,409.62" fill="none" stroke="#ad0f2e" stroke-width="1.15" stroke-dasharray="3 1.2 0.8 1.2"/>
<line x1="278.00" y1="389.48" x2="278.00" y2="393.72" stroke="#ad0f2e" stroke-width="0.8" />
<line x1="276.70" y1="389.48" x2="279.30" y2="389.48" stroke="#ad0f2e" stroke-width="0.8" />
<line x1="276.70" y1="393.72" x2="279.30" y2="393.72" stroke="#ad0f2e" stroke-width="0.8" />
<line x1="291.50" y1="381.00" x2="291.50" y2="389.48" stroke="#ad0f2e" stroke-width="0.8" />
<line x1="290.20" y1="381.00" x2="292.80" y2="381.00" stroke="#ad0f2e" stroke-width="0.8" />
<line x1="290.20" y1="389.48" x2="292.80" y2="389.48" stroke="#ad0f2e" stroke-width="0.8" />
<line x1="304.70" y1="409.62" x2="304.70" y2="411.74" stroke="#ad0f2e" stroke-width="0.8" />
<line x1="303.40" y1="409.62" x2="306.00" y2="409.62" stroke="#ad0f2e" stroke-width="0.8" />
<line x1="303.40" y1="411.74" x2="306.00" y2="411.74" stroke="#ad0f2e" stroke-width="0.8" />
<line x1="318.40" y1="408.56" x2="318.40" y2="410.68" stroke="#ad0f2e" stroke-width="0.8" />
<line x1="317.10" y1="408.56" x2="319.70" y2="408.56" stroke="#ad0f2e" stroke-width="0.8" />
<line x1="317.10" y1="410.68" x2="319.70" y2="410.68" stroke="#ad0f2e" stroke-width="0.8" />
<rect x="276.10" y="389.70" width="3.80" height="3.80" fill="#ad0f2e" />
<rect x="289.60" y="383.34" width="3.80" height="3.80" fill="#ad0f2e" />
<rect x="302.80" y="408.78" width="3.80" height="3.80" fill="#ad0f2e" />
<rect x="316.50" y="407.72" width="3.80" height="3.80" fill="#ad0f2e" />
<polyline points="278.00,384.18 291.50,385.24 304.70,391.60 318.40,390.54" fill="none" stroke="#2c4a8c" stroke-width="1.49" />
<line x1="278.00" y1="379.94" x2="278.00" y2="388.42" stroke="#2c4a8c" stroke-width="0.8" />
<line x1="276.70" y1="379.94" x2="279.30" y2="379.94" stroke="#2c4a8c" stroke-width="0.8" />
<line x1="276.70" y1="388.42" x2="279.30" y2="388.42" stroke="#2c4a8c" stroke-width="0.8" />
<line x1="291.50" y1="381.00" x2="291.50" y2="389.48" stroke="#2c4a8c" stroke-width="0.8" />
<line x1="290.20" y1="381.00" x2="292.80" y2="381.00" stroke="#2c4a8c" stroke-width="0.8" />
<line x1="290.20" y1="389.48" x2="292.80" y2="389.48" stroke="#2c4a8c" stroke-width="0.8" />
<line x1="304.70" y1="388.42" x2="304.70" y2="394.78" stroke="#2c4a8c" stroke-width="0.8" />
<line x1="303.40" y1="388.42" x2="306.00" y2="388.42" stroke="#2c4a8c" stroke-width="0.8" />
<line x1="303.40" y1="394.78" x2="306.00" y2="394.78" stroke="#2c4a8c" stroke-width="0.8" />
<line x1="318.40" y1="382.06" x2="318.40" y2="399.02" stroke="#2c4a8c" stroke-width="0.8" />
<line x1="317.10" y1="382.06" x2="319.70" y2="382.06" stroke="#2c4a8c" stroke-width="0.8" />
<line x1="317.10" y1="399.02" x2="319.70" y2="399.02" stroke="#2c4a8c" stroke-width="0.8" />
<circle cx="278.00" cy="384.18" r="1.84" fill="#fff" stroke="#2c4a8c" stroke-width="1.10"/>
<circle cx="291.50" cy="385.24" r="1.84" fill="#fff" stroke="#2c4a8c" stroke-width="1.10"/>
<circle cx="304.70" cy="391.60" r="1.84" fill="#fff" stroke="#2c4a8c" stroke-width="1.10"/>
<circle cx="318.40" cy="390.54" r="1.84" fill="#fff" stroke="#2c4a8c" stroke-width="1.10"/>
<polyline points="278.00,392.66 291.50,391.60 304.70,406.44 318.40,408.56" fill="none" stroke="#2c4a8c" stroke-width="1.15" stroke-dasharray="0.8 1.2"/>
<line x1="278.00" y1="388.42" x2="278.00" y2="396.90" stroke="#2c4a8c" stroke-width="0.8" />
<line x1="276.70" y1="388.42" x2="279.30" y2="388.42" stroke="#2c4a8c" stroke-width="0.8" />
<line x1="276.70" y1="396.90" x2="279.30" y2="396.90" stroke="#2c4a8c" stroke-width="0.8" />
<line x1="291.50" y1="387.36" x2="291.50" y2="395.84" stroke="#2c4a8c" stroke-width="0.8" />
<line x1="290.20" y1="387.36" x2="292.80" y2="387.36" stroke="#2c4a8c" stroke-width="0.8" />
<line x1="290.20" y1="395.84" x2="292.80" y2="395.84" stroke="#2c4a8c" stroke-width="0.8" />
<line x1="304.70" y1="404.32" x2="304.70" y2="408.56" stroke="#2c4a8c" stroke-width="0.8" />
<line x1="303.40" y1="404.32" x2="306.00" y2="404.32" stroke="#2c4a8c" stroke-width="0.8" />
<line x1="303.40" y1="408.56" x2="306.00" y2="408.56" stroke="#2c4a8c" stroke-width="0.8" />
<line x1="318.40" y1="406.44" x2="318.40" y2="410.68" stroke="#2c4a8c" stroke-width="0.8" />
<line x1="317.10" y1="406.44" x2="319.70" y2="406.44" stroke="#2c4a8c" stroke-width="0.8" />
<line x1="317.10" y1="410.68" x2="319.70" y2="410.68" stroke="#2c4a8c" stroke-width="0.8" />
<circle cx="278.00" cy="392.66" r="1.90" fill="#2c4a8c" />
<circle cx="291.50" cy="391.60" r="1.90" fill="#2c4a8c" />
<circle cx="304.70" cy="406.44" r="1.90" fill="#2c4a8c" />
<circle cx="318.40" cy="408.56" r="1.90" fill="#2c4a8c" />
<polyline points="278.00,386.30 291.50,368.28 304.70,406.44 318.40,408.56" fill="none" stroke="#2c4a8c" stroke-width="1.15" stroke-dasharray="2.5 1.3"/>
<line x1="278.00" y1="379.94" x2="278.00" y2="392.66" stroke="#2c4a8c" stroke-width="0.8" />
<line x1="276.70" y1="379.94" x2="279.30" y2="379.94" stroke="#2c4a8c" stroke-width="0.8" />
<line x1="276.70" y1="392.66" x2="279.30" y2="392.66" stroke="#2c4a8c" stroke-width="0.8" />
<line x1="291.50" y1="352.38" x2="291.50" y2="384.18" stroke="#2c4a8c" stroke-width="0.8" />
<line x1="290.20" y1="352.38" x2="292.80" y2="352.38" stroke="#2c4a8c" stroke-width="0.8" />
<line x1="290.20" y1="384.18" x2="292.80" y2="384.18" stroke="#2c4a8c" stroke-width="0.8" />
<line x1="304.70" y1="404.32" x2="304.70" y2="408.56" stroke="#2c4a8c" stroke-width="0.8" />
<line x1="303.40" y1="404.32" x2="306.00" y2="404.32" stroke="#2c4a8c" stroke-width="0.8" />
<line x1="303.40" y1="408.56" x2="306.00" y2="408.56" stroke="#2c4a8c" stroke-width="0.8" />
<line x1="318.40" y1="406.44" x2="318.40" y2="410.68" stroke="#2c4a8c" stroke-width="0.8" />
<line x1="317.10" y1="406.44" x2="319.70" y2="406.44" stroke="#2c4a8c" stroke-width="0.8" />
<line x1="317.10" y1="410.68" x2="319.70" y2="410.68" stroke="#2c4a8c" stroke-width="0.8" />
<path d="M278.00,383.78 L280.31,387.98 L275.69,387.98 Z" fill="#2c4a8c" />
<path d="M291.50,365.76 L293.81,369.96 L289.19,369.96 Z" fill="#2c4a8c" />
<path d="M304.70,403.92 L307.01,408.12 L302.39,408.12 Z" fill="#2c4a8c" />
<path d="M318.40,406.04 L320.71,410.24 L316.09,410.24 Z" fill="#2c4a8c" />
<polyline points="278.00,387.36 291.50,378.88 304.70,404.32 318.40,401.14" fill="none" stroke="#2c4a8c" stroke-width="1.15" stroke-dasharray="3 1.2 0.8 1.2"/>
<line x1="278.00" y1="381.00" x2="278.00" y2="393.72" stroke="#2c4a8c" stroke-width="0.8" />
<line x1="276.70" y1="381.00" x2="279.30" y2="381.00" stroke="#2c4a8c" stroke-width="0.8" />
<line x1="276.70" y1="393.72" x2="279.30" y2="393.72" stroke="#2c4a8c" stroke-width="0.8" />
<line x1="291.50" y1="372.52" x2="291.50" y2="385.24" stroke="#2c4a8c" stroke-width="0.8" />
<line x1="290.20" y1="372.52" x2="292.80" y2="372.52" stroke="#2c4a8c" stroke-width="0.8" />
<line x1="290.20" y1="385.24" x2="292.80" y2="385.24" stroke="#2c4a8c" stroke-width="0.8" />
<line x1="304.70" y1="402.20" x2="304.70" y2="406.44" stroke="#2c4a8c" stroke-width="0.8" />
<line x1="303.40" y1="402.20" x2="306.00" y2="402.20" stroke="#2c4a8c" stroke-width="0.8" />
<line x1="303.40" y1="406.44" x2="306.00" y2="406.44" stroke="#2c4a8c" stroke-width="0.8" />
<line x1="318.40" y1="397.96" x2="318.40" y2="404.32" stroke="#2c4a8c" stroke-width="0.8" />
<line x1="317.10" y1="397.96" x2="319.70" y2="397.96" stroke="#2c4a8c" stroke-width="0.8" />
<line x1="317.10" y1="404.32" x2="319.70" y2="404.32" stroke="#2c4a8c" stroke-width="0.8" />
<rect x="276.10" y="385.46" width="3.80" height="3.80" fill="#2c4a8c" />
<rect x="289.60" y="376.98" width="3.80" height="3.80" fill="#2c4a8c" />
<rect x="302.80" y="402.42" width="3.80" height="3.80" fill="#2c4a8c" />
<rect x="316.50" y="399.24" width="3.80" height="3.80" fill="#2c4a8c" />
<line x1="23.40" y1="460.20" x2="23.40" y2="513.10" stroke="#231f20" stroke-width="1.3" />
<line x1="21.40" y1="513.10" x2="23.40" y2="513.10" stroke="#231f20" stroke-width="0.9" />
<text x="17.60" y="515.50" font-size="7.28" stroke="#231f20" stroke-width="0.04" text-anchor="end" textLength="9.90" lengthAdjust="spacingAndGlyphs">0.0</text>
<line x1="21.40" y1="500.23" x2="23.40" y2="500.23" stroke="#231f20" stroke-width="0.9" />
<text x="17.60" y="502.62" font-size="7.28" stroke="#231f20" stroke-width="0.04" text-anchor="end" textLength="9.90" lengthAdjust="spacingAndGlyphs">0.5</text>
<line x1="21.40" y1="487.35" x2="23.40" y2="487.35" stroke="#231f20" stroke-width="0.9" />
<text x="17.60" y="489.75" font-size="7.28" stroke="#231f20" stroke-width="0.04" text-anchor="end" textLength="9.90" lengthAdjust="spacingAndGlyphs">1.0</text>
<line x1="21.40" y1="474.48" x2="23.40" y2="474.48" stroke="#231f20" stroke-width="0.9" />
<text x="17.60" y="476.88" font-size="7.28" stroke="#231f20" stroke-width="0.04" text-anchor="end" textLength="9.90" lengthAdjust="spacingAndGlyphs">1.5</text>
<line x1="21.40" y1="461.60" x2="23.40" y2="461.60" stroke="#231f20" stroke-width="0.9" />
<text x="17.60" y="464.00" font-size="7.28" stroke="#231f20" stroke-width="0.04" text-anchor="end" textLength="9.90" lengthAdjust="spacingAndGlyphs">2.0</text>
<line x1="23.40" y1="513.10" x2="77.00" y2="513.10" stroke="#231f20" stroke-width="1.3" />
<line x1="30.30" y1="513.10" x2="30.30" y2="515.10" stroke="#231f20" stroke-width="0.9" />
<line x1="43.60" y1="513.10" x2="43.60" y2="515.10" stroke="#231f20" stroke-width="0.9" />
<line x1="57.10" y1="513.10" x2="57.10" y2="515.10" stroke="#231f20" stroke-width="0.9" />
<line x1="70.60" y1="513.10" x2="70.60" y2="515.10" stroke="#231f20" stroke-width="0.9" />
<text x="30.30" y="524.60" font-size="7.28" stroke="#231f20" stroke-width="0.04" text-anchor="middle">0</text>
<text x="43.60" y="524.60" font-size="7.28" stroke="#231f20" stroke-width="0.04" text-anchor="middle">3</text>
<text x="57.10" y="524.60" font-size="7.28" stroke="#231f20" stroke-width="0.04" text-anchor="middle">6</text>
<text x="70.60" y="524.60" font-size="7.28" stroke="#231f20" stroke-width="0.04" text-anchor="middle">8</text>
<text x="26.80" y="443.70" font-size="8.13" stroke="#231f20" stroke-width="0.04" textLength="47.30" lengthAdjust="spacingAndGlyphs">Reticulocytes</text>
<text x="26.00" y="452.90" font-size="8.13" stroke="#231f20" stroke-width="0.04" textLength="15.70" lengthAdjust="spacingAndGlyphs">(x10</text>
<text x="42.60" y="450.40" font-size="6.31" stroke="#231f20" stroke-width="0.04" font-weight="500" textLength="4.90" lengthAdjust="spacingAndGlyphs">12</text>
<text x="50.60" y="452.90" font-size="8.13" stroke="#231f20" stroke-width="0.04" textLength="24.30" lengthAdjust="spacingAndGlyphs">cells/L)</text>
<text x="9.80" y="537.80" font-size="9.42" stroke="#231f20" stroke-width="0.04" textLength="81.90" lengthAdjust="spacingAndGlyphs">Weeks on drug treatment</text>
<polyline points="30.30,471.90 43.60,469.33 57.10,468.04 70.60,471.90" fill="none" stroke="#ad0f2e" stroke-width="1.49" />
<line x1="30.30" y1="469.33" x2="30.30" y2="474.48" stroke="#ad0f2e" stroke-width="0.8" />
<line x1="29.00" y1="469.33" x2="31.60" y2="469.33" stroke="#ad0f2e" stroke-width="0.8" />
<line x1="29.00" y1="474.48" x2="31.60" y2="474.48" stroke="#ad0f2e" stroke-width="0.8" />
<line x1="43.60" y1="468.04" x2="43.60" y2="470.61" stroke="#ad0f2e" stroke-width="0.8" />
<line x1="42.30" y1="468.04" x2="44.90" y2="468.04" stroke="#ad0f2e" stroke-width="0.8" />
<line x1="42.30" y1="470.61" x2="44.90" y2="470.61" stroke="#ad0f2e" stroke-width="0.8" />
<line x1="57.10" y1="464.18" x2="57.10" y2="471.90" stroke="#ad0f2e" stroke-width="0.8" />
<line x1="55.80" y1="464.18" x2="58.40" y2="464.18" stroke="#ad0f2e" stroke-width="0.8" />
<line x1="55.80" y1="471.90" x2="58.40" y2="471.90" stroke="#ad0f2e" stroke-width="0.8" />
<line x1="70.60" y1="469.33" x2="70.60" y2="474.48" stroke="#ad0f2e" stroke-width="0.8" />
<line x1="69.30" y1="469.33" x2="71.90" y2="469.33" stroke="#ad0f2e" stroke-width="0.8" />
<line x1="69.30" y1="474.48" x2="71.90" y2="474.48" stroke="#ad0f2e" stroke-width="0.8" />
<circle cx="30.30" cy="471.90" r="2.00" fill="#ad0f2e" />
<circle cx="43.60" cy="469.33" r="2.00" fill="#ad0f2e" />
<circle cx="57.10" cy="468.04" r="2.00" fill="#ad0f2e" />
<circle cx="70.60" cy="471.90" r="2.00" fill="#ad0f2e" />
<polyline points="30.30,470.61 43.60,475.76 57.10,468.04 70.60,471.90" fill="none" stroke="#ad0f2e" stroke-width="1.15" stroke-dasharray="0.8 1.2"/>
<line x1="30.30" y1="468.04" x2="30.30" y2="473.19" stroke="#ad0f2e" stroke-width="0.8" />
<line x1="29.00" y1="468.04" x2="31.60" y2="468.04" stroke="#ad0f2e" stroke-width="0.8" />
<line x1="29.00" y1="473.19" x2="31.60" y2="473.19" stroke="#ad0f2e" stroke-width="0.8" />
<line x1="43.60" y1="473.19" x2="43.60" y2="478.34" stroke="#ad0f2e" stroke-width="0.8" />
<line x1="42.30" y1="473.19" x2="44.90" y2="473.19" stroke="#ad0f2e" stroke-width="0.8" />
<line x1="42.30" y1="478.34" x2="44.90" y2="478.34" stroke="#ad0f2e" stroke-width="0.8" />
<line x1="57.10" y1="465.46" x2="57.10" y2="470.61" stroke="#ad0f2e" stroke-width="0.8" />
<line x1="55.80" y1="465.46" x2="58.40" y2="465.46" stroke="#ad0f2e" stroke-width="0.8" />
<line x1="55.80" y1="470.61" x2="58.40" y2="470.61" stroke="#ad0f2e" stroke-width="0.8" />
<line x1="70.60" y1="469.33" x2="70.60" y2="474.48" stroke="#ad0f2e" stroke-width="0.8" />
<line x1="69.30" y1="469.33" x2="71.90" y2="469.33" stroke="#ad0f2e" stroke-width="0.8" />
<line x1="69.30" y1="474.48" x2="71.90" y2="474.48" stroke="#ad0f2e" stroke-width="0.8" />
<circle cx="30.30" cy="470.61" r="1.90" fill="#ad0f2e" />
<circle cx="43.60" cy="475.76" r="1.90" fill="#ad0f2e" />
<circle cx="57.10" cy="468.04" r="1.90" fill="#ad0f2e" />
<circle cx="70.60" cy="471.90" r="1.90" fill="#ad0f2e" />
<polyline points="30.30,471.90 43.60,479.62 57.10,480.91 70.60,486.06" fill="none" stroke="#ad0f2e" stroke-width="1.15" stroke-dasharray="2.5 1.3"/>
<line x1="30.30" y1="469.33" x2="30.30" y2="474.48" stroke="#ad0f2e" stroke-width="0.8" />
<line x1="29.00" y1="469.33" x2="31.60" y2="469.33" stroke="#ad0f2e" stroke-width="0.8" />
<line x1="29.00" y1="474.48" x2="31.60" y2="474.48" stroke="#ad0f2e" stroke-width="0.8" />
<line x1="43.60" y1="477.56" x2="43.60" y2="481.69" stroke="#ad0f2e" stroke-width="0.8" />
<line x1="42.30" y1="477.56" x2="44.90" y2="477.56" stroke="#ad0f2e" stroke-width="0.8" />
<line x1="42.30" y1="481.69" x2="44.90" y2="481.69" stroke="#ad0f2e" stroke-width="0.8" />
<line x1="57.10" y1="478.34" x2="57.10" y2="483.49" stroke="#ad0f2e" stroke-width="0.8" />
<line x1="55.80" y1="478.34" x2="58.40" y2="478.34" stroke="#ad0f2e" stroke-width="0.8" />
<line x1="55.80" y1="483.49" x2="58.40" y2="483.49" stroke="#ad0f2e" stroke-width="0.8" />
<line x1="70.60" y1="484.00" x2="70.60" y2="488.12" stroke="#ad0f2e" stroke-width="0.8" />
<line x1="69.30" y1="484.00" x2="71.90" y2="484.00" stroke="#ad0f2e" stroke-width="0.8" />
<line x1="69.30" y1="488.12" x2="71.90" y2="488.12" stroke="#ad0f2e" stroke-width="0.8" />
<path d="M30.30,469.38 L32.61,473.58 L27.99,473.58 Z" fill="#ad0f2e" />
<path d="M43.60,477.11 L45.91,481.31 L41.29,481.31 Z" fill="#ad0f2e" />
<path d="M57.10,478.39 L59.41,482.59 L54.79,482.59 Z" fill="#ad0f2e" />
<path d="M70.60,483.54 L72.91,487.74 L68.29,487.74 Z" fill="#ad0f2e" />
<polyline points="30.30,468.04 43.60,491.21 57.10,489.41 70.60,497.65" fill="none" stroke="#ad0f2e" stroke-width="1.15" stroke-dasharray="3 1.2 0.8 1.2"/>
<line x1="30.30" y1="465.46" x2="30.30" y2="470.61" stroke="#ad0f2e" stroke-width="0.8" />
<line x1="29.00" y1="465.46" x2="31.60" y2="465.46" stroke="#ad0f2e" stroke-width="0.8" />
<line x1="29.00" y1="470.61" x2="31.60" y2="470.61" stroke="#ad0f2e" stroke-width="0.8" />
<line x1="43.60" y1="489.67" x2="43.60" y2="492.76" stroke="#ad0f2e" stroke-width="0.8" />
<line x1="42.30" y1="489.67" x2="44.90" y2="489.67" stroke="#ad0f2e" stroke-width="0.8" />
<line x1="42.30" y1="492.76" x2="44.90" y2="492.76" stroke="#ad0f2e" stroke-width="0.8" />
<line x1="57.10" y1="486.32" x2="57.10" y2="492.50" stroke="#ad0f2e" stroke-width="0.8" />
<line x1="55.80" y1="486.32" x2="58.40" y2="486.32" stroke="#ad0f2e" stroke-width="0.8" />
<line x1="55.80" y1="492.50" x2="58.40" y2="492.50" stroke="#ad0f2e" stroke-width="0.8" />
<line x1="70.60" y1="495.59" x2="70.60" y2="499.71" stroke="#ad0f2e" stroke-width="0.8" />
<line x1="69.30" y1="495.59" x2="71.90" y2="495.59" stroke="#ad0f2e" stroke-width="0.8" />
<line x1="69.30" y1="499.71" x2="71.90" y2="499.71" stroke="#ad0f2e" stroke-width="0.8" />
<rect x="28.40" y="466.14" width="3.80" height="3.80" fill="#ad0f2e" />
<rect x="41.70" y="489.31" width="3.80" height="3.80" fill="#ad0f2e" />
<rect x="55.20" y="487.51" width="3.80" height="3.80" fill="#ad0f2e" />
<rect x="68.70" y="495.75" width="3.80" height="3.80" fill="#ad0f2e" />
<polyline points="30.30,501.51 43.60,498.94 57.10,500.23 70.60,501.00" fill="none" stroke="#2c4a8c" stroke-width="1.49" />
<line x1="30.30" y1="500.74" x2="30.30" y2="502.29" stroke="#2c4a8c" stroke-width="0.8" />
<line x1="29.00" y1="500.74" x2="31.60" y2="500.74" stroke="#2c4a8c" stroke-width="0.8" />
<line x1="29.00" y1="502.29" x2="31.60" y2="502.29" stroke="#2c4a8c" stroke-width="0.8" />
<line x1="43.60" y1="497.91" x2="43.60" y2="499.97" stroke="#2c4a8c" stroke-width="0.8" />
<line x1="42.30" y1="497.91" x2="44.90" y2="497.91" stroke="#2c4a8c" stroke-width="0.8" />
<line x1="42.30" y1="499.97" x2="44.90" y2="499.97" stroke="#2c4a8c" stroke-width="0.8" />
<line x1="57.10" y1="499.45" x2="57.10" y2="501.00" stroke="#2c4a8c" stroke-width="0.8" />
<line x1="55.80" y1="499.45" x2="58.40" y2="499.45" stroke="#2c4a8c" stroke-width="0.8" />
<line x1="55.80" y1="501.00" x2="58.40" y2="501.00" stroke="#2c4a8c" stroke-width="0.8" />
<line x1="70.60" y1="500.22" x2="70.60" y2="501.77" stroke="#2c4a8c" stroke-width="0.8" />
<line x1="69.30" y1="500.22" x2="71.90" y2="500.22" stroke="#2c4a8c" stroke-width="0.8" />
<line x1="69.30" y1="501.77" x2="71.90" y2="501.77" stroke="#2c4a8c" stroke-width="0.8" />
<circle cx="30.30" cy="501.51" r="2.00" fill="#2c4a8c" />
<circle cx="43.60" cy="498.94" r="2.00" fill="#2c4a8c" />
<circle cx="57.10" cy="500.23" r="2.00" fill="#2c4a8c" />
<circle cx="70.60" cy="501.00" r="2.00" fill="#2c4a8c" />
<polyline points="30.30,501.51 43.60,500.23 57.10,500.74 70.60,501.51" fill="none" stroke="#2c4a8c" stroke-width="1.15" stroke-dasharray="0.8 1.2"/>
<line x1="30.30" y1="500.74" x2="30.30" y2="502.29" stroke="#2c4a8c" stroke-width="0.8" />
<line x1="29.00" y1="500.74" x2="31.60" y2="500.74" stroke="#2c4a8c" stroke-width="0.8" />
<line x1="29.00" y1="502.29" x2="31.60" y2="502.29" stroke="#2c4a8c" stroke-width="0.8" />
<line x1="43.60" y1="499.20" x2="43.60" y2="501.25" stroke="#2c4a8c" stroke-width="0.8" />
<line x1="42.30" y1="499.20" x2="44.90" y2="499.20" stroke="#2c4a8c" stroke-width="0.8" />
<line x1="42.30" y1="501.25" x2="44.90" y2="501.25" stroke="#2c4a8c" stroke-width="0.8" />
<line x1="57.10" y1="499.97" x2="57.10" y2="501.51" stroke="#2c4a8c" stroke-width="0.8" />
<line x1="55.80" y1="499.97" x2="58.40" y2="499.97" stroke="#2c4a8c" stroke-width="0.8" />
<line x1="55.80" y1="501.51" x2="58.40" y2="501.51" stroke="#2c4a8c" stroke-width="0.8" />
<line x1="70.60" y1="500.74" x2="70.60" y2="502.29" stroke="#2c4a8c" stroke-width="0.8" />
<line x1="69.30" y1="500.74" x2="71.90" y2="500.74" stroke="#2c4a8c" stroke-width="0.8" />
<line x1="69.30" y1="502.29" x2="71.90" y2="502.29" stroke="#2c4a8c" stroke-width="0.8" />
<circle cx="30.30" cy="501.51" r="1.90" fill="#2c4a8c" />
<circle cx="43.60" cy="500.23" r="1.90" fill="#2c4a8c" />
<circle cx="57.10" cy="500.74" r="1.90" fill="#2c4a8c" />
<circle cx="70.60" cy="501.51" r="1.90" fill="#2c4a8c" />
<polyline points="30.30,501.51 43.60,501.51 57.10,501.51 70.60,501.51" fill="none" stroke="#2c4a8c" stroke-width="1.15" stroke-dasharray="2.5 1.3"/>
<line x1="30.30" y1="500.74" x2="30.30" y2="502.29" stroke="#2c4a8c" stroke-width="0.8" />
<line x1="29.00" y1="500.74" x2="31.60" y2="500.74" stroke="#2c4a8c" stroke-width="0.8" />
<line x1="29.00" y1="502.29" x2="31.60" y2="502.29" stroke="#2c4a8c" stroke-width="0.8" />
<line x1="43.60" y1="500.48" x2="43.60" y2="502.54" stroke="#2c4a8c" stroke-width="0.8" />
<line x1="42.30" y1="500.48" x2="44.90" y2="500.48" stroke="#2c4a8c" stroke-width="0.8" />
<line x1="42.30" y1="502.54" x2="44.90" y2="502.54" stroke="#2c4a8c" stroke-width="0.8" />
<line x1="57.10" y1="500.74" x2="57.10" y2="502.29" stroke="#2c4a8c" stroke-width="0.8" />
<line x1="55.80" y1="500.74" x2="58.40" y2="500.74" stroke="#2c4a8c" stroke-width="0.8" />
<line x1="55.80" y1="502.29" x2="58.40" y2="502.29" stroke="#2c4a8c" stroke-width="0.8" />
<line x1="70.60" y1="500.74" x2="70.60" y2="502.29" stroke="#2c4a8c" stroke-width="0.8" />
<line x1="69.30" y1="500.74" x2="71.90" y2="500.74" stroke="#2c4a8c" stroke-width="0.8" />
<line x1="69.30" y1="502.29" x2="71.90" y2="502.29" stroke="#2c4a8c" stroke-width="0.8" />
<path d="M30.30,498.99 L32.61,503.19 L27.99,503.19 Z" fill="#2c4a8c" />
<path d="M43.60,498.99 L45.91,503.19 L41.29,503.19 Z" fill="#2c4a8c" />
<path d="M57.10,498.99 L59.41,503.19 L54.79,503.19 Z" fill="#2c4a8c" />
<path d="M70.60,498.99 L72.91,503.19 L68.29,503.19 Z" fill="#2c4a8c" />
<polyline points="30.30,501.51 43.60,502.29 57.10,502.29 70.60,501.51" fill="none" stroke="#2c4a8c" stroke-width="1.15" stroke-dasharray="3 1.2 0.8 1.2"/>
<line x1="30.30" y1="500.74" x2="30.30" y2="502.29" stroke="#2c4a8c" stroke-width="0.8" />
<line x1="29.00" y1="500.74" x2="31.60" y2="500.74" stroke="#2c4a8c" stroke-width="0.8" />
<line x1="29.00" y1="502.29" x2="31.60" y2="502.29" stroke="#2c4a8c" stroke-width="0.8" />
<line x1="43.60" y1="501.26" x2="43.60" y2="503.31" stroke="#2c4a8c" stroke-width="0.8" />
<line x1="42.30" y1="501.26" x2="44.90" y2="501.26" stroke="#2c4a8c" stroke-width="0.8" />
<line x1="42.30" y1="503.31" x2="44.90" y2="503.31" stroke="#2c4a8c" stroke-width="0.8" />
<line x1="57.10" y1="501.51" x2="57.10" y2="503.06" stroke="#2c4a8c" stroke-width="0.8" />
<line x1="55.80" y1="501.51" x2="58.40" y2="501.51" stroke="#2c4a8c" stroke-width="0.8" />
<line x1="55.80" y1="503.06" x2="58.40" y2="503.06" stroke="#2c4a8c" stroke-width="0.8" />
<line x1="70.60" y1="500.74" x2="70.60" y2="502.29" stroke="#2c4a8c" stroke-width="0.8" />
<line x1="69.30" y1="500.74" x2="71.90" y2="500.74" stroke="#2c4a8c" stroke-width="0.8" />
<line x1="69.30" y1="502.29" x2="71.90" y2="502.29" stroke="#2c4a8c" stroke-width="0.8" />
<rect x="28.40" y="499.61" width="3.80" height="3.80" fill="#2c4a8c" />
<rect x="41.70" y="500.39" width="3.80" height="3.80" fill="#2c4a8c" />
<rect x="55.20" y="500.39" width="3.80" height="3.80" fill="#2c4a8c" />
<rect x="68.70" y="499.61" width="3.80" height="3.80" fill="#2c4a8c" />
<circle cx="75.20" cy="488.70" r="0.80" fill="#231f20" />
<circle cx="77.50" cy="488.70" r="0.80" fill="#231f20" />
<circle cx="79.80" cy="488.70" r="0.80" fill="#231f20" />
<circle cx="75.20" cy="499.00" r="0.80" fill="#231f20" />
<circle cx="77.50" cy="499.00" r="0.80" fill="#231f20" />
<circle cx="79.80" cy="499.00" r="0.80" fill="#231f20" />
<text x="0" y="0" font-size="8.6" text-anchor="middle" transform="translate(98.0,485.0) rotate(-90)" textLength="19.5" lengthAdjust="spacingAndGlyphs">% GFP</text>
<line x1="122.20" y1="456.80" x2="122.20" y2="513.10" stroke="#231f20" stroke-width="1.3" />
<line x1="120.20" y1="513.10" x2="122.20" y2="513.10" stroke="#231f20" stroke-width="0.9" />
<text x="116.40" y="515.50" font-size="7.28" stroke="#231f20" stroke-width="0.04" text-anchor="end" textLength="3.30" lengthAdjust="spacingAndGlyphs">0</text>
<line x1="120.20" y1="502.45" x2="122.20" y2="502.45" stroke="#231f20" stroke-width="0.9" />
<text x="116.40" y="504.85" font-size="7.28" stroke="#231f20" stroke-width="0.04" text-anchor="end" textLength="6.60" lengthAdjust="spacingAndGlyphs">20</text>
<line x1="120.20" y1="491.80" x2="122.20" y2="491.80" stroke="#231f20" stroke-width="0.9" />
<text x="116.40" y="494.20" font-size="7.28" stroke="#231f20" stroke-width="0.04" text-anchor="end" textLength="6.60" lengthAdjust="spacingAndGlyphs">40</text>
<line x1="120.20" y1="481.15" x2="122.20" y2="481.15" stroke="#231f20" stroke-width="0.9" />
<text x="116.40" y="483.55" font-size="7.28" stroke="#231f20" stroke-width="0.04" text-anchor="end" textLength="6.60" lengthAdjust="spacingAndGlyphs">60</text>
<line x1="120.20" y1="470.50" x2="122.20" y2="470.50" stroke="#231f20" stroke-width="0.9" />
<text x="116.40" y="472.90" font-size="7.28" stroke="#231f20" stroke-width="0.04" text-anchor="end" textLength="6.60" lengthAdjust="spacingAndGlyphs">80</text>
<line x1="120.20" y1="459.85" x2="122.20" y2="459.85" stroke="#231f20" stroke-width="0.9" />
<text x="116.40" y="462.25" font-size="7.28" stroke="#231f20" stroke-width="0.04" text-anchor="end" textLength="9.90" lengthAdjust="spacingAndGlyphs">100</text>
<line x1="122.20" y1="513.10" x2="173.30" y2="513.10" stroke="#231f20" stroke-width="1.3" />
<line x1="130.90" y1="513.10" x2="130.90" y2="515.10" stroke="#231f20" stroke-width="0.9" />
<line x1="148.20" y1="513.10" x2="148.20" y2="515.10" stroke="#231f20" stroke-width="0.9" />
<line x1="165.00" y1="513.10" x2="165.00" y2="515.10" stroke="#231f20" stroke-width="0.9" />
<text x="130.90" y="524.80" font-size="7.28" stroke="#231f20" stroke-width="0.04" text-anchor="middle">0</text>
<text x="148.20" y="524.80" font-size="7.28" stroke="#231f20" stroke-width="0.04" text-anchor="middle">3</text>
<text x="165.00" y="524.80" font-size="7.28" stroke="#231f20" stroke-width="0.04" text-anchor="middle">8</text>
<text x="133.10" y="450.80" font-size="8.13" stroke="#231f20" stroke-width="0.04" textLength="29.40" lengthAdjust="spacingAndGlyphs">Ter119+</text>
<line x1="202.00" y1="456.80" x2="202.00" y2="513.10" stroke="#231f20" stroke-width="1.3" />
<line x1="200.00" y1="513.10" x2="202.00" y2="513.10" stroke="#231f20" stroke-width="0.9" />
<text x="196.40" y="515.50" font-size="7.28" stroke="#231f20" stroke-width="0.04" text-anchor="end" textLength="3.30" lengthAdjust="spacingAndGlyphs">0</text>
<line x1="200.00" y1="502.45" x2="202.00" y2="502.45" stroke="#231f20" stroke-width="0.9" />
<text x="196.40" y="504.85" font-size="7.28" stroke="#231f20" stroke-width="0.04" text-anchor="end" textLength="6.60" lengthAdjust="spacingAndGlyphs">20</text>
<line x1="200.00" y1="491.80" x2="202.00" y2="491.80" stroke="#231f20" stroke-width="0.9" />
<text x="196.40" y="494.20" font-size="7.28" stroke="#231f20" stroke-width="0.04" text-anchor="end" textLength="6.60" lengthAdjust="spacingAndGlyphs">40</text>
<line x1="200.00" y1="481.15" x2="202.00" y2="481.15" stroke="#231f20" stroke-width="0.9" />
<text x="196.40" y="483.55" font-size="7.28" stroke="#231f20" stroke-width="0.04" text-anchor="end" textLength="6.60" lengthAdjust="spacingAndGlyphs">60</text>
<line x1="200.00" y1="470.50" x2="202.00" y2="470.50" stroke="#231f20" stroke-width="0.9" />
<text x="196.40" y="472.90" font-size="7.28" stroke="#231f20" stroke-width="0.04" text-anchor="end" textLength="6.60" lengthAdjust="spacingAndGlyphs">80</text>
<line x1="200.00" y1="459.85" x2="202.00" y2="459.85" stroke="#231f20" stroke-width="0.9" />
<text x="196.40" y="462.25" font-size="7.28" stroke="#231f20" stroke-width="0.04" text-anchor="end" textLength="9.90" lengthAdjust="spacingAndGlyphs">100</text>
<line x1="202.00" y1="513.10" x2="253.00" y2="513.10" stroke="#231f20" stroke-width="1.3" />
<line x1="210.20" y1="513.10" x2="210.20" y2="515.10" stroke="#231f20" stroke-width="0.9" />
<line x1="227.50" y1="513.10" x2="227.50" y2="515.10" stroke="#231f20" stroke-width="0.9" />
<line x1="244.80" y1="513.10" x2="244.80" y2="515.10" stroke="#231f20" stroke-width="0.9" />
<text x="210.20" y="524.80" font-size="7.28" stroke="#231f20" stroke-width="0.04" text-anchor="middle">0</text>
<text x="227.50" y="524.80" font-size="7.28" stroke="#231f20" stroke-width="0.04" text-anchor="middle">3</text>
<text x="244.80" y="524.80" font-size="7.28" stroke="#231f20" stroke-width="0.04" text-anchor="middle">8</text>
<text x="214.70" y="450.80" font-size="8.13" stroke="#231f20" stroke-width="0.04" textLength="25.40" lengthAdjust="spacingAndGlyphs">CD61+</text>
<line x1="281.70" y1="456.80" x2="281.70" y2="513.10" stroke="#231f20" stroke-width="1.3" />
<line x1="279.70" y1="513.10" x2="281.70" y2="513.10" stroke="#231f20" stroke-width="0.9" />
<text x="275.80" y="515.50" font-size="7.28" stroke="#231f20" stroke-width="0.04" text-anchor="end" textLength="3.30" lengthAdjust="spacingAndGlyphs">0</text>
<line x1="279.70" y1="502.45" x2="281.70" y2="502.45" stroke="#231f20" stroke-width="0.9" />
<text x="275.80" y="504.85" font-size="7.28" stroke="#231f20" stroke-width="0.04" text-anchor="end" textLength="6.60" lengthAdjust="spacingAndGlyphs">20</text>
<line x1="279.70" y1="491.80" x2="281.70" y2="491.80" stroke="#231f20" stroke-width="0.9" />
<text x="275.80" y="494.20" font-size="7.28" stroke="#231f20" stroke-width="0.04" text-anchor="end" textLength="6.60" lengthAdjust="spacingAndGlyphs">40</text>
<line x1="279.70" y1="481.15" x2="281.70" y2="481.15" stroke="#231f20" stroke-width="0.9" />
<text x="275.80" y="483.55" font-size="7.28" stroke="#231f20" stroke-width="0.04" text-anchor="end" textLength="6.60" lengthAdjust="spacingAndGlyphs">60</text>
<line x1="279.70" y1="470.50" x2="281.70" y2="470.50" stroke="#231f20" stroke-width="0.9" />
<text x="275.80" y="472.90" font-size="7.28" stroke="#231f20" stroke-width="0.04" text-anchor="end" textLength="6.60" lengthAdjust="spacingAndGlyphs">80</text>
<line x1="279.70" y1="459.85" x2="281.70" y2="459.85" stroke="#231f20" stroke-width="0.9" />
<text x="275.80" y="462.25" font-size="7.28" stroke="#231f20" stroke-width="0.04" text-anchor="end" textLength="9.90" lengthAdjust="spacingAndGlyphs">100</text>
<line x1="281.70" y1="513.10" x2="332.70" y2="513.10" stroke="#231f20" stroke-width="1.3" />
<line x1="289.80" y1="513.10" x2="289.80" y2="515.10" stroke="#231f20" stroke-width="0.9" />
<line x1="307.10" y1="513.10" x2="307.10" y2="515.10" stroke="#231f20" stroke-width="0.9" />
<line x1="324.40" y1="513.10" x2="324.40" y2="515.10" stroke="#231f20" stroke-width="0.9" />
<text x="289.80" y="524.80" font-size="7.28" stroke="#231f20" stroke-width="0.04" text-anchor="middle">0</text>
<text x="307.10" y="524.80" font-size="7.28" stroke="#231f20" stroke-width="0.04" text-anchor="middle">3</text>
<text x="324.40" y="524.80" font-size="7.28" stroke="#231f20" stroke-width="0.04" text-anchor="middle">8</text>
<text x="297.60" y="450.80" font-size="8.13" stroke="#231f20" stroke-width="0.04" textLength="19.00" lengthAdjust="spacingAndGlyphs">Gr1+</text>
<polyline points="130.90,459.85 148.20,459.58 165.00,459.85" fill="none" stroke="#2c4a8c" stroke-width="1.49" />
<circle cx="130.90" cy="459.85" r="2.20" fill="#2c4a8c" />
<circle cx="148.20" cy="459.58" r="2.20" fill="#2c4a8c" />
<circle cx="165.00" cy="459.85" r="2.20" fill="#2c4a8c" />
<polyline points="130.90,460.38 148.20,460.92 165.00,460.12" fill="none" stroke="#ad0f2e" stroke-width="1.49" />
<circle cx="130.90" cy="460.38" r="2.30" fill="#ad0f2e" />
<circle cx="148.20" cy="460.92" r="2.30" fill="#ad0f2e" />
<circle cx="165.00" cy="460.12" r="2.30" fill="#ad0f2e" />
<polyline points="130.90,462.51 148.20,460.92 165.00,460.12" fill="none" stroke="#ad0f2e" stroke-width="1.15" stroke-dasharray="0.8 1.2"/>
<line x1="130.90" y1="461.45" x2="130.90" y2="463.58" stroke="#ad0f2e" stroke-width="0.8" />
<line x1="129.60" y1="461.45" x2="132.20" y2="461.45" stroke="#ad0f2e" stroke-width="0.8" />
<line x1="129.60" y1="463.58" x2="132.20" y2="463.58" stroke="#ad0f2e" stroke-width="0.8" />
<line x1="148.20" y1="460.38" x2="148.20" y2="461.45" stroke="#ad0f2e" stroke-width="0.8" />
<line x1="146.90" y1="460.38" x2="149.50" y2="460.38" stroke="#ad0f2e" stroke-width="0.8" />
<line x1="146.90" y1="461.45" x2="149.50" y2="461.45" stroke="#ad0f2e" stroke-width="0.8" />
<line x1="165.00" y1="459.85" x2="165.00" y2="460.38" stroke="#ad0f2e" stroke-width="0.8" />
<line x1="163.70" y1="459.85" x2="166.30" y2="459.85" stroke="#ad0f2e" stroke-width="0.8" />
<line x1="163.70" y1="460.38" x2="166.30" y2="460.38" stroke="#ad0f2e" stroke-width="0.8" />
<circle cx="130.90" cy="462.51" r="1.90" fill="#ad0f2e" />
<circle cx="148.20" cy="460.92" r="1.90" fill="#ad0f2e" />
<circle cx="165.00" cy="460.12" r="1.90" fill="#ad0f2e" />
<polyline points="130.90,464.11 148.20,461.45 165.00,460.12" fill="none" stroke="#ad0f2e" stroke-width="1.15" stroke-dasharray="2.5 1.3"/>
<line x1="130.90" y1="463.04" x2="130.90" y2="465.18" stroke="#ad0f2e" stroke-width="0.8" />
<line x1="129.60" y1="463.04" x2="132.20" y2="463.04" stroke="#ad0f2e" stroke-width="0.8" />
<line x1="129.60" y1="465.18" x2="132.20" y2="465.18" stroke="#ad0f2e" stroke-width="0.8" />
<line x1="148.20" y1="460.92" x2="148.20" y2="461.98" stroke="#ad0f2e" stroke-width="0.8" />
<line x1="146.90" y1="460.92" x2="149.50" y2="460.92" stroke="#ad0f2e" stroke-width="0.8" />
<line x1="146.90" y1="461.98" x2="149.50" y2="461.98" stroke="#ad0f2e" stroke-width="0.8" />
<line x1="165.00" y1="459.85" x2="165.00" y2="460.38" stroke="#ad0f2e" stroke-width="0.8" />
<line x1="163.70" y1="459.85" x2="166.30" y2="459.85" stroke="#ad0f2e" stroke-width="0.8" />
<line x1="163.70" y1="460.38" x2="166.30" y2="460.38" stroke="#ad0f2e" stroke-width="0.8" />
<path d="M130.90,461.59 L133.21,465.79 L128.59,465.79 Z" fill="#ad0f2e" />
<path d="M148.20,458.93 L150.51,463.13 L145.89,463.13 Z" fill="#ad0f2e" />
<path d="M165.00,457.60 L167.31,461.80 L162.69,461.80 Z" fill="#ad0f2e" />
<polyline points="130.90,471.57 148.20,461.45 165.00,460.12" fill="none" stroke="#ad0f2e" stroke-width="1.15" stroke-dasharray="3 1.2 0.8 1.2"/>
<line x1="130.90" y1="469.97" x2="130.90" y2="473.16" stroke="#ad0f2e" stroke-width="0.8" />
<line x1="129.60" y1="469.97" x2="132.20" y2="469.97" stroke="#ad0f2e" stroke-width="0.8" />
<line x1="129.60" y1="473.16" x2="132.20" y2="473.16" stroke="#ad0f2e" stroke-width="0.8" />
<line x1="148.20" y1="460.92" x2="148.20" y2="461.98" stroke="#ad0f2e" stroke-width="0.8" />
<line x1="146.90" y1="460.92" x2="149.50" y2="460.92" stroke="#ad0f2e" stroke-width="0.8" />
<line x1="146.90" y1="461.98" x2="149.50" y2="461.98" stroke="#ad0f2e" stroke-width="0.8" />
<line x1="165.00" y1="459.85" x2="165.00" y2="460.38" stroke="#ad0f2e" stroke-width="0.8" />
<line x1="163.70" y1="459.85" x2="166.30" y2="459.85" stroke="#ad0f2e" stroke-width="0.8" />
<line x1="163.70" y1="460.38" x2="166.30" y2="460.38" stroke="#ad0f2e" stroke-width="0.8" />
<rect x="129.00" y="469.67" width="3.80" height="3.80" fill="#ad0f2e" />
<rect x="146.30" y="459.55" width="3.80" height="3.80" fill="#ad0f2e" />
<rect x="163.10" y="458.22" width="3.80" height="3.80" fill="#ad0f2e" />
<polyline points="130.90,473.96 148.20,461.71 165.00,460.12" fill="none" stroke="#ad0f2e" stroke-width="1.15" stroke-dasharray="3 1.2 0.8 1.2"/>
<line x1="130.90" y1="472.90" x2="130.90" y2="475.03" stroke="#ad0f2e" stroke-width="0.8" />
<line x1="129.60" y1="472.90" x2="132.20" y2="472.90" stroke="#ad0f2e" stroke-width="0.8" />
<line x1="129.60" y1="475.03" x2="132.20" y2="475.03" stroke="#ad0f2e" stroke-width="0.8" />
<line x1="148.20" y1="461.18" x2="148.20" y2="462.25" stroke="#ad0f2e" stroke-width="0.8" />
<line x1="146.90" y1="461.18" x2="149.50" y2="461.18" stroke="#ad0f2e" stroke-width="0.8" />
<line x1="146.90" y1="462.25" x2="149.50" y2="462.25" stroke="#ad0f2e" stroke-width="0.8" />
<line x1="165.00" y1="459.85" x2="165.00" y2="460.38" stroke="#ad0f2e" stroke-width="0.8" />
<line x1="163.70" y1="459.85" x2="166.30" y2="459.85" stroke="#ad0f2e" stroke-width="0.8" />
<line x1="163.70" y1="460.38" x2="166.30" y2="460.38" stroke="#ad0f2e" stroke-width="0.8" />
<rect x="129.00" y="472.06" width="3.80" height="3.80" fill="#ad0f2e" />
<rect x="146.30" y="459.81" width="3.80" height="3.80" fill="#ad0f2e" />
<rect x="163.10" y="458.22" width="3.80" height="3.80" fill="#ad0f2e" />
<polyline points="210.20,460.38 227.50,469.97 244.80,469.44" fill="none" stroke="#ad0f2e" stroke-width="1.49" />
<line x1="210.20" y1="459.85" x2="210.20" y2="460.92" stroke="#ad0f2e" stroke-width="0.8" />
<line x1="208.90" y1="459.85" x2="211.50" y2="459.85" stroke="#ad0f2e" stroke-width="0.8" />
<line x1="208.90" y1="460.92" x2="211.50" y2="460.92" stroke="#ad0f2e" stroke-width="0.8" />
<line x1="227.50" y1="468.90" x2="227.50" y2="471.03" stroke="#ad0f2e" stroke-width="0.8" />
<line x1="226.20" y1="468.90" x2="228.80" y2="468.90" stroke="#ad0f2e" stroke-width="0.8" />
<line x1="226.20" y1="471.03" x2="228.80" y2="471.03" stroke="#ad0f2e" stroke-width="0.8" />
<line x1="244.80" y1="467.84" x2="244.80" y2="471.03" stroke="#ad0f2e" stroke-width="0.8" />
<line x1="243.50" y1="467.84" x2="246.10" y2="467.84" stroke="#ad0f2e" stroke-width="0.8" />
<line x1="243.50" y1="471.03" x2="246.10" y2="471.03" stroke="#ad0f2e" stroke-width="0.8" />
<circle cx="210.20" cy="460.38" r="1.75" fill="#fff" stroke="#ad0f2e" stroke-width="1.04"/>
<circle cx="227.50" cy="469.97" r="1.75" fill="#fff" stroke="#ad0f2e" stroke-width="1.04"/>
<circle cx="244.80" cy="469.44" r="1.75" fill="#fff" stroke="#ad0f2e" stroke-width="1.04"/>
<polyline points="210.20,467.84 227.50,471.57 244.80,471.57" fill="none" stroke="#ad0f2e" stroke-width="1.15" stroke-dasharray="0.8 1.2"/>
<line x1="210.20" y1="466.24" x2="210.20" y2="469.44" stroke="#ad0f2e" stroke-width="0.8" />
<line x1="208.90" y1="466.24" x2="211.50" y2="466.24" stroke="#ad0f2e" stroke-width="0.8" />
<line x1="208.90" y1="469.44" x2="211.50" y2="469.44" stroke="#ad0f2e" stroke-width="0.8" />
<line x1="227.50" y1="469.97" x2="227.50" y2="473.16" stroke="#ad0f2e" stroke-width="0.8" />
<line x1="226.20" y1="469.97" x2="228.80" y2="469.97" stroke="#ad0f2e" stroke-width="0.8" />
<line x1="226.20" y1="473.16" x2="228.80" y2="473.16" stroke="#ad0f2e" stroke-width="0.8" />
<line x1="244.80" y1="469.97" x2="244.80" y2="473.16" stroke="#ad0f2e" stroke-width="0.8" />
<line x1="243.50" y1="469.97" x2="246.10" y2="469.97" stroke="#ad0f2e" stroke-width="0.8" />
<line x1="243.50" y1="473.16" x2="246.10" y2="473.16" stroke="#ad0f2e" stroke-width="0.8" />
<circle cx="210.20" cy="467.84" r="1.90" fill="#ad0f2e" />
<circle cx="227.50" cy="471.57" r="1.90" fill="#ad0f2e" />
<circle cx="244.80" cy="471.57" r="1.90" fill="#ad0f2e" />
<polyline points="210.20,474.76 227.50,473.16 244.80,474.76" fill="none" stroke="#ad0f2e" stroke-width="1.15" stroke-dasharray="2.5 1.3"/>
<line x1="210.20" y1="472.63" x2="210.20" y2="476.89" stroke="#ad0f2e" stroke-width="0.8" />
<line x1="208.90" y1="472.63" x2="211.50" y2="472.63" stroke="#ad0f2e" stroke-width="0.8" />
<line x1="208.90" y1="476.89" x2="211.50" y2="476.89" stroke="#ad0f2e" stroke-width="0.8" />
<line x1="227.50" y1="471.56" x2="227.50" y2="474.76" stroke="#ad0f2e" stroke-width="0.8" />
<line x1="226.20" y1="471.56" x2="228.80" y2="471.56" stroke="#ad0f2e" stroke-width="0.8" />
<line x1="226.20" y1="474.76" x2="228.80" y2="474.76" stroke="#ad0f2e" stroke-width="0.8" />
<line x1="244.80" y1="472.10" x2="244.80" y2="477.42" stroke="#ad0f2e" stroke-width="0.8" />
<line x1="243.50" y1="472.10" x2="246.10" y2="472.10" stroke="#ad0f2e" stroke-width="0.8" />
<line x1="243.50" y1="477.42" x2="246.10" y2="477.42" stroke="#ad0f2e" stroke-width="0.8" />
<path d="M210.20,472.24 L212.51,476.44 L207.89,476.44 Z" fill="#ad0f2e" />
<path d="M227.50,470.64 L229.81,474.84 L225.19,474.84 Z" fill="#ad0f2e" />
<path d="M244.80,472.24 L247.11,476.44 L242.49,476.44 Z" fill="#ad0f2e" />
<polyline points="210.20,476.89 227.50,474.23 244.80,473.70" fill="none" stroke="#ad0f2e" stroke-width="1.15" stroke-dasharray="3 1.2 0.8 1.2"/>
<line x1="210.20" y1="475.29" x2="210.20" y2="478.49" stroke="#ad0f2e" stroke-width="0.8" />
<line x1="208.90" y1="475.29" x2="211.50" y2="475.29" stroke="#ad0f2e" stroke-width="0.8" />
<line x1="208.90" y1="478.49" x2="211.50" y2="478.49" stroke="#ad0f2e" stroke-width="0.8" />
<line x1="227.50" y1="472.63" x2="227.50" y2="475.83" stroke="#ad0f2e" stroke-width="0.8" />
<line x1="226.20" y1="472.63" x2="228.80" y2="472.63" stroke="#ad0f2e" stroke-width="0.8" />
<line x1="226.20" y1="475.83" x2="228.80" y2="475.83" stroke="#ad0f2e" stroke-width="0.8" />
<line x1="244.80" y1="471.57" x2="244.80" y2="475.83" stroke="#ad0f2e" stroke-width="0.8" />
<line x1="243.50" y1="471.57" x2="246.10" y2="471.57" stroke="#ad0f2e" stroke-width="0.8" />
<line x1="243.50" y1="475.83" x2="246.10" y2="475.83" stroke="#ad0f2e" stroke-width="0.8" />
<rect x="208.30" y="474.99" width="3.80" height="3.80" fill="#ad0f2e" />
<rect x="225.60" y="472.33" width="3.80" height="3.80" fill="#ad0f2e" />
<rect x="242.90" y="471.80" width="3.80" height="3.80" fill="#ad0f2e" />
<polyline points="210.20,459.85 227.50,459.85 244.80,459.85" fill="none" stroke="#2c4a8c" stroke-width="1.49" />
<circle cx="210.20" cy="459.85" r="2.20" fill="#2c4a8c" />
<circle cx="227.50" cy="459.85" r="2.20" fill="#2c4a8c" />
<circle cx="244.80" cy="459.85" r="2.20" fill="#2c4a8c" />
<polyline points="289.80,466.77 307.10,464.64 324.40,466.24" fill="none" stroke="#ad0f2e" stroke-width="1.15" stroke-dasharray="3 1.2 0.8 1.2"/>
<line x1="289.80" y1="465.18" x2="289.80" y2="468.37" stroke="#ad0f2e" stroke-width="0.8" />
<line x1="288.50" y1="465.18" x2="291.10" y2="465.18" stroke="#ad0f2e" stroke-width="0.8" />
<line x1="288.50" y1="468.37" x2="291.10" y2="468.37" stroke="#ad0f2e" stroke-width="0.8" />
<line x1="307.10" y1="463.58" x2="307.10" y2="465.71" stroke="#ad0f2e" stroke-width="0.8" />
<line x1="305.80" y1="463.58" x2="308.40" y2="463.58" stroke="#ad0f2e" stroke-width="0.8" />
<line x1="305.80" y1="465.71" x2="308.40" y2="465.71" stroke="#ad0f2e" stroke-width="0.8" />
<line x1="324.40" y1="464.64" x2="324.40" y2="467.84" stroke="#ad0f2e" stroke-width="0.8" />
<line x1="323.10" y1="464.64" x2="325.70" y2="464.64" stroke="#ad0f2e" stroke-width="0.8" />
<line x1="323.10" y1="467.84" x2="325.70" y2="467.84" stroke="#ad0f2e" stroke-width="0.8" />
<rect x="287.90" y="464.87" width="3.80" height="3.80" fill="#ad0f2e" />
<rect x="305.20" y="462.74" width="3.80" height="3.80" fill="#ad0f2e" />
<rect x="322.50" y="464.34" width="3.80" height="3.80" fill="#ad0f2e" />
<polyline points="289.80,464.64 307.10,463.58 324.40,464.11" fill="none" stroke="#ad0f2e" stroke-width="1.15" stroke-dasharray="2.5 1.3"/>
<line x1="289.80" y1="463.58" x2="289.80" y2="465.71" stroke="#ad0f2e" stroke-width="0.8" />
<line x1="288.50" y1="463.58" x2="291.10" y2="463.58" stroke="#ad0f2e" stroke-width="0.8" />
<line x1="288.50" y1="465.71" x2="291.10" y2="465.71" stroke="#ad0f2e" stroke-width="0.8" />
<line x1="307.10" y1="462.51" x2="307.10" y2="464.64" stroke="#ad0f2e" stroke-width="0.8" />
<line x1="305.80" y1="462.51" x2="308.40" y2="462.51" stroke="#ad0f2e" stroke-width="0.8" />
<line x1="305.80" y1="464.64" x2="308.40" y2="464.64" stroke="#ad0f2e" stroke-width="0.8" />
<line x1="324.40" y1="463.04" x2="324.40" y2="465.18" stroke="#ad0f2e" stroke-width="0.8" />
<line x1="323.10" y1="463.04" x2="325.70" y2="463.04" stroke="#ad0f2e" stroke-width="0.8" />
<line x1="323.10" y1="465.18" x2="325.70" y2="465.18" stroke="#ad0f2e" stroke-width="0.8" />
<path d="M289.80,462.12 L292.11,466.32 L287.49,466.32 Z" fill="#ad0f2e" />
<path d="M307.10,461.06 L309.41,465.26 L304.79,465.26 Z" fill="#ad0f2e" />
<path d="M324.40,461.59 L326.71,465.79 L322.09,465.79 Z" fill="#ad0f2e" />
<polyline points="289.80,464.11 307.10,463.05 324.40,463.58" fill="none" stroke="#ad0f2e" stroke-width="1.15" stroke-dasharray="0.8 1.2"/>
<line x1="289.80" y1="463.04" x2="289.80" y2="465.18" stroke="#ad0f2e" stroke-width="0.8" />
<line x1="288.50" y1="463.04" x2="291.10" y2="463.04" stroke="#ad0f2e" stroke-width="0.8" />
<line x1="288.50" y1="465.18" x2="291.10" y2="465.18" stroke="#ad0f2e" stroke-width="0.8" />
<line x1="307.10" y1="461.98" x2="307.10" y2="464.11" stroke="#ad0f2e" stroke-width="0.8" />
<line x1="305.80" y1="461.98" x2="308.40" y2="461.98" stroke="#ad0f2e" stroke-width="0.8" />
<line x1="305.80" y1="464.11" x2="308.40" y2="464.11" stroke="#ad0f2e" stroke-width="0.8" />
<line x1="324.40" y1="462.51" x2="324.40" y2="464.64" stroke="#ad0f2e" stroke-width="0.8" />
<line x1="323.10" y1="462.51" x2="325.70" y2="462.51" stroke="#ad0f2e" stroke-width="0.8" />
<line x1="323.10" y1="464.64" x2="325.70" y2="464.64" stroke="#ad0f2e" stroke-width="0.8" />
<circle cx="289.80" cy="464.11" r="1.90" fill="#ad0f2e" />
<circle cx="307.10" cy="463.05" r="1.90" fill="#ad0f2e" />
<circle cx="324.40" cy="463.58" r="1.90" fill="#ad0f2e" />
<polyline points="289.80,461.45 307.10,463.05 324.40,462.51" fill="none" stroke="#ad0f2e" stroke-width="1.49" />
<line x1="289.80" y1="460.92" x2="289.80" y2="461.98" stroke="#ad0f2e" stroke-width="0.8" />
<line x1="288.50" y1="460.92" x2="291.10" y2="460.92" stroke="#ad0f2e" stroke-width="0.8" />
<line x1="288.50" y1="461.98" x2="291.10" y2="461.98" stroke="#ad0f2e" stroke-width="0.8" />
<line x1="307.10" y1="462.51" x2="307.10" y2="463.58" stroke="#ad0f2e" stroke-width="0.8" />
<line x1="305.80" y1="462.51" x2="308.40" y2="462.51" stroke="#ad0f2e" stroke-width="0.8" />
<line x1="305.80" y1="463.58" x2="308.40" y2="463.58" stroke="#ad0f2e" stroke-width="0.8" />
<line x1="324.40" y1="461.98" x2="324.40" y2="463.05" stroke="#ad0f2e" stroke-width="0.8" />
<line x1="323.10" y1="461.98" x2="325.70" y2="461.98" stroke="#ad0f2e" stroke-width="0.8" />
<line x1="323.10" y1="463.05" x2="325.70" y2="463.05" stroke="#ad0f2e" stroke-width="0.8" />
<circle cx="289.80" cy="461.45" r="1.84" fill="#fff" stroke="#ad0f2e" stroke-width="1.10"/>
<circle cx="307.10" cy="463.05" r="1.84" fill="#fff" stroke="#ad0f2e" stroke-width="1.10"/>
<circle cx="324.40" cy="462.51" r="1.84" fill="#fff" stroke="#ad0f2e" stroke-width="1.10"/>
<polyline points="289.80,460.92 307.10,460.92 324.40,460.92" fill="none" stroke="#2c4a8c" stroke-width="1.49" />
<circle cx="289.80" cy="460.92" r="2.20" fill="#2c4a8c" />
<circle cx="307.10" cy="460.92" r="2.20" fill="#2c4a8c" />
<circle cx="324.40" cy="460.92" r="2.20" fill="#2c4a8c" />
<polyline points="289.80,460.92 307.10,460.38 324.40,460.38" fill="none" stroke="#2c4a8c" stroke-width="1.15" stroke-dasharray="3 1.2 0.8 1.2"/>
<rect x="287.90" y="459.02" width="3.80" height="3.80" fill="#2c4a8c" />
<rect x="305.20" y="458.48" width="3.80" height="3.80" fill="#2c4a8c" />
<rect x="322.50" y="458.48" width="3.80" height="3.80" fill="#2c4a8c" />
<text x="343.00" y="330.40" font-size="12" fill="#000" stroke="#000" stroke-width="0.55" font-weight="bold" textLength="9.10" lengthAdjust="spacingAndGlyphs">G</text>
<text x="363.70" y="330.80" font-size="8.13" stroke="#231f20" stroke-width="0.04" textLength="73.30" lengthAdjust="spacingAndGlyphs">Blood glucose levels</text>
<text x="373.30" y="340.00" font-size="8.13" stroke="#231f20" stroke-width="0.04" textLength="50.00" lengthAdjust="spacingAndGlyphs">in PV patients</text>
<circle cx="377.70" cy="360.60" r="2.30" fill="#8e0f1f" stroke="#3a0a0a" stroke-width="0.4"/>
<circle cx="377.70" cy="371.20" r="2.30" fill="#f2b705" stroke="#5a4a0a" stroke-width="0.4"/>
<text x="383.50" y="362.80" font-size="7.7" fill="#b5213f" stroke="#b5213f" stroke-width="0.04" textLength="67.10" lengthAdjust="spacingAndGlyphs">Fasting glucose levels</text>
<text x="383.50" y="373.30" font-size="7.7" fill="#e0a21a" stroke="#e0a21a" stroke-width="0.04" textLength="81.70" lengthAdjust="spacingAndGlyphs">Non-fasting glucose levels</text>
<rect x="376.30" y="421.65" width="105.20" height="14.32" fill="#e4e4e4" />
<text x="356.00" y="385.80" font-size="7.06" stroke="#231f20" stroke-width="0.04" textLength="23.40" lengthAdjust="spacingAndGlyphs">(mg/dL)</text>
<text x="389.00" y="384.60" font-size="7.28" stroke="#231f20" stroke-width="0.04" textLength="25.90" lengthAdjust="spacingAndGlyphs">p=0.034</text>
<path d="M385.5,389.8 L385.5,387.5 L414.9,387.5 L414.9,389.8" fill="none" stroke="#231f20" stroke-width="0.8" />
<line x1="373.80" y1="391.00" x2="373.80" y2="459.60" stroke="#231f20" stroke-width="1.3" />
<line x1="371.60" y1="450.30" x2="373.80" y2="450.30" stroke="#231f20" stroke-width="0.9" />
<text x="368.40" y="452.70" font-size="7.28" stroke="#231f20" stroke-width="0.04" text-anchor="end" textLength="7.00" lengthAdjust="spacingAndGlyphs">40</text>
<line x1="371.60" y1="440.75" x2="373.80" y2="440.75" stroke="#231f20" stroke-width="0.9" />
<text x="368.40" y="443.15" font-size="7.28" stroke="#231f20" stroke-width="0.04" text-anchor="end" textLength="7.00" lengthAdjust="spacingAndGlyphs">60</text>
<line x1="371.60" y1="431.20" x2="373.80" y2="431.20" stroke="#231f20" stroke-width="0.9" />
<text x="368.40" y="433.60" font-size="7.28" stroke="#231f20" stroke-width="0.04" text-anchor="end" textLength="7.00" lengthAdjust="spacingAndGlyphs">80</text>
<line x1="371.60" y1="421.65" x2="373.80" y2="421.65" stroke="#231f20" stroke-width="0.9" />
<text x="368.40" y="424.05" font-size="7.28" stroke="#231f20" stroke-width="0.04" text-anchor="end" textLength="10.50" lengthAdjust="spacingAndGlyphs">100</text>
<line x1="371.60" y1="412.10" x2="373.80" y2="412.10" stroke="#231f20" stroke-width="0.9" />
<text x="368.40" y="414.50" font-size="7.28" stroke="#231f20" stroke-width="0.04" text-anchor="end" textLength="10.50" lengthAdjust="spacingAndGlyphs">120</text>
<line x1="371.60" y1="402.55" x2="373.80" y2="402.55" stroke="#231f20" stroke-width="0.9" />
<text x="368.40" y="404.95" font-size="7.28" stroke="#231f20" stroke-width="0.04" text-anchor="end" textLength="10.50" lengthAdjust="spacingAndGlyphs">140</text>
<line x1="371.60" y1="393.00" x2="373.80" y2="393.00" stroke="#231f20" stroke-width="0.9" />
<text x="368.40" y="395.40" font-size="7.28" stroke="#231f20" stroke-width="0.04" text-anchor="end" textLength="10.50" lengthAdjust="spacingAndGlyphs">160</text>
<line x1="371.60" y1="459.50" x2="373.80" y2="459.50" stroke="#231f20" stroke-width="0.9" />
<text x="368.40" y="461.90" font-size="7.28" stroke="#231f20" stroke-width="0.04" text-anchor="end" textLength="3.50" lengthAdjust="spacingAndGlyphs">0</text>
<line x1="372.50" y1="391.50" x2="373.80" y2="391.50" stroke="#231f20" stroke-width="0.55" />
<line x1="372.50" y1="393.86" x2="373.80" y2="393.86" stroke="#231f20" stroke-width="0.55" />
<line x1="372.50" y1="396.22" x2="373.80" y2="396.22" stroke="#231f20" stroke-width="0.55" />
<line x1="372.50" y1="398.58" x2="373.80" y2="398.58" stroke="#231f20" stroke-width="0.55" />
<line x1="372.50" y1="400.94" x2="373.80" y2="400.94" stroke="#231f20" stroke-width="0.55" />
<line x1="372.50" y1="403.30" x2="373.80" y2="403.30" stroke="#231f20" stroke-width="0.55" />
<line x1="372.50" y1="405.66" x2="373.80" y2="405.66" stroke="#231f20" stroke-width="0.55" />
<line x1="372.50" y1="408.02" x2="373.80" y2="408.02" stroke="#231f20" stroke-width="0.55" />
<line x1="372.50" y1="410.38" x2="373.80" y2="410.38" stroke="#231f20" stroke-width="0.55" />
<line x1="372.50" y1="412.74" x2="373.80" y2="412.74" stroke="#231f20" stroke-width="0.55" />
<line x1="372.50" y1="415.10" x2="373.80" y2="415.10" stroke="#231f20" stroke-width="0.55" />
<line x1="372.50" y1="417.46" x2="373.80" y2="417.46" stroke="#231f20" stroke-width="0.55" />
<line x1="372.50" y1="419.82" x2="373.80" y2="419.82" stroke="#231f20" stroke-width="0.55" />
<line x1="372.50" y1="422.18" x2="373.80" y2="422.18" stroke="#231f20" stroke-width="0.55" />
<line x1="372.50" y1="424.54" x2="373.80" y2="424.54" stroke="#231f20" stroke-width="0.55" />
<line x1="372.50" y1="426.90" x2="373.80" y2="426.90" stroke="#231f20" stroke-width="0.55" />
<line x1="372.50" y1="429.26" x2="373.80" y2="429.26" stroke="#231f20" stroke-width="0.55" />
<line x1="372.50" y1="431.62" x2="373.80" y2="431.62" stroke="#231f20" stroke-width="0.55" />
<line x1="372.50" y1="433.98" x2="373.80" y2="433.98" stroke="#231f20" stroke-width="0.55" />
<line x1="372.50" y1="436.34" x2="373.80" y2="436.34" stroke="#231f20" stroke-width="0.55" />
<line x1="372.50" y1="438.70" x2="373.80" y2="438.70" stroke="#231f20" stroke-width="0.55" />
<line x1="372.50" y1="441.06" x2="373.80" y2="441.06" stroke="#231f20" stroke-width="0.55" />
<line x1="372.50" y1="443.42" x2="373.80" y2="443.42" stroke="#231f20" stroke-width="0.55" />
<line x1="372.50" y1="445.78" x2="373.80" y2="445.78" stroke="#231f20" stroke-width="0.55" />
<line x1="372.50" y1="448.14" x2="373.80" y2="448.14" stroke="#231f20" stroke-width="0.55" />
<line x1="372.50" y1="450.50" x2="373.80" y2="450.50" stroke="#231f20" stroke-width="0.55" />
<line x1="372.50" y1="452.86" x2="373.80" y2="452.86" stroke="#231f20" stroke-width="0.55" />
<line x1="372.50" y1="455.22" x2="373.80" y2="455.22" stroke="#231f20" stroke-width="0.55" />
<line x1="372.50" y1="457.58" x2="373.80" y2="457.58" stroke="#231f20" stroke-width="0.55" />
<line x1="373.80" y1="459.60" x2="426.20" y2="459.60" stroke="#231f20" stroke-width="1.3" />
<line x1="388.40" y1="459.60" x2="388.40" y2="461.80" stroke="#231f20" stroke-width="0.9" />
<line x1="414.90" y1="459.60" x2="414.90" y2="461.80" stroke="#231f20" stroke-width="0.9" />
<text x="388.20" y="469.60" font-size="7.28" stroke="#231f20" stroke-width="0.04" text-anchor="middle" textLength="8.00" lengthAdjust="spacingAndGlyphs">no</text>
<text x="415.50" y="469.60" font-size="7.28" stroke="#231f20" stroke-width="0.04" text-anchor="middle" textLength="11.70" lengthAdjust="spacingAndGlyphs">yes</text>
<line x1="374.50" y1="410.20" x2="431.50" y2="410.20" stroke="#111" stroke-width="1.0" stroke-dasharray="2.6 1.8"/>
<path d="M374.2,448.9 L375.8,450.6 L374.2,452.3 L372.6,450.6 Z" fill="#231f20" />
<circle cx="388.30" cy="422.50" r="1.45" fill="#8e0f1f" stroke="#3a1a10" stroke-width="0.3"/>
<circle cx="384.40" cy="424.90" r="1.45" fill="#8e0f1f" stroke="#3a1a10" stroke-width="0.3"/>
<circle cx="388.30" cy="427.00" r="1.45" fill="#f2b705" stroke="#3a1a10" stroke-width="0.3"/>
<circle cx="392.30" cy="427.60" r="1.45" fill="#8e0f1f" stroke="#3a1a10" stroke-width="0.3"/>
<circle cx="396.20" cy="427.60" r="1.45" fill="#f2b705" stroke="#3a1a10" stroke-width="0.3"/>
<circle cx="380.40" cy="429.80" r="1.45" fill="#f2b705" stroke="#3a1a10" stroke-width="0.3"/>
<circle cx="384.40" cy="429.40" r="1.45" fill="#f2b705" stroke="#3a1a10" stroke-width="0.3"/>
<circle cx="388.30" cy="430.30" r="1.45" fill="#3a0810" stroke="#3a1a10" stroke-width="0.3"/>
<circle cx="392.30" cy="433.00" r="1.45" fill="#8e0f1f" stroke="#3a1a10" stroke-width="0.3"/>
<circle cx="388.30" cy="434.30" r="1.45" fill="#f2b705" stroke="#3a1a10" stroke-width="0.3"/>
<circle cx="384.40" cy="436.30" r="1.45" fill="#f2b705" stroke="#3a1a10" stroke-width="0.3"/>
<circle cx="392.30" cy="436.30" r="1.45" fill="#f2b705" stroke="#3a1a10" stroke-width="0.3"/>
<circle cx="388.30" cy="440.40" r="1.45" fill="#8e0f1f" stroke="#3a1a10" stroke-width="0.3"/>
<circle cx="414.70" cy="394.90" r="1.45" fill="#f2b705" stroke="#3a1a10" stroke-width="0.3"/>
<circle cx="414.70" cy="405.50" r="1.45" fill="#8e0f1f" stroke="#3a1a10" stroke-width="0.3"/>
<circle cx="411.90" cy="414.90" r="1.45" fill="#8e0f1f" stroke="#3a1a10" stroke-width="0.3"/>
<circle cx="417.70" cy="414.10" r="1.45" fill="#8e0f1f" stroke="#3a1a10" stroke-width="0.3"/>
<circle cx="407.00" cy="419.40" r="1.45" fill="#f2b705" stroke="#3a1a10" stroke-width="0.3"/>
<circle cx="409.80" cy="419.40" r="1.45" fill="#8e0f1f" stroke="#3a1a10" stroke-width="0.3"/>
<circle cx="414.70" cy="422.30" r="1.45" fill="#8e0f1f" stroke="#3a1a10" stroke-width="0.3"/>
<circle cx="417.60" cy="423.20" r="1.45" fill="#8e0f1f" stroke="#3a1a10" stroke-width="0.3"/>
<circle cx="420.00" cy="422.70" r="1.45" fill="#f2b705" stroke="#3a1a10" stroke-width="0.3"/>
<circle cx="422.90" cy="421.40" r="1.45" fill="#f2b705" stroke="#3a1a10" stroke-width="0.3"/>
<circle cx="407.00" cy="424.30" r="1.45" fill="#8e0f1f" stroke="#3a1a10" stroke-width="0.3"/>
<circle cx="412.30" cy="424.30" r="1.45" fill="#8e0f1f" stroke="#3a1a10" stroke-width="0.3"/>
<circle cx="414.70" cy="426.70" r="1.45" fill="#8e0f1f" stroke="#3a1a10" stroke-width="0.3"/>
<circle cx="409.40" cy="427.80" r="1.45" fill="#8e0f1f" stroke="#3a1a10" stroke-width="0.3"/>
<circle cx="417.40" cy="428.40" r="1.45" fill="#8e0f1f" stroke="#3a1a10" stroke-width="0.3"/>
<circle cx="420.00" cy="428.60" r="1.45" fill="#f2b705" stroke="#3a1a10" stroke-width="0.3"/>
<circle cx="409.40" cy="430.60" r="1.45" fill="#8e0f1f" stroke="#3a1a10" stroke-width="0.3"/>
<circle cx="407.00" cy="432.70" r="1.45" fill="#8e0f1f" stroke="#3a1a10" stroke-width="0.3"/>
<circle cx="412.30" cy="432.00" r="1.45" fill="#8e0f1f" stroke="#3a1a10" stroke-width="0.3"/>
<circle cx="414.70" cy="432.00" r="1.45" fill="#8e0f1f" stroke="#3a1a10" stroke-width="0.3"/>
<circle cx="417.60" cy="433.30" r="1.45" fill="#8e0f1f" stroke="#3a1a10" stroke-width="0.3"/>
<circle cx="420.00" cy="432.00" r="1.45" fill="#8e0f1f" stroke="#3a1a10" stroke-width="0.3"/>
<circle cx="422.90" cy="432.70" r="1.45" fill="#8e0f1f" stroke="#3a1a10" stroke-width="0.3"/>
<circle cx="414.70" cy="437.10" r="1.45" fill="#8e0f1f" stroke="#3a1a10" stroke-width="0.3"/>
<line x1="378.60" y1="430.40" x2="397.60" y2="430.40" stroke="#231f20" stroke-width="0.9" />
<line x1="388.40" y1="428.40" x2="388.40" y2="432.40" stroke="#231f20" stroke-width="0.8" />
<line x1="410.20" y1="423.90" x2="424.10" y2="423.90" stroke="#231f20" stroke-width="0.9" />
<line x1="414.70" y1="421.60" x2="414.70" y2="426.20" stroke="#231f20" stroke-width="0.8" />
<line x1="434.70" y1="408.60" x2="434.70" y2="398.36" stroke="#231f20" stroke-width="1.2" />
<path d="M433.10,399.20 L434.70,395.00 L436.30,399.20 Z" fill="#231f20" />
<line x1="434.70" y1="437.30" x2="434.70" y2="443.24" stroke="#231f20" stroke-width="1.2" />
<path d="M433.10,442.40 L434.70,446.60 L436.30,442.40 Z" fill="#231f20" />
<path d="M433.8,410.2 Q435.8,410.2 435.8,412.0 L435.8,414.4 Q435.8,415.4 437.2,415.6 Q435.8,415.8 435.8,416.8 L435.8,418.6 Q435.8,420.2 433.8,420.2" fill="none" stroke="#231f20" stroke-width="1.1" />
<text x="438.70" y="395.80" font-size="7.38" stroke="#231f20" stroke-width="0.04" textLength="32.30" lengthAdjust="spacingAndGlyphs">Suspected</text>
<text x="438.70" y="402.20" font-size="7.38" stroke="#231f20" stroke-width="0.04" textLength="26.50" lengthAdjust="spacingAndGlyphs">diabetes</text>
<text x="438.70" y="413.00" font-size="7.38" stroke="#231f20" stroke-width="0.04" textLength="35.10" lengthAdjust="spacingAndGlyphs">Mild hyper-</text>
<text x="438.70" y="419.40" font-size="7.38" stroke="#231f20" stroke-width="0.04" textLength="27.50" lengthAdjust="spacingAndGlyphs">glycemia</text>
<text x="438.70" y="427.10" font-size="7.38" stroke="#231f20" stroke-width="0.04" textLength="44.80" lengthAdjust="spacingAndGlyphs">Normal range:</text>
<text x="438.70" y="434.20" font-size="7.38" stroke="#231f20" stroke-width="0.04" textLength="43.80" lengthAdjust="spacingAndGlyphs">70-100 mg/dL</text>
<text x="438.70" y="443.80" font-size="7.38" stroke="#231f20" stroke-width="0.04" textLength="32.30" lengthAdjust="spacingAndGlyphs">Suspected</text>
<text x="438.70" y="449.80" font-size="7.38" stroke="#231f20" stroke-width="0.04" textLength="42.50" lengthAdjust="spacingAndGlyphs">hypoglycemia</text>
<text x="438.70" y="464.60" font-size="7.38" stroke="#231f20" stroke-width="0.04" textLength="46.10" lengthAdjust="spacingAndGlyphs">Treatment with</text>
<text x="438.70" y="470.90" font-size="7.38" stroke="#231f20" stroke-width="0.04" textLength="42.50" lengthAdjust="spacingAndGlyphs">cytoreductive</text>
<text x="438.70" y="477.10" font-size="7.38" stroke="#231f20" stroke-width="0.04" textLength="21.70" lengthAdjust="spacingAndGlyphs">agents</text>
<text x="8.10" y="560.80" font-size="12" fill="#000" stroke="#000" stroke-width="0.55" font-weight="bold" textLength="8.40" lengthAdjust="spacingAndGlyphs">H</text>
<rect x="23.50" y="550.30" width="227.00" height="141.00" fill="#eff4fc" />
<rect x="250.50" y="550.30" width="167.50" height="141.00" fill="#fcf2f2" />
<text x="48.50" y="561.50" font-size="7.49" stroke="#231f20" stroke-width="0.04" textLength="150.70" lengthAdjust="spacingAndGlyphs">Metabolic reprogramming in hematopoietic cells</text>
<text x="46.70" y="577.60" font-size="7.7" fill="#d23a3a" stroke="#d23a3a" stroke-width="0.04" textLength="60.60" lengthAdjust="spacingAndGlyphs">Expression of mutant</text>
<text x="109.60" y="577.60" font-size="7.7" fill="#d23a3a" stroke="#d23a3a" stroke-width="0.04" font-style="italic" textLength="20.60" lengthAdjust="spacingAndGlyphs">JAK2</text>
<path d="M86.0,584.6 L91.3,584.6 L91.3,596.3 L94.6,596.3 L88.6,605.6 L82.7,596.3 L86.0,596.3 Z" fill="#cf2020" />
<line x1="97.20" y1="591.80" x2="97.20" y2="599.40" stroke="#5a4fb2" stroke-width="1.2" />
<line x1="97.20" y1="595.60" x2="111.00" y2="595.60" stroke="#5a4fb2" stroke-width="1.2" />
<text x="115.40" y="599.30" font-size="7.49" fill="#5a4fb2" stroke="#5a4fb2" stroke-width="0.04" textLength="30.80" lengthAdjust="spacingAndGlyphs">ruxolitinib</text>
<text x="29.50" y="605.80" font-size="7.49" stroke="#231f20" stroke-width="0.04" textLength="26.00" lengthAdjust="spacingAndGlyphs">Nutrient</text>
<text x="29.50" y="613.80" font-size="7.49" stroke="#231f20" stroke-width="0.04" textLength="37.50" lengthAdjust="spacingAndGlyphs">transporters</text>
<line x1="61.50" y1="607.40" x2="61.50" y2="605.12" stroke="#d23a3a" stroke-width="0.9" />
<path d="M60.20,605.60 L61.50,603.20 L62.80,605.60 Z" fill="#d23a3a" />
<circle cx="89.20" cy="626.40" r="16.40" fill="#d23a48" stroke="#b32030" stroke-width="0.6"/>
<circle cx="90.50" cy="625.90" r="12.90" fill="url(#sph)" />
<line x1="74.54" y1="605.63" x2="79.77" y2="610.86" stroke="#1e1e72" stroke-width="1.5" />
<line x1="72.63" y1="607.54" x2="77.86" y2="612.77" stroke="#1e1e72" stroke-width="1.5" />
<line x1="67.30" y1="622.95" x2="74.70" y2="622.95" stroke="#1e1e72" stroke-width="1.5" />
<line x1="67.30" y1="625.65" x2="74.70" y2="625.65" stroke="#1e1e72" stroke-width="1.5" />
<line x1="72.63" y1="642.86" x2="77.86" y2="637.63" stroke="#1e1e72" stroke-width="1.5" />
<line x1="74.54" y1="644.77" x2="79.77" y2="639.54" stroke="#1e1e72" stroke-width="1.5" />
<text x="26.70" y="641.40" font-size="7.49" stroke="#231f20" stroke-width="0.04" textLength="32.30" lengthAdjust="spacingAndGlyphs">Glutamine</text>
<line x1="42.90" y1="633.20" x2="56.53" y2="627.23" stroke="#231f20" stroke-width="0.8" />
<path d="M56.34,628.73 L58.20,626.50 L55.30,626.35 Z" fill="#231f20" />
<text x="48.30" y="666.90" font-size="7.49" stroke="#231f20" stroke-width="0.04" textLength="24.20" lengthAdjust="spacingAndGlyphs">Glucose</text>
<line x1="64.40" y1="661.00" x2="68.92" y2="654.87" stroke="#231f20" stroke-width="0.8" />
<path d="M69.50,656.26 L70.00,653.40 L67.41,654.72 Z" fill="#231f20" />
<text x="92.20" y="652.80" font-size="7.7" fill="#111" stroke="#111" stroke-width="0.3" font-weight="bold" textLength="31.50" lengthAdjust="spacingAndGlyphs">Glycolysis</text>
<line x1="137.30" y1="653.80" x2="137.30" y2="650.44" stroke="#d23a3a" stroke-width="0.9" />
<path d="M135.80,651.00 L137.30,648.20 L138.80,651.00 Z" fill="#d23a3a" />
<text x="92.20" y="661.60" font-size="7.49" stroke="#231f20" stroke-width="0.04" textLength="50.30" lengthAdjust="spacingAndGlyphs">(Warburg Effect)</text>
<line x1="104.80" y1="666.30" x2="112.90" y2="666.30" stroke="#5a4fb2" stroke-width="1.2" />
<line x1="108.90" y1="666.30" x2="108.90" y2="679.20" stroke="#5a4fb2" stroke-width="1.2" />
<text x="98.00" y="687.90" font-size="7.49" fill="#5a4fb2" stroke="#5a4fb2" stroke-width="0.04" textLength="13.50" lengthAdjust="spacingAndGlyphs">3PO</text>
<line x1="117.00" y1="686.00" x2="122.60" y2="686.00" stroke="#5a4fb2" stroke-width="0.9" stroke-dasharray="1.4 1.2"/>
<path d="M122.2,684.5 L125.4,686.0 L122.2,687.5 Z" fill="#5a4fb2" />
<text x="130.40" y="687.90" font-size="7.49" stroke="#231f20" stroke-width="0.04" textLength="14.00" lengthAdjust="spacingAndGlyphs">ROS</text>
<line x1="152.00" y1="689.00" x2="152.00" y2="684.08" stroke="#33339a" stroke-width="0.9" />
<path d="M150.70,684.60 L152.00,682.00 L153.30,684.60 Z" fill="#33339a" />
<text x="120.20" y="613.70" font-size="7.49" stroke="#231f20" stroke-width="0.04" textLength="30.80" lengthAdjust="spacingAndGlyphs">Metabolic</text>
<text x="112.00" y="622.10" font-size="7.49" stroke="#231f20" stroke-width="0.04" textLength="47.60" lengthAdjust="spacingAndGlyphs">reprogramming</text>
<path d="M0,-3.45 L36.80,-3.45 L36.80,-7.25 L49.30,0 L36.80,7.25 L36.80,3.45 L0,3.45 Z" fill="url(#garrow)" transform="translate(112.50,628.30) rotate(0.00)"/>
<rect x="175.3" y="577.1" width="7.8" height="7.4" rx="2.2" fill="#a3306c" stroke="#dc2438" stroke-width="0.8" transform="rotate(10 179.2 580.8)"/>
<rect x="169.2" y="581.7" width="7.8" height="7.4" rx="2.2" fill="#a3306c" stroke="#dc2438" stroke-width="0.8" transform="rotate(-15 173.1 585.4)"/>
<rect x="181.5" y="582.1" width="7.8" height="7.4" rx="2.2" fill="#a3306c" stroke="#dc2438" stroke-width="0.8" transform="rotate(20 185.4 585.8)"/>
<rect x="173.8" y="586.3" width="7.8" height="7.4" rx="2.2" fill="#a3306c" stroke="#dc2438" stroke-width="0.8" transform="rotate(0 177.7 590.0)"/>
<rect x="168.4" y="587.8" width="7.8" height="7.4" rx="2.2" fill="#a3306c" stroke="#dc2438" stroke-width="0.8" transform="rotate(25 172.3 591.5)"/>
<rect x="183.8" y="587.8" width="7.8" height="7.4" rx="2.2" fill="#a3306c" stroke="#dc2438" stroke-width="0.8" transform="rotate(-10 187.7 591.5)"/>
<rect x="170.7" y="594.0" width="7.8" height="7.4" rx="2.2" fill="#a3306c" stroke="#dc2438" stroke-width="0.8" transform="rotate(15 174.6 597.7)"/>
<rect x="179.2" y="594.8" width="7.8" height="7.4" rx="2.2" fill="#a3306c" stroke="#dc2438" stroke-width="0.8" transform="rotate(-20 183.1 598.5)"/>
<circle cx="179.20" cy="580.80" r="1.90" fill="#3b2a9e" />
<circle cx="173.10" cy="585.40" r="1.90" fill="#3b2a9e" />
<circle cx="185.40" cy="585.80" r="1.90" fill="#3b2a9e" />
<circle cx="177.70" cy="590.00" r="1.90" fill="#3b2a9e" />
<circle cx="172.30" cy="591.50" r="1.90" fill="#3b2a9e" />
<circle cx="187.70" cy="591.50" r="1.90" fill="#3b2a9e" />
<circle cx="174.60" cy="597.70" r="1.90" fill="#3b2a9e" />
<circle cx="183.10" cy="598.50" r="1.90" fill="#3b2a9e" />
<text x="193.00" y="584.60" font-size="7.49" stroke="#231f20" stroke-width="0.04" textLength="24.70" lengthAdjust="spacingAndGlyphs">Myeloid</text>
<text x="193.00" y="593.00" font-size="7.49" stroke="#231f20" stroke-width="0.04" textLength="13.00" lengthAdjust="spacingAndGlyphs">cells</text>
<ellipse cx="170.0" cy="610.8" rx="1.9" ry="1.15" fill="#efe7c6" stroke="#5a5646" stroke-width="0.55" transform="rotate(30 170.0 610.8)"/>
<ellipse cx="175.5" cy="609.8" rx="1.9" ry="1.15" fill="#efe7c6" stroke="#5a5646" stroke-width="0.55" transform="rotate(-20 175.5 609.8)"/>
<ellipse cx="181.0" cy="611.5" rx="1.9" ry="1.15" fill="#efe7c6" stroke="#5a5646" stroke-width="0.55" transform="rotate(40 181.0 611.5)"/>
<ellipse cx="169.2" cy="615.2" rx="1.9" ry="1.15" fill="#efe7c6" stroke="#5a5646" stroke-width="0.55" transform="rotate(0 169.2 615.2)"/>
<ellipse cx="174.0" cy="614.0" rx="1.9" ry="1.15" fill="#efe7c6" stroke="#5a5646" stroke-width="0.55" transform="rotate(60 174.0 614.0)"/>
<ellipse cx="178.8" cy="615.5" rx="1.9" ry="1.15" fill="#efe7c6" stroke="#5a5646" stroke-width="0.55" transform="rotate(-30 178.8 615.5)"/>
<ellipse cx="184.0" cy="616.2" rx="1.9" ry="1.15" fill="#efe7c6" stroke="#5a5646" stroke-width="0.55" transform="rotate(20 184.0 616.2)"/>
<ellipse cx="170.6" cy="619.6" rx="1.9" ry="1.15" fill="#efe7c6" stroke="#5a5646" stroke-width="0.55" transform="rotate(-40 170.6 619.6)"/>
<ellipse cx="176.0" cy="619.2" rx="1.9" ry="1.15" fill="#efe7c6" stroke="#5a5646" stroke-width="0.55" transform="rotate(10 176.0 619.2)"/>
<ellipse cx="181.5" cy="620.6" rx="1.9" ry="1.15" fill="#efe7c6" stroke="#5a5646" stroke-width="0.55" transform="rotate(-60 181.5 620.6)"/>
<ellipse cx="172.8" cy="622.2" rx="1.9" ry="1.15" fill="#efe7c6" stroke="#5a5646" stroke-width="0.55" transform="rotate(20 172.8 622.2)"/>
<text x="188.50" y="616.60" font-size="7.49" stroke="#231f20" stroke-width="0.04" textLength="26.10" lengthAdjust="spacingAndGlyphs">Platelets</text>
<ellipse cx="177.4" cy="636.4" rx="4.3" ry="2.9" fill="#fff" transform="rotate(12 177.4 636.4)"/>
<ellipse cx="184.5" cy="635.1" rx="4.3" ry="2.9" fill="#fff" transform="rotate(12 184.5 635.1)"/>
<ellipse cx="191.9" cy="638.1" rx="4.3" ry="2.9" fill="#fff" transform="rotate(12 191.9 638.1)"/>
<ellipse cx="175.1" cy="641.1" rx="4.3" ry="2.9" fill="#fff" transform="rotate(12 175.1 641.1)"/>
<ellipse cx="185.2" cy="638.8" rx="4.3" ry="2.9" fill="#fff" transform="rotate(12 185.2 638.8)"/>
<ellipse cx="183.2" cy="643.1" rx="4.3" ry="2.9" fill="#fff" transform="rotate(12 183.2 643.1)"/>
<ellipse cx="190.9" cy="643.8" rx="4.3" ry="2.9" fill="#fff" transform="rotate(12 190.9 643.8)"/>
<ellipse cx="173.1" cy="645.2" rx="4.3" ry="2.9" fill="#fff" transform="rotate(12 173.1 645.2)"/>
<ellipse cx="182.5" cy="647.5" rx="4.3" ry="2.9" fill="#fff" transform="rotate(12 182.5 647.5)"/>
<ellipse cx="188.9" cy="648.2" rx="4.3" ry="2.9" fill="#fff" transform="rotate(12 188.9 648.2)"/>
<ellipse cx="177.4" cy="649.9" rx="4.3" ry="2.9" fill="#fff" transform="rotate(12 177.4 649.9)"/>
<ellipse cx="185.9" cy="652.6" rx="4.3" ry="2.9" fill="#fff" transform="rotate(12 185.9 652.6)"/>
<ellipse cx="177.4" cy="636.4" rx="3.8" ry="2.4" fill="#d21a1c" stroke="#a80e12" stroke-width="0.5" transform="rotate(12 177.4 636.4)"/>
<ellipse cx="177.4" cy="636.7" rx="1.9" ry="0.9" fill="#b81216" transform="rotate(12 177.4 636.4)"/>
<ellipse cx="184.5" cy="635.1" rx="3.8" ry="2.4" fill="#d21a1c" stroke="#a80e12" stroke-width="0.5" transform="rotate(12 184.5 635.1)"/>
<ellipse cx="184.5" cy="635.4" rx="1.9" ry="0.9" fill="#b81216" transform="rotate(12 184.5 635.1)"/>
<ellipse cx="191.9" cy="638.1" rx="3.8" ry="2.4" fill="#d21a1c" stroke="#a80e12" stroke-width="0.5" transform="rotate(12 191.9 638.1)"/>
<ellipse cx="191.9" cy="638.4" rx="1.9" ry="0.9" fill="#b81216" transform="rotate(12 191.9 638.1)"/>
<ellipse cx="175.1" cy="641.1" rx="3.8" ry="2.4" fill="#d21a1c" stroke="#a80e12" stroke-width="0.5" transform="rotate(12 175.1 641.1)"/>
<ellipse cx="175.1" cy="641.4" rx="1.9" ry="0.9" fill="#b81216" transform="rotate(12 175.1 641.1)"/>
<ellipse cx="185.2" cy="638.8" rx="3.8" ry="2.4" fill="#d21a1c" stroke="#a80e12" stroke-width="0.5" transform="rotate(12 185.2 638.8)"/>
<ellipse cx="185.2" cy="639.1" rx="1.9" ry="0.9" fill="#b81216" transform="rotate(12 185.2 638.8)"/>
<ellipse cx="183.2" cy="643.1" rx="3.8" ry="2.4" fill="#d21a1c" stroke="#a80e12" stroke-width="0.5" transform="rotate(12 183.2 643.1)"/>
<ellipse cx="183.2" cy="643.4" rx="1.9" ry="0.9" fill="#b81216" transform="rotate(12 183.2 643.1)"/>
<ellipse cx="190.9" cy="643.8" rx="3.8" ry="2.4" fill="#d21a1c" stroke="#a80e12" stroke-width="0.5" transform="rotate(12 190.9 643.8)"/>
<ellipse cx="190.9" cy="644.1" rx="1.9" ry="0.9" fill="#b81216" transform="rotate(12 190.9 643.8)"/>
<ellipse cx="173.1" cy="645.2" rx="3.8" ry="2.4" fill="#d21a1c" stroke="#a80e12" stroke-width="0.5" transform="rotate(12 173.1 645.2)"/>
<ellipse cx="173.1" cy="645.5" rx="1.9" ry="0.9" fill="#b81216" transform="rotate(12 173.1 645.2)"/>
<ellipse cx="182.5" cy="647.5" rx="3.8" ry="2.4" fill="#d21a1c" stroke="#a80e12" stroke-width="0.5" transform="rotate(12 182.5 647.5)"/>
<ellipse cx="182.5" cy="647.8" rx="1.9" ry="0.9" fill="#b81216" transform="rotate(12 182.5 647.5)"/>
<ellipse cx="188.9" cy="648.2" rx="3.8" ry="2.4" fill="#d21a1c" stroke="#a80e12" stroke-width="0.5" transform="rotate(12 188.9 648.2)"/>
<ellipse cx="188.9" cy="648.5" rx="1.9" ry="0.9" fill="#b81216" transform="rotate(12 188.9 648.2)"/>
<ellipse cx="177.4" cy="649.9" rx="3.8" ry="2.4" fill="#d21a1c" stroke="#a80e12" stroke-width="0.5" transform="rotate(12 177.4 649.9)"/>
<ellipse cx="177.4" cy="650.2" rx="1.9" ry="0.9" fill="#b81216" transform="rotate(12 177.4 649.9)"/>
<ellipse cx="185.9" cy="652.6" rx="3.8" ry="2.4" fill="#d21a1c" stroke="#a80e12" stroke-width="0.5" transform="rotate(12 185.9 652.6)"/>
<ellipse cx="185.9" cy="652.9" rx="1.9" ry="0.9" fill="#b81216" transform="rotate(12 185.9 652.6)"/>
<text x="199.40" y="647.70" font-size="7.49" stroke="#231f20" stroke-width="0.04" textLength="13.50" lengthAdjust="spacingAndGlyphs">RBC</text>
<line x1="200.20" y1="655.70" x2="205.04" y2="655.70" stroke="#d23a3a" stroke-width="0.9" />
<path d="M204.20,657.10 L207.00,655.70 L204.20,654.30 Z" fill="#d23a3a" />
<line x1="183.00" y1="670.00" x2="183.00" y2="665.08" stroke="#d23a3a" stroke-width="0.9" />
<path d="M181.70,665.60 L183.00,663.00 L184.30,665.60 Z" fill="#d23a3a" />
<text x="175.80" y="678.80" font-size="7.49" fill="#d23a3a" stroke="#d23a3a" stroke-width="0.04" textLength="15.40" lengthAdjust="spacingAndGlyphs">HGD</text>
<text x="221.50" y="659.30" font-size="7.7" fill="#111" stroke="#111" stroke-width="0.3" font-weight="bold" textLength="18.30" lengthAdjust="spacingAndGlyphs">Hypo-</text>
<text x="216.70" y="667.00" font-size="7.7" fill="#111" stroke="#111" stroke-width="0.3" font-weight="bold" textLength="28.90" lengthAdjust="spacingAndGlyphs">glycemia</text>
<path d="M0,-3.10 L35.09,-3.10 L35.09,-6.50 L46.59,0 L35.09,6.50 L35.09,3.10 L0,3.10 Z" fill="url(#garrow)" transform="translate(222.50,607.60) rotate(12.40)"/>
<path d="M0,-3.10 L36.07,-3.10 L36.07,-6.50 L47.57,0 L36.07,6.50 L36.07,3.10 L0,3.10 Z" fill="url(#garrow)" transform="translate(220.50,639.80) rotate(-3.13)"/>
<text x="0" y="0" font-size="7.0" fill="#d23a3a" transform="translate(228.5,599.6) rotate(19.5)" textLength="31.5" lengthAdjust="spacingAndGlyphs">Mediators</text>
<text x="0" y="0" font-size="7.0" fill="#d23a3a" transform="translate(219.0,637.6) rotate(-10.5)" textLength="38.0" lengthAdjust="spacingAndGlyphs">Energy crisis</text>
<text x="256.70" y="561.50" font-size="7.49" stroke="#231f20" stroke-width="0.04" textLength="138.10" lengthAdjust="spacingAndGlyphs">Metabolic reprogramming in adipose tissues</text>
<text x="255.20" y="584.70" font-size="7.49" fill="#d23a3a" stroke="#d23a3a" stroke-width="0.04" textLength="28.50" lengthAdjust="spacingAndGlyphs">fatty acid</text>
<text x="255.20" y="593.20" font-size="7.49" fill="#d23a3a" stroke="#d23a3a" stroke-width="0.04" textLength="25.20" lengthAdjust="spacingAndGlyphs">catalysis</text>
<text x="300.80" y="593.30" font-size="7.49" stroke="#231f20" stroke-width="0.04" textLength="40.40" lengthAdjust="spacingAndGlyphs">inflammatory</text>
<text x="300.80" y="601.90" font-size="7.49" stroke="#231f20" stroke-width="0.04" textLength="28.80" lengthAdjust="spacingAndGlyphs">cytokines</text>
<line x1="282.50" y1="618.00" x2="272.47" y2="603.14" stroke="#cf2424" stroke-width="0.9" />
<path d="M274.14,603.10 L271.30,601.40 L271.82,604.67 Z" fill="#cf2424" />
<path d="M298.8,595.2 C292.0,596.0 287.6,601.0 287.6,609.2" fill="none" stroke="#cf2424" stroke-width="0.9" />
<path d="M285.8,608.6 L287.5,612.4 L289.4,608.6 Z" fill="#cf2424" />
<path d="M325.8,621.0 C333.0,617.5 337.6,612.0 338.2,606.6" fill="none" stroke="#cf2424" stroke-width="0.9" />
<path d="M336.3,607.2 L338.5,603.4 L340.1,607.6 Z" fill="#cf2424" />
<circle cx="294.50" cy="622.20" r="5.80" fill="url(#fat)" stroke="#e19d1f" stroke-width="0.8"/>
<circle cx="304.20" cy="620.60" r="5.40" fill="url(#fat)" stroke="#e19d1f" stroke-width="0.8"/>
<circle cx="313.60" cy="621.20" r="5.60" fill="url(#fat)" stroke="#e19d1f" stroke-width="0.8"/>
<circle cx="322.60" cy="624.60" r="5.80" fill="url(#fat)" stroke="#e19d1f" stroke-width="0.8"/>
<circle cx="283.80" cy="628.20" r="6.20" fill="url(#fat)" stroke="#e19d1f" stroke-width="0.8"/>
<circle cx="326.20" cy="632.60" r="5.40" fill="url(#fat)" stroke="#e19d1f" stroke-width="0.8"/>
<circle cx="283.20" cy="637.00" r="5.40" fill="url(#fat)" stroke="#e19d1f" stroke-width="0.8"/>
<circle cx="290.50" cy="636.20" r="7.00" fill="url(#fat)" stroke="#e19d1f" stroke-width="0.8"/>
<circle cx="302.00" cy="637.20" r="7.00" fill="url(#fat)" stroke="#e19d1f" stroke-width="0.8"/>
<circle cx="314.00" cy="636.20" r="6.60" fill="url(#fat)" stroke="#e19d1f" stroke-width="0.8"/>
<path d="M301.30,620.50 L303.00,618.00 L305.60,617.60 L308.00,620.00 L307.40,623.20 L304.90,624.40 L301.80,623.40 Z" fill="#c02850" />
<circle cx="304.60" cy="621.00" r="2.10" fill="#40289e" />
<path d="M292.70,629.50 L294.40,627.00 L297.00,626.60 L299.40,629.00 L298.80,632.20 L296.30,633.40 L293.20,632.40 Z" fill="#c02850" />
<circle cx="296.00" cy="630.00" r="2.10" fill="#40289e" />
<path d="M301.70,632.50 L303.40,630.00 L306.00,629.60 L308.40,632.00 L307.80,635.20 L305.30,636.40 L302.20,635.40 Z" fill="#c02850" />
<circle cx="305.00" cy="633.00" r="2.10" fill="#40289e" />
<path d="M314.70,629.50 L316.40,627.00 L319.00,626.60 L321.40,629.00 L320.80,632.20 L318.30,633.40 L315.20,632.40 Z" fill="#c02850" />
<circle cx="318.00" cy="630.00" r="2.10" fill="#40289e" />
<text x="282.80" y="654.00" font-size="7.49" stroke="#231f20" stroke-width="0.04" textLength="45.00" lengthAdjust="spacingAndGlyphs">Adipose tissue</text>
<line x1="335.00" y1="633.00" x2="350.06" y2="633.00" stroke="#cf2424" stroke-width="0.9" />
<path d="M349.10,634.40 L352.30,633.00 L349.10,631.60 Z" fill="#cf2424" />
<circle cx="372.00" cy="626.80" r="3.60" fill="url(#fat)" stroke="#e19d1f" stroke-width="0.6"/>
<circle cx="378.50" cy="626.20" r="3.60" fill="url(#fat)" stroke="#e19d1f" stroke-width="0.6"/>
<circle cx="385.00" cy="628.20" r="3.60" fill="url(#fat)" stroke="#e19d1f" stroke-width="0.6"/>
<circle cx="366.20" cy="630.40" r="4.40" fill="url(#fat)" stroke="#e19d1f" stroke-width="0.6"/>
<circle cx="386.60" cy="633.60" r="3.40" fill="url(#fat)" stroke="#e19d1f" stroke-width="0.6"/>
<circle cx="373.00" cy="634.00" r="4.40" fill="url(#fat)" stroke="#e19d1f" stroke-width="0.6"/>
<circle cx="380.40" cy="634.20" r="4.00" fill="url(#fat)" stroke="#e19d1f" stroke-width="0.6"/>
<path d="M374.19,626.23 L375.12,624.85 L376.55,624.63 L377.87,625.95 L377.54,627.71 L376.17,628.37 L374.46,627.82 Z" fill="#c02850" />
<circle cx="376.00" cy="626.50" r="1.16" fill="#40289e" />
<path d="M370.19,630.73 L371.12,629.35 L372.55,629.13 L373.87,630.45 L373.54,632.21 L372.17,632.87 L370.46,632.32 Z" fill="#c02850" />
<circle cx="372.00" cy="631.00" r="1.16" fill="#40289e" />
<path d="M374.69,632.23 L375.62,630.85 L377.05,630.63 L378.37,631.95 L378.04,633.71 L376.67,634.37 L374.96,633.82 Z" fill="#c02850" />
<circle cx="376.50" cy="632.50" r="1.16" fill="#40289e" />
<path d="M381.19,630.23 L382.12,628.85 L383.55,628.63 L384.87,629.95 L384.54,631.71 L383.17,632.37 L381.46,631.82 Z" fill="#c02850" />
<circle cx="383.00" cy="630.50" r="1.16" fill="#40289e" />
<text x="360.80" y="647.00" font-size="7.7" fill="#111" stroke="#111" stroke-width="0.3" font-weight="bold" textLength="26.90" lengthAdjust="spacingAndGlyphs">Adipose</text>
<text x="360.80" y="654.60" font-size="7.7" fill="#111" stroke="#111" stroke-width="0.3" font-weight="bold" textLength="25.40" lengthAdjust="spacingAndGlyphs">atrophy</text>
<line x1="292.30" y1="670.60" x2="269.60" y2="651.00" stroke="#4a3ea6" stroke-width="1.3" />
<line x1="267.38" y1="653.57" x2="271.82" y2="648.43" stroke="#4a3ea6" stroke-width="1.3" />
<line x1="323.00" y1="670.60" x2="343.30" y2="648.00" stroke="#4a3ea6" stroke-width="1.3" />
<line x1="340.77" y1="645.73" x2="345.83" y2="650.27" stroke="#4a3ea6" stroke-width="1.3" />
<text x="299.70" y="677.60" font-size="7.49" fill="#5a4fb2" stroke="#5a4fb2" stroke-width="0.04" textLength="13.80" lengthAdjust="spacingAndGlyphs">HFD</text>
</svg>
</body></html>
